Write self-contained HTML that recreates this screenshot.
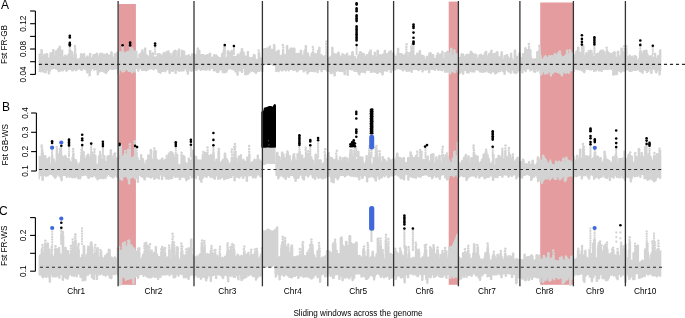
<!DOCTYPE html>
<html><head><meta charset="utf-8"><style>
html,body{margin:0;padding:0;background:#fff;width:685px;height:318px;overflow:hidden;}
svg{display:block;font-family:"Liberation Sans", sans-serif;filter:blur(0.35px);}
</style></head><body>
<svg width="685" height="318" viewBox="0 0 685 318">
<rect width="685" height="318" fill="#fff"/>
<rect x="118.7" y="4.0" width="17.20" height="280.80" fill="#e59c9e"/>
<rect x="448.7" y="1.6" width="9.30" height="283.20" fill="#e59c9e"/>
<rect x="540.2" y="2.5" width="33.10" height="282.30" fill="#e59c9e"/>
<path fill="#d3d3d3" d="M38.60 54 38.85 54 38.85 53.5 40.35 53.5 40.35 49.5 40.60 49.5 40.60 49 42.60 49 42.60 49.5 42.85 49.5 42.85 56 43.10 56 43.10 54 43.60 54 43.60 53.5 45.35 53.5 45.35 54 45.85 54 45.85 53.5 46.10 53.5 46.10 53 47.85 53 47.85 53.5 48.10 53.5 48.10 54 48.35 54 48.35 57.5 49.35 57.5 49.35 53.5 49.60 53.5 49.60 52.5 50.10 52.5 50.10 52 51.60 52 51.60 52.5 52.10 52.5 52.10 49.5 52.60 49.5 52.60 49 54.35 49 54.35 49.5 54.60 49.5 54.60 55.5 54.85 55.5 54.85 51 55.10 51 55.10 50.5 55.85 50.5 55.85 50 56.60 50 56.60 50.5 56.85 50.5 56.85 49 57.10 49 57.10 48.5 57.60 48.5 57.60 48 58.35 48 58.35 46.5 58.60 46.5 58.60 46 59.10 46 59.10 45.5 60.35 45.5 60.35 46 60.85 46 60.85 46.5 61.10 46.5 61.10 50 61.35 50 61.35 49.5 62.85 49.5 62.85 50 63.35 50 63.35 56 63.60 56 63.60 56.5 64.10 56.5 64.10 55 64.35 55 64.35 54.5 66.35 54.5 66.35 55 66.60 55 66.60 56 66.85 56 66.85 55.5 67.10 55.5 67.10 55 67.35 55 67.35 54.5 67.60 54.5 67.60 54 68.10 54 68.10 53.5 68.35 53.5 68.35 53 68.60 53 68.60 50 68.85 50 68.85 49.5 69.35 49.5 69.35 49 70.35 49 70.35 49.5 71.10 49.5 71.10 50 71.35 50 71.35 50.5 72.10 50.5 72.10 51 72.85 51 72.85 51.5 73.10 51.5 73.10 57 73.35 57 73.35 54 73.60 54 73.60 53.5 73.85 53.5 73.85 51.5 74.10 51.5 74.10 51 76.10 51 76.10 51.5 76.35 51.5 76.35 54 76.85 54 76.85 58.5 79.10 58.5 79.10 58 79.35 58 79.35 57.5 79.85 57.5 79.85 54 80.10 54 80.10 53.5 80.60 53.5 80.60 53 81.85 53 81.85 53.5 82.35 53.5 82.35 54 82.85 54 82.85 53.5 83.10 53.5 83.10 53 84.85 53 84.85 53.5 85.10 53.5 85.10 54 85.35 54 85.35 57 86.10 57 86.10 56 86.35 56 86.35 55.5 88.35 55.5 88.35 56 88.60 56 88.60 57.5 88.85 57.5 88.85 53.5 89.10 53.5 89.10 53 89.85 53 89.85 52.5 90.35 52.5 90.35 53 91.10 53 91.10 53.5 91.35 53.5 91.35 57.5 92.10 57.5 92.10 56 92.35 56 92.35 54.5 92.60 54.5 92.60 54 94.85 54 94.85 53.5 95.85 53.5 95.85 53 96.10 53 96.10 52.5 97.60 52.5 97.60 53 98.10 53 98.10 54.5 98.35 54.5 98.35 55 98.60 55 98.60 56.5 98.85 56.5 98.85 54 99.10 54 99.10 53.5 99.60 53.5 99.60 53 100.35 53 100.35 52.5 102.35 52.5 102.35 53 102.60 53 102.60 53.5 104.60 53.5 104.60 54 104.85 54 104.85 54.5 105.10 54.5 105.10 54 105.35 54 105.35 53.5 105.85 53.5 105.85 53 107.85 53 107.85 53.5 108.10 53.5 108.10 54 108.35 54 108.35 54.5 110.10 54.5 110.10 52 110.35 52 110.35 51.5 111.10 51.5 111.10 51 111.85 51 111.85 51.5 112.60 51.5 112.60 52 112.85 52 112.85 56.5 113.35 56.5 113.35 57 113.60 57 113.60 54 113.85 54 113.85 53.5 114.10 53.5 114.10 53 115.60 53 115.60 53.5 116.10 53.5 116.10 52 116.35 52 116.35 51.5 118.35 51.5 118.35 52 118.60 52 118.60 52.5 118.85 52.5 118.85 52 119.10 52 119.10 51.5 119.60 51.5 119.60 51 120.85 51 120.85 51.5 121.35 51.5 121.35 52 122.35 52 122.35 51.5 123.35 51.5 123.35 51 123.60 51 123.60 51.5 124.60 51.5 124.60 52 124.85 52 124.85 52.5 125.60 52.5 125.60 52 125.85 52 125.85 51.5 126.35 51.5 126.35 51 128.35 51 128.35 50.5 129.10 50.5 129.10 51 129.85 51 129.85 51.5 130.85 51.5 130.85 48 131.10 48 131.10 47.5 131.85 47.5 131.85 47 132.35 47 132.35 47.5 133.35 47.5 133.35 48.5 133.60 48.5 133.60 50.5 135.60 50.5 135.60 50 136.10 50 136.10 50.5 136.85 50.5 136.85 51 137.35 51 137.35 51.5 137.60 51.5 137.60 58.5 137.85 58.5 137.85 58 138.35 58 138.35 54 138.60 54 138.60 53.5 139.35 53.5 139.35 53 139.85 53 139.85 53.5 140.35 53.5 140.35 52 140.85 52 140.85 51.5 141.10 51.5 141.10 50 141.35 50 141.35 49.5 142.10 49.5 142.10 49 142.60 49 142.60 49.5 143.35 49.5 143.35 50 143.60 50 143.60 52 143.85 52 143.85 48 144.10 48 144.10 47.5 146.10 47.5 146.10 48 146.35 48 146.35 54 147.10 54 147.10 54.5 147.60 54.5 147.60 55 148.10 55 148.10 55.5 148.35 55.5 148.35 56 148.60 56 148.60 56.5 148.85 56.5 148.85 50.5 149.10 50.5 149.10 50 151.10 50 151.10 50.5 151.35 50.5 151.35 53 151.60 53 151.60 52.5 152.35 52.5 152.35 52 153.35 52 153.35 52.5 153.85 52.5 153.85 53 154.10 53 154.10 56.5 155.85 56.5 155.85 56 156.35 56 156.35 55.5 156.60 55.5 156.60 53.5 157.10 53.5 157.10 53 158.60 53 158.60 53.5 158.85 53.5 158.85 53 159.85 53 159.85 53.5 161.10 53.5 161.10 54 161.60 54 161.60 55.5 161.85 55.5 161.85 54.5 162.60 54.5 162.60 52.5 162.85 52.5 162.85 52 164.85 52 164.85 52.5 165.10 52.5 165.10 53.5 165.35 53.5 165.35 51.5 165.60 51.5 165.60 51 166.35 51 166.35 50.5 166.85 50.5 166.85 51 167.35 51 167.35 50.5 168.10 50.5 168.10 50 168.60 50 168.60 50.5 169.35 50.5 169.35 51 169.60 51 169.60 52.5 170.35 52.5 170.35 53 170.60 53 170.60 53.5 170.85 53.5 170.85 55.5 171.35 55.5 171.35 53 171.60 53 171.60 52.5 172.85 52.5 172.85 51 173.10 51 173.10 50.5 173.60 50.5 173.60 50 175.10 50 175.10 49.5 175.85 49.5 175.85 50 176.60 50 176.60 50.5 176.85 50.5 176.85 56.5 177.10 56.5 177.10 51 177.35 51 177.35 50.5 177.60 50.5 177.60 50 177.85 50 177.85 49 178.35 49 178.35 48.5 179.85 48.5 179.85 49 180.10 49 180.10 49.5 180.35 49.5 180.35 56.5 180.60 56.5 180.60 57 180.85 57 180.85 50.5 181.10 50.5 181.10 50 181.60 50 181.60 49.5 182.60 49.5 182.60 50 183.35 50 183.35 50.5 184.85 50.5 184.85 51 185.10 51 185.10 51.5 185.35 51.5 185.35 55.5 185.60 55.5 185.60 55 186.85 55 186.85 55.5 187.35 55.5 187.35 55 187.60 55 187.60 54.5 188.10 54.5 188.10 54 189.35 54 189.35 54.5 189.85 54.5 189.85 55 190.10 55 190.10 56 190.85 56 190.85 54 191.10 54 191.10 53.5 191.85 53.5 191.85 53 192.60 53 192.60 53.5 194.60 53.5 194.60 54 194.85 54 194.85 54.5 195.35 54.5 195.35 54 196.35 54 196.35 51.5 196.60 51.5 196.60 48 196.85 48 196.85 47.5 197.60 47.5 197.60 47 197.85 47 197.85 47.5 198.85 47.5 198.85 48 199.10 48 199.10 49.5 199.60 49.5 199.60 50 200.35 50 200.35 50.5 200.60 50.5 200.60 54.5 200.85 54.5 200.85 54 203.85 54 203.85 54.5 204.85 54.5 204.85 55 205.60 55 205.60 54.5 206.35 54.5 206.35 54 208.60 54 208.60 53.5 208.85 53.5 208.85 53 209.35 53 209.35 52.5 210.85 52.5 210.85 53 211.35 53 211.35 57 211.85 57 211.85 56.5 213.10 56.5 213.10 54.5 213.35 54.5 213.35 54 215.10 54 215.10 54.5 215.85 54.5 215.85 54 216.35 54 216.35 54.5 217.10 54.5 217.10 55 217.35 55 217.35 55.5 217.85 55.5 217.85 56 218.60 56 218.60 56.5 218.85 56.5 218.85 57 219.85 57 219.85 57.5 220.35 57.5 220.35 57 220.85 57 220.85 54 221.10 54 221.10 53.5 221.35 53.5 221.35 53 222.10 53 222.10 52.5 222.60 52.5 222.60 50 223.10 50 223.10 45 223.35 45 223.35 44.5 225.10 44.5 225.10 45 225.60 45 225.60 57 225.85 57 225.85 58 226.10 58 226.10 57 226.35 57 226.35 56 226.60 56 226.60 51 226.85 51 226.85 50.5 227.35 50.5 227.35 50 228.85 50 228.85 50.5 229.10 50.5 229.10 51 229.35 51 229.35 51.5 230.60 51.5 230.60 50.5 230.85 50.5 230.85 50 231.60 50 231.60 49.5 232.35 49.5 232.35 50 233.10 50 233.10 50.5 233.35 50.5 233.35 56 234.60 56 234.60 55.5 234.85 55.5 234.85 56 236.35 56 236.35 55.5 236.60 55.5 236.60 54 236.85 54 236.85 53.5 238.60 53.5 238.60 54 239.10 54 239.10 55 239.35 55 239.35 52.5 239.85 52.5 239.85 52 240.35 52 240.35 51.5 240.60 51.5 240.60 49 240.85 49 240.85 48.5 241.10 48.5 241.10 48 242.85 48 242.85 48.5 243.10 48.5 243.10 49 243.35 49 243.35 51.5 244.35 51.5 244.35 52 244.60 52 244.60 52.5 244.85 52.5 244.85 55.5 246.35 55.5 246.35 56 246.60 56 246.60 51.5 246.85 51.5 246.85 51 248.85 51 248.85 51.5 249.10 51.5 249.10 57 249.35 57 249.35 56.5 249.85 56.5 249.85 57 250.60 57 250.60 57.5 251.10 57.5 251.10 57 251.85 57 251.85 57.5 252.35 57.5 252.35 56 252.60 56 252.60 55 252.85 55 252.85 54.5 253.10 54.5 253.10 54 254.10 54 254.10 53.5 254.35 53.5 254.35 54 255.10 54 255.10 54.5 255.60 54.5 255.60 55 255.85 55 255.85 59 257.35 59 257.35 58.5 257.60 58.5 257.60 52.5 257.85 52.5 257.85 52 260.10 52 260.10 52.5 260.35 52.5 260.35 56 260.60 56 260.60 57.5 261.85 57.5 261.85 58 262.35 58 262.35 57.5 262.60 57.5 262.60 48.5 263.60 48.5 263.60 48 266.10 48 266.10 47.5 267.85 47.5 267.85 47 268.60 47 268.60 46 268.85 46 268.85 45.5 269.85 45.5 269.85 45 270.10 45 270.10 45.5 270.85 45.5 270.85 46 271.10 46 271.10 48.5 271.60 48.5 271.60 49 272.85 49 272.85 44.5 273.10 44.5 273.10 44 275.10 44 275.10 44.5 275.35 44.5 275.35 45 275.60 45 275.60 51.5 276.10 51.5 276.10 51 276.60 51 276.60 50.5 277.35 50.5 277.35 50 277.60 50 277.60 49.5 279.35 49.5 279.35 50 279.60 50 279.60 50.5 279.85 50.5 279.85 55.5 280.35 55.5 280.35 55 280.85 55 280.85 54.5 281.85 54.5 281.85 49.5 282.10 49.5 282.10 49 283.10 49 283.10 48.5 283.35 48.5 283.35 49 284.10 49 284.10 49.5 284.35 49.5 284.35 54.5 284.85 54.5 284.85 54 285.85 54 285.85 45.5 286.35 45.5 286.35 45 287.85 45 287.85 45.5 288.35 45.5 288.35 49.5 289.35 49.5 289.35 48.5 289.60 48.5 289.60 48 290.10 48 290.10 47.5 293.10 47.5 293.10 48 293.35 48 293.35 47.5 295.10 47.5 295.10 48 295.35 48 295.35 48.5 295.60 48.5 295.60 53 296.35 53 296.35 52.5 296.85 52.5 296.85 53 298.10 53 298.10 52.5 298.60 52.5 298.60 53 299.60 53 299.60 50.5 299.85 50.5 299.85 50 300.35 50 300.35 49.5 301.60 49.5 301.60 50 302.10 50 302.10 50.5 302.35 50.5 302.35 54.5 303.35 54.5 303.35 51 303.60 51 303.60 50 304.10 50 304.10 49.5 304.60 49.5 304.60 45.5 304.85 45.5 304.85 45 306.85 45 306.85 45.5 307.10 45.5 307.10 52.5 308.85 52.5 308.85 53 309.10 53 309.10 55.5 309.60 55.5 309.60 56 309.85 56 309.85 56.5 310.10 56.5 310.10 57.5 310.35 57.5 310.35 54 310.60 54 310.60 53.5 311.10 53.5 311.10 52.5 311.60 52.5 311.60 52 311.85 52 311.85 51.5 312.10 51.5 312.10 51 314.10 51 314.10 51.5 314.35 51.5 314.35 53.5 314.85 53.5 314.85 53 316.35 53 316.35 53.5 316.85 53.5 316.85 50.5 317.10 50.5 317.10 50 318.10 50 318.10 47.5 318.35 47.5 318.35 47 318.85 47 318.85 46.5 320.10 46.5 320.10 47 320.60 47 320.60 54.5 320.85 54.5 320.85 54 322.10 54 322.10 54.5 322.60 54.5 322.60 55 322.85 55 322.85 55.5 323.10 55.5 323.10 56 323.35 56 323.35 56.5 323.60 56.5 323.60 56 323.85 56 323.85 55.5 324.35 55.5 324.35 55 325.35 55 325.35 48.5 325.85 48.5 325.85 48 327.10 48 327.10 48.5 327.60 48.5 327.60 49 327.85 49 327.85 57 329.10 57 329.10 56.5 329.85 56.5 329.85 56 330.10 56 330.10 55.5 330.85 55.5 330.85 56 331.10 56 331.10 47 331.85 47 331.85 46.5 332.85 46.5 332.85 47 333.35 47 333.35 47.5 333.60 47.5 333.60 52.5 334.10 52.5 334.10 53 334.35 53 334.35 53.5 334.60 53.5 334.60 53 335.35 53 335.35 53.5 336.10 53.5 336.10 54 336.35 54 336.35 53.5 336.60 53.5 336.60 53 337.10 53 337.10 52.5 337.35 52.5 337.35 52 337.60 52 337.60 51.5 339.35 51.5 339.35 52 339.85 52 339.85 54.5 340.10 54.5 340.10 55 340.35 55 340.35 55.5 340.85 55.5 340.85 56 341.35 56 341.35 53.5 341.85 53.5 341.85 53 343.10 53 343.10 53.5 343.60 53.5 343.60 54 343.85 54 343.85 54.5 344.35 54.5 344.35 54 345.10 54 345.10 54.5 345.60 54.5 345.60 55 345.85 55 345.85 53.5 346.10 53.5 346.10 53 346.85 53 346.85 52.5 347.60 52.5 347.60 53 348.35 53 348.35 56 348.60 56 348.60 55.5 349.60 55.5 349.60 55 349.85 55 349.85 55.5 350.60 55.5 350.60 55 350.85 55 350.85 54.5 351.10 54.5 351.10 52 351.35 52 351.35 51.5 351.85 51.5 351.85 51 353.35 51 353.35 51.5 353.60 51.5 353.60 52 353.85 52 353.85 55.5 354.85 55.5 354.85 56 355.60 56 355.60 56.5 355.85 56.5 355.85 57 356.10 57 356.10 58.5 356.85 58.5 356.85 56 357.10 56 357.10 55.5 357.60 55.5 357.60 55 357.85 55 357.85 54.5 358.10 54.5 358.10 54 358.85 54 358.85 51.5 359.35 51.5 359.35 51 361.10 51 361.10 51.5 361.60 51.5 361.60 52 362.35 52 362.35 52.5 362.85 52.5 362.85 53.5 363.10 53.5 363.10 53 364.35 53 364.35 53.5 364.85 53.5 364.85 54 365.10 54 365.10 56 365.60 56 365.60 54.5 366.10 54.5 366.10 54 367.85 54 367.85 54.5 368.10 54.5 368.10 52.5 368.35 52.5 368.35 52 368.85 52 368.85 51.5 369.35 51.5 369.35 50 369.60 50 369.60 49.5 371.60 49.5 371.60 50 371.85 50 371.85 55 373.10 55 373.10 55.5 373.60 55.5 373.60 52.5 373.85 52.5 373.85 52 374.35 52 374.35 51.5 375.35 51.5 375.35 52 376.10 52 376.10 56.5 376.35 56.5 376.35 50.5 376.60 50.5 376.60 50 377.10 50 377.10 49.5 378.35 49.5 378.35 50 378.85 50 378.85 50.5 379.10 50.5 379.10 54.5 379.85 54.5 379.85 54 380.85 54 380.85 54.5 381.60 54.5 381.60 54 382.60 54 382.60 53.5 383.10 53.5 383.10 53 383.60 53 383.60 50.5 383.85 50.5 383.85 50 384.60 50 384.60 49.5 385.35 49.5 385.35 50 385.85 50 385.85 50.5 386.10 50.5 386.10 53 387.60 53 387.60 53.5 387.85 53.5 387.85 52 388.10 52 388.10 51.5 388.60 51.5 388.60 51 389.60 51 389.60 50.5 390.10 50.5 390.10 50 391.60 50 391.60 50.5 391.85 50.5 391.85 51 392.10 51 392.10 52 392.35 52 392.35 52.5 393.85 52.5 393.85 53 394.35 53 394.35 53.5 394.60 53.5 394.60 54 394.85 54 394.85 55.5 395.85 55.5 395.85 56 396.35 56 396.35 53.5 396.60 53.5 396.60 53 396.85 53 396.85 48 397.60 48 397.60 47.5 398.60 47.5 398.60 48 399.10 48 399.10 48.5 399.35 48.5 399.35 53 402.10 53 402.10 53.5 402.35 53.5 402.35 54 403.35 54 403.35 54.5 404.35 54.5 404.35 55 404.60 55 404.60 53.5 404.85 53.5 404.85 53 405.35 53 405.35 51.5 405.85 51.5 405.85 51 407.35 51 407.35 51.5 407.85 51.5 407.85 56.5 408.10 56.5 408.10 52.5 408.35 52.5 408.35 52 410.10 52 410.10 51 410.35 51 410.35 50.5 410.85 50.5 410.85 50 411.35 50 411.35 49 411.60 49 411.60 48.5 412.35 48.5 412.35 48 412.60 48 412.60 48.5 413.60 48.5 413.60 49 413.85 49 413.85 52 414.10 52 414.10 52.5 414.35 52.5 414.35 54.5 415.35 54.5 415.35 55 415.85 55 415.85 55.5 416.10 55.5 416.10 53 416.35 53 416.35 52.5 418.35 52.5 418.35 53 418.60 53 418.60 50.5 419.10 50.5 419.10 50 420.85 50 420.85 50.5 421.10 50.5 421.10 54.5 422.60 54.5 422.60 55 424.10 55 424.10 55.5 424.60 55.5 424.60 56 424.85 56 424.85 58.5 425.60 58.5 425.60 56 426.10 56 426.10 55.5 427.35 55.5 427.35 56 427.85 56 427.85 56.5 428.10 56.5 428.10 53.5 428.35 53.5 428.35 53 428.85 53 428.85 52.5 429.60 52.5 429.60 52 431.35 52 431.35 52.5 431.60 52.5 431.60 53 431.85 53 431.85 54.5 432.10 54.5 432.10 54 433.85 54 433.85 54.5 434.35 54.5 434.35 58 435.60 58 435.60 55.5 435.85 55.5 435.85 55 436.60 55 436.60 53 436.85 53 436.85 52.5 438.85 52.5 438.85 53 439.10 53 439.10 54 439.60 54 439.60 53.5 441.10 53.5 441.10 51 441.85 51 441.85 50.5 442.85 50.5 442.85 51 443.35 51 443.35 51.5 443.60 51.5 443.60 57.5 443.85 57.5 443.85 58 444.10 58 444.10 52.5 444.60 52.5 444.60 52 446.10 52 446.10 51.5 446.60 51.5 446.60 51 447.10 51 447.10 50.5 448.10 50.5 448.10 51 448.60 51 448.60 51.5 448.85 51.5 448.85 53.5 449.10 53.5 449.10 53 449.35 53 449.35 52.5 449.60 52.5 449.60 52 449.85 52 449.85 48.5 450.10 48.5 450.10 48 450.60 48 450.60 47.5 451.85 47.5 451.85 48 452.35 48 452.35 48.5 452.60 48.5 452.60 54 452.85 54 452.85 55 453.10 55 453.10 50 453.35 50 453.35 49.5 453.85 49.5 453.85 49 454.85 49 454.85 49.5 455.60 49.5 455.60 52 455.85 52 455.85 53.5 456.60 53.5 456.60 53 457.35 53 457.35 53.5 458.10 53.5 458.10 54.5 458.35 54.5 458.35 57 460.10 57 460.10 56 460.35 56 460.35 54 460.60 54 460.60 53.5 461.10 53.5 461.10 53 462.10 53 462.10 53.5 463.85 53.5 463.85 54 464.10 54 464.10 54.5 464.35 54.5 464.35 56 464.85 56 464.85 55.5 465.10 55.5 465.10 55 465.35 55 465.35 54.5 465.60 54.5 465.60 54 467.10 54 467.10 53.5 468.35 53.5 468.35 54 469.10 54 469.10 53.5 469.60 53.5 469.60 51.5 469.85 51.5 469.85 51 470.35 51 470.35 50.5 471.60 50.5 471.60 51 472.10 51 472.10 51.5 472.35 51.5 472.35 52 472.60 52 472.60 52.5 473.10 52.5 473.10 53 473.85 53 473.85 53.5 476.35 53.5 476.35 54 477.10 54 477.10 54.5 477.35 54.5 477.35 57.5 478.10 57.5 478.10 55.5 478.35 55.5 478.35 55 478.60 55 478.60 54.5 479.10 54.5 479.10 54 480.35 54 480.35 53.5 481.35 53.5 481.35 54 482.10 54 482.10 55 483.60 55 483.60 53.5 483.85 53.5 483.85 53 484.10 53 484.10 52.5 484.35 52.5 484.35 52 484.85 52 484.85 51 485.60 51 485.60 50.5 486.60 50.5 486.60 51 487.10 51 487.10 51.5 487.35 51.5 487.35 55.5 487.85 55.5 487.85 54 488.10 54 488.10 53.5 488.35 53.5 488.35 53 488.85 53 488.85 52.5 490.10 52.5 490.10 50.5 490.35 50.5 490.35 50 490.85 50 490.85 49.5 492.10 49.5 492.10 50 492.60 50 492.60 53.5 493.10 53.5 493.10 53 494.85 53 494.85 52.5 495.60 52.5 495.60 52 496.10 52 496.10 51.5 496.35 51.5 496.35 51 498.10 51 498.10 51.5 498.35 51.5 498.35 52 498.60 52 498.60 55.5 498.85 55.5 498.85 56 499.35 56 499.35 56.5 499.60 56.5 499.60 57 499.85 57 499.85 56 500.10 56 500.10 55.5 500.35 55.5 500.35 52 500.60 52 500.60 51.5 501.10 51.5 501.10 51 502.10 51 502.10 51.5 502.85 51.5 502.85 59 503.10 59 503.10 58.5 503.35 58.5 503.35 55.5 503.60 55.5 503.60 55 505.60 55 505.60 54.5 505.85 54.5 505.85 54 507.85 54 507.85 54.5 508.10 54.5 508.10 55.5 508.35 55.5 508.35 56 508.60 56 508.60 56.5 508.85 56.5 508.85 57 509.35 57 509.35 57.5 509.60 57.5 509.60 58 509.85 58 509.85 53 510.35 53 510.35 52.5 511.60 52.5 511.60 53 512.10 53 512.10 53.5 512.35 53.5 512.35 57.5 512.60 57.5 512.60 58 512.85 58 512.85 59 513.10 59 513.10 59.5 513.60 59.5 513.60 50.5 513.85 50.5 513.85 50 514.10 50 514.10 49.5 516.10 49.5 516.10 50 516.35 50 516.35 56 516.60 56 516.60 55.5 517.60 55.5 517.60 56 518.10 56 518.10 53.5 518.35 53.5 518.35 52.5 519.10 52.5 519.10 52 520.10 52 520.10 52.5 520.60 52.5 520.60 53 520.85 53 520.85 56.5 521.10 56.5 521.10 57 521.60 57 521.60 57.5 521.85 57.5 521.85 54 522.10 54 522.10 53.5 522.35 53.5 522.35 53 524.10 53 524.10 48 524.35 48 524.35 47.5 524.85 47.5 524.85 47 526.10 47 526.10 47.5 526.60 47.5 526.60 49 527.85 49 527.85 48.5 528.10 48.5 528.10 48 529.60 48 529.60 48.5 530.10 48.5 530.10 49 531.10 49 531.10 49.5 531.35 49.5 531.35 50 531.60 50 531.60 56.5 531.85 56.5 531.85 57.5 532.10 57.5 532.10 58.5 533.10 58.5 533.10 58 533.60 58 533.60 58.5 534.35 58.5 534.35 59 534.60 59 534.60 58.5 535.10 58.5 535.10 58 536.10 58 536.10 51.5 536.60 51.5 536.60 51 538.10 51 538.10 50 538.35 50 538.35 49.5 538.60 49.5 538.60 49 540.35 49 540.35 49.5 540.85 49.5 540.85 54 541.35 54 541.35 55.5 541.60 55.5 541.60 56 541.85 56 541.85 58.5 542.10 58.5 542.10 59 542.35 59 542.35 58.5 542.60 58.5 542.60 58 542.85 58 542.85 57.5 543.60 57.5 543.60 56.5 543.85 56.5 543.85 56 544.35 56 544.35 55.5 544.85 55.5 544.85 55 546.10 55 546.10 55.5 546.60 55.5 546.60 56 546.85 56 546.85 57.5 547.10 57.5 547.10 57 547.85 57 547.85 56 548.35 56 548.35 55.5 548.60 55.5 548.60 55 550.35 55 550.35 55.5 550.85 55.5 550.85 55 553.35 55 553.35 55.5 553.60 55.5 553.60 53.5 553.85 53.5 553.85 53 555.85 53 555.85 53.5 556.10 53.5 556.10 55 556.35 55 556.35 54 556.60 54 556.60 53.5 557.35 53.5 557.35 52 558.10 52 558.10 51.5 559.10 51.5 559.10 52 560.35 52 560.35 52.5 561.10 52.5 561.10 53 561.35 53 561.35 55 561.85 55 561.85 55.5 562.10 55.5 562.10 56 562.35 56 562.35 56.5 562.85 56.5 562.85 56 564.10 56 564.10 55.5 564.35 55.5 564.35 55 564.85 55 564.85 54.5 565.60 54.5 565.60 54 565.85 54 565.85 50.5 566.10 50.5 566.10 50 566.35 50 566.35 49.5 567.85 49.5 567.85 50 568.35 50 568.35 53.5 568.85 53.5 568.85 52 569.10 52 569.10 51.5 569.60 51.5 569.60 51 570.85 51 570.85 51.5 571.35 51.5 571.35 52.5 573.10 52.5 573.10 53 573.35 53 573.35 53.5 573.60 53.5 573.60 55 573.85 55 573.85 54.5 574.85 54.5 574.85 53 575.10 53 575.10 51.5 575.35 51.5 575.35 51 575.85 51 575.85 50.5 576.85 50.5 576.85 47.5 577.10 47.5 577.10 47 577.35 47 577.35 46.5 579.10 46.5 579.10 47 579.35 47 579.35 47.5 579.60 47.5 579.60 52 580.10 52 580.10 51.5 580.35 51.5 580.35 52 580.85 52 580.85 51.5 581.10 51.5 581.10 51 581.35 51 581.35 50.5 582.10 50.5 582.10 46 582.35 46 582.35 45.5 582.85 45.5 582.85 45 583.85 45 583.85 45.5 584.35 45.5 584.35 46 584.60 46 584.60 55 585.10 55 585.10 53 585.35 53 585.35 52.5 586.10 52.5 586.10 52 587.10 52 587.10 52.5 587.60 52.5 587.60 50.5 587.85 50.5 587.85 50 590.10 50 590.10 49.5 591.10 49.5 591.10 50 592.35 50 592.35 50.5 592.60 50.5 592.60 53 593.35 53 593.35 53.5 593.60 53.5 593.60 56 594.35 56 594.35 54 594.60 54 594.60 53.5 596.60 53.5 596.60 53 596.85 53 596.85 52.5 598.35 52.5 598.35 53 598.85 53 598.85 51.5 599.10 51.5 599.10 51 599.60 51 599.60 50.5 600.10 50.5 600.10 50 600.60 50 600.60 49.5 603.85 49.5 603.85 50 604.10 50 604.10 51 604.60 51 604.60 51.5 605.10 51.5 605.10 52 605.35 52 605.35 54.5 605.60 54.5 605.60 50 605.85 50 605.85 49.5 606.35 49.5 606.35 49 607.35 49 607.35 49.5 608.10 49.5 608.10 51 608.60 51 608.60 51.5 608.85 51.5 608.85 52 609.60 52 609.60 52.5 609.85 52.5 609.85 53 610.35 53 610.35 52.5 610.85 52.5 610.85 53 611.60 53 611.60 53.5 611.85 53.5 611.85 52.5 612.35 52.5 612.35 52 613.35 52 613.35 51.5 613.85 51.5 613.85 51 615.10 51 615.10 51.5 615.60 51.5 615.60 52 615.85 52 615.85 56.5 616.35 56.5 616.35 57 616.60 57 616.60 51.5 616.85 51.5 616.85 51 617.35 51 617.35 50.5 618.85 50.5 618.85 51 619.10 51 619.10 51.5 619.35 51.5 619.35 55.5 619.85 55.5 619.85 55 620.35 55 620.35 48 620.60 48 620.60 47.5 622.60 47.5 622.60 48 622.85 48 622.85 51 623.35 51 623.35 50.5 625.60 50.5 625.60 50 627.10 50 627.10 50.5 627.60 50.5 627.60 56 628.10 56 628.10 56.5 628.35 56.5 628.35 55.5 628.60 55.5 628.60 55 629.10 55 629.10 54.5 630.35 54.5 630.35 55 630.85 55 630.85 56 631.10 56 631.10 56.5 631.35 56.5 631.35 56 631.60 56 631.60 55.5 632.85 55.5 632.85 56 633.10 56 633.10 56.5 633.35 56.5 633.35 57.5 633.60 57.5 633.60 55.5 633.85 55.5 633.85 55 635.85 55 635.85 55.5 636.35 55.5 636.35 56 637.10 56 637.10 56.5 637.35 56.5 637.35 59.5 638.10 59.5 638.10 58.5 638.35 58.5 638.35 58 638.60 58 638.60 57.5 638.85 57.5 638.85 52.5 639.35 52.5 639.35 51 639.85 51 639.85 50.5 641.35 50.5 641.35 51 641.85 51 641.85 53 642.35 53 642.35 52.5 642.60 52.5 642.60 50.5 642.85 50.5 642.85 50 644.85 50 644.85 50.5 645.10 50.5 645.10 50 645.60 50 645.60 49.5 647.10 49.5 647.10 50 647.60 50 647.60 53 647.85 53 647.85 53.5 648.35 53.5 648.35 54.5 648.60 54.5 648.60 55 649.10 55 649.10 55.5 649.35 55.5 649.35 56 649.60 56 649.60 55.5 650.60 55.5 650.60 55 652.60 55 652.60 55.5 652.85 55.5 652.85 57 653.10 57 653.10 56.5 653.60 56.5 653.60 57 653.85 57 653.85 53.5 654.10 53.5 654.10 53 654.85 53 654.85 52.5 655.60 52.5 655.60 53 656.10 53 656.10 53.5 656.35 53.5 656.35 57.5 656.60 57.5 656.60 58 656.85 58 656.85 56 657.10 56 657.10 55.5 657.60 55.5 657.60 55 658.85 55 658.85 50.5 659.10 50.5 659.10 50 659.60 50 659.60 49.5 660.10 49.5 660.10 49 661.35 49 661.35 49.5 661.35 49.5 661.35 70.5 660.85 70.5 660.85 74.5 660.60 74.5 660.60 75 660.35 75 660.35 75.5 658.60 75.5 658.60 75 658.35 75 658.35 70.5 658.10 70.5 658.10 71 657.60 71 657.60 72.5 657.35 72.5 657.35 73 656.85 73 656.85 73.5 655.60 73.5 655.60 73 655.10 73 655.10 71.5 654.60 71.5 654.60 70 653.60 70 653.60 69.5 652.60 69.5 652.60 73.5 652.35 73.5 652.35 74 650.35 74 650.35 73.5 650.10 73.5 650.10 70 649.35 70 649.35 71.5 649.10 71.5 649.10 72 648.10 72 648.10 72.5 647.85 72.5 647.85 73 646.10 73 646.10 72.5 645.85 72.5 645.85 71 644.85 71 644.85 70.5 643.85 70.5 643.85 72.5 643.60 72.5 643.60 73.5 642.85 73.5 642.85 74 642.10 74 642.10 73.5 641.35 73.5 641.35 72 640.85 72 640.85 72.5 639.85 72.5 639.85 72 639.10 72 639.10 70.5 636.35 70.5 636.35 71 634.10 71 634.10 70.5 633.35 70.5 633.35 71 633.10 71 633.10 71.5 631.60 71.5 631.60 72 630.10 72 630.10 72.5 629.60 72.5 629.60 72 628.85 72 628.85 71.5 628.60 71.5 628.60 70.5 626.85 70.5 626.85 70 626.35 70 626.35 71 626.10 71 626.10 71.5 625.60 71.5 625.60 72 624.35 72 624.35 71.5 623.10 71.5 623.10 72 622.10 72 622.10 72.5 621.60 72.5 621.60 73 620.35 73 620.35 72.5 619.85 72.5 619.85 72 619.10 72 619.10 71.5 618.35 71.5 618.35 71 618.10 71 618.10 74.5 617.85 74.5 617.85 75 617.10 75 617.10 75.5 616.60 75.5 616.60 75 615.35 75 615.35 75.5 614.60 75.5 614.60 75 614.35 75 614.35 75.5 613.85 75.5 613.85 76 612.85 76 612.85 75.5 612.35 75.5 612.35 75 612.10 75 612.10 70 610.35 70 610.35 69.5 609.10 69.5 609.10 70 602.85 70 602.85 71.5 602.35 71.5 602.35 72 600.60 72 600.60 71.5 600.35 71.5 600.35 70.5 600.10 70.5 600.10 71 599.85 71 599.85 71.5 598.10 71.5 598.10 71 597.85 71 597.85 70 597.10 70 597.10 71 596.85 71 596.85 71.5 594.85 71.5 594.85 72 593.35 72 593.35 71.5 592.85 71.5 592.85 70 592.10 70 592.10 70.5 589.35 70.5 589.35 70 586.85 70 586.85 69.5 585.60 69.5 585.60 72 585.35 72 585.35 73 584.60 73 584.60 73.5 583.85 73.5 583.85 73 583.10 73 583.10 72 582.85 72 582.85 71.5 581.35 71.5 581.35 71 581.10 71 581.10 70.5 577.60 70.5 577.60 70 575.60 70 575.60 69.5 574.85 69.5 574.85 72 574.10 72 574.10 72.5 573.35 72.5 573.35 72 572.60 72 572.60 71.5 572.35 71.5 572.35 71 570.85 71 570.85 71.5 570.35 71.5 570.35 72.5 570.10 72.5 570.10 73.5 569.60 73.5 569.60 74 568.10 74 568.10 73.5 567.85 73.5 567.85 73 567.35 73 567.35 73.5 566.85 73.5 566.85 74 565.60 74 565.60 73.5 564.10 73.5 564.10 73 563.85 73 563.85 72.5 563.35 72.5 563.35 75.5 563.10 75.5 563.10 76 562.85 76 562.85 76.5 561.10 76.5 561.10 76 560.85 76 560.85 75 560.35 75 560.35 74.5 559.60 74.5 559.60 74 559.35 74 559.35 73.5 557.85 73.5 557.85 73 556.35 73 556.35 72.5 553.85 72.5 553.85 73.5 553.60 73.5 553.60 74 552.10 74 552.10 76 551.85 76 551.85 76.5 549.85 76.5 549.85 75.5 549.60 75.5 549.60 72 549.10 72 549.10 72.5 548.85 72.5 548.85 73 548.60 73 548.60 73.5 547.85 73.5 547.85 74 547.35 74 547.35 74.5 544.10 74.5 544.10 74 543.85 74 543.85 73.5 543.60 73.5 543.60 72 543.10 72 543.10 73.5 542.60 73.5 542.60 75 542.35 75 542.35 75.5 540.35 75.5 540.35 75 540.10 75 540.10 74.5 539.85 74.5 539.85 74 539.60 74 539.60 73.5 539.35 73.5 539.35 70 538.85 70 538.85 70.5 538.60 70.5 538.60 71.5 538.10 71.5 538.10 72 536.85 72 536.85 71.5 536.35 71.5 536.35 69.5 536.10 69.5 536.10 72.5 535.60 72.5 535.60 73 534.35 73 534.35 72.5 533.10 72.5 533.10 72 532.85 72 532.85 70.5 532.35 70.5 532.35 70 532.10 70 532.10 69.5 531.85 69.5 531.85 71 531.35 71 531.35 71.5 529.60 71.5 529.60 71 529.35 71 529.35 69.5 526.85 69.5 526.85 71.5 526.60 71.5 526.60 72 525.85 72 525.85 72.5 525.35 72.5 525.35 72 524.60 72 524.60 71.5 524.35 71.5 524.35 70 523.85 70 523.85 70.5 523.60 70.5 523.60 73 523.10 73 523.10 73.5 521.60 73.5 521.60 73 521.10 73 521.10 70 520.85 70 520.85 70.5 519.85 70.5 519.85 71 519.10 71 519.10 71.5 518.35 71.5 518.35 72.5 518.10 72.5 518.10 73 516.85 73 516.85 74 515.85 74 515.85 74.5 515.35 74.5 515.35 74 514.60 74 514.60 73.5 513.10 73.5 513.10 73 512.85 73 512.85 72.5 512.60 72.5 512.60 70.5 511.85 70.5 511.85 73.5 511.35 73.5 511.35 74 510.10 74 510.10 73.5 509.60 73.5 509.60 73 509.35 73 509.35 72 509.10 72 509.10 72.5 507.85 72.5 507.85 72 507.35 72 507.35 71.5 507.10 71.5 507.10 70.5 505.85 70.5 505.85 74 505.60 74 505.60 74.5 505.35 74.5 505.35 75 503.85 75 503.85 74.5 503.35 74.5 503.35 72.5 503.10 72.5 503.10 72 502.10 72 502.10 71.5 501.85 71.5 501.85 70 501.60 70 501.60 71.5 500.85 71.5 500.85 72 499.85 72 499.85 72.5 498.85 72.5 498.85 72 498.35 72 498.35 72.5 497.60 72.5 497.60 73.5 497.10 73.5 497.10 74 495.85 74 495.85 74.5 494.35 74.5 494.35 74 494.10 74 494.10 73.5 493.85 73.5 493.85 72 493.60 72 493.60 72.5 491.85 72.5 491.85 73.5 491.35 73.5 491.35 74 490.10 74 490.10 73.5 489.60 73.5 489.60 73 487.85 73 487.85 72.5 487.35 72.5 487.35 71.5 486.35 71.5 486.35 72 486.10 72 486.10 72.5 483.60 72.5 483.60 73 482.10 73 482.10 72.5 481.35 72.5 481.35 73 480.60 73 480.60 72.5 479.10 72.5 479.10 72 478.85 72 478.85 71 478.10 71 478.10 70.5 476.85 70.5 476.85 70 476.35 70 476.35 70.5 475.85 70.5 475.85 71 475.35 71 475.35 72 475.10 72 475.10 72.5 474.60 72.5 474.60 73 473.85 73 473.85 72.5 473.10 72.5 473.10 72 472.85 72 472.85 72.5 471.10 72.5 471.10 72 470.60 72 470.60 71.5 470.10 71.5 470.10 72 469.85 72 469.85 72.5 469.60 72.5 469.60 73.5 466.35 73.5 466.35 73 465.85 73 465.85 71 464.35 71 464.35 74 464.10 74 464.10 74.5 463.35 74.5 463.35 75 462.60 75 462.60 74.5 462.10 74.5 462.10 74 461.85 74 461.85 72.5 461.35 72.5 461.35 73 461.10 73 461.10 73.5 460.35 73.5 460.35 74 459.60 74 459.60 74.5 458.85 74.5 458.85 74 458.35 74 458.35 73.5 458.10 73.5 458.10 73 457.60 73 457.60 72.5 457.10 72.5 457.10 72 456.85 72 456.85 70.5 456.35 70.5 456.35 70 455.85 70 455.85 73 455.35 73 455.35 73.5 453.85 73.5 453.85 73 453.60 73 453.60 72.5 452.85 72.5 452.85 72 451.60 72 451.60 73.5 451.35 73.5 451.35 74 451.10 74 451.10 74.5 449.60 74.5 449.60 74 449.10 74 449.10 72 448.85 72 448.85 72.5 448.10 72.5 448.10 73 447.35 73 447.35 72.5 446.60 72.5 446.60 72 446.35 72 446.35 72.5 445.85 72.5 445.85 73 444.60 73 444.60 72.5 444.10 72.5 444.10 69.5 443.60 69.5 443.60 71 443.10 71 443.10 71.5 441.85 71.5 441.85 71 440.60 71 440.60 70.5 439.10 70.5 439.10 71 437.10 71 437.10 70.5 436.60 70.5 436.60 69 436.10 69 436.10 69.5 435.85 69.5 435.85 70.5 435.35 70.5 435.35 71 434.10 71 434.10 70.5 433.60 70.5 433.60 70 430.35 70 430.35 73 429.60 73 429.60 73.5 428.60 73.5 428.60 73 428.10 73 428.10 72.5 427.85 72.5 427.85 70 427.10 70 427.10 70.5 423.85 70.5 423.85 71.5 423.60 71.5 423.60 72 423.35 72 423.35 72.5 421.60 72.5 421.60 72 421.35 72 421.35 70 419.85 70 419.85 70.5 419.60 70.5 419.60 71 418.85 71 418.85 71.5 418.10 71.5 418.10 71 417.35 71 417.35 70 412.85 70 412.85 72.5 412.35 72.5 412.35 73 411.10 73 411.10 72.5 410.60 72.5 410.60 72 410.35 72 410.35 71 410.10 71 410.10 71.5 409.60 71.5 409.60 72 408.60 72 408.60 71.5 408.10 71.5 408.10 71 407.85 71 407.85 71.5 407.60 71.5 407.60 72 405.85 72 405.85 71.5 405.60 71.5 405.60 71 405.35 71 405.35 69.5 405.10 69.5 405.10 70 404.35 70 404.35 71 403.85 71 403.85 71.5 402.10 71.5 402.10 71 401.85 71 401.85 70 400.35 70 400.35 69.5 396.35 69.5 396.35 70 396.10 70 396.10 70.5 394.10 70.5 394.10 70 393.85 70 393.85 69.5 393.35 69.5 393.35 70 392.60 70 392.60 71 392.35 71 392.35 71.5 392.10 71.5 392.10 72.5 391.85 72.5 391.85 73 389.85 73 389.85 72.5 389.60 72.5 389.60 70 388.35 70 388.35 71 388.10 71 388.10 71.5 387.60 71.5 387.60 72 386.60 72 386.60 71.5 385.85 71.5 385.85 71 385.60 71 385.60 71.5 383.85 71.5 383.85 74.5 383.60 74.5 383.60 75 383.35 75 383.35 75.5 381.60 75.5 381.60 75 381.35 75 381.35 73 380.10 73 380.10 72.5 379.85 72.5 379.85 72 379.35 72 379.35 73 379.10 73 379.10 73.5 378.10 73.5 378.10 74 376.35 74 376.35 73.5 376.10 73.5 376.10 73 374.85 73 374.85 72.5 373.85 72.5 373.85 73 373.60 73 373.60 72.5 372.10 72.5 372.10 73 370.10 73 370.10 72.5 369.85 72.5 369.85 70.5 369.35 70.5 369.35 71 367.60 71 367.60 70.5 366.60 70.5 366.60 71 366.35 71 366.35 71.5 366.10 71.5 366.10 73 365.60 73 365.60 73.5 364.35 73.5 364.35 73 363.85 73 363.85 72.5 363.10 72.5 363.10 73 361.85 73 361.85 72.5 361.10 72.5 361.10 73 360.60 73 360.60 74.5 360.35 74.5 360.35 75 359.85 75 359.85 75.5 358.60 75.5 358.60 75 358.10 75 358.10 74 357.85 74 357.85 73.5 357.35 73.5 357.35 72 355.60 72 355.60 71.5 355.10 71.5 355.10 72 353.85 72 353.85 71.5 353.35 71.5 353.35 70 353.10 70 353.10 70.5 350.85 70.5 350.85 70 348.85 70 348.85 75.5 348.35 75.5 348.35 76 346.85 76 346.85 75.5 346.35 75.5 346.35 70 345.85 70 345.85 75 345.10 75 345.10 75.5 344.35 75.5 344.35 75 343.60 75 343.60 74 343.35 74 343.35 71.5 343.10 71.5 343.10 72 341.60 72 341.60 71.5 341.35 71.5 341.35 72 340.10 72 340.10 71.5 339.85 71.5 339.85 72 338.60 72 338.60 71.5 338.10 71.5 338.10 71 337.85 71 337.85 70.5 337.60 70.5 337.60 71.5 336.85 71.5 336.85 72 336.10 72 336.10 71.5 335.85 71.5 335.85 76 335.35 76 335.35 76.5 333.60 76.5 333.60 76 333.35 76 333.35 73 333.10 73 333.10 73.5 332.35 73.5 332.35 74 331.60 74 331.60 74.5 330.35 74.5 330.35 74 329.85 74 329.85 73.5 329.60 73.5 329.60 72.5 329.35 72.5 329.35 72 327.85 72 327.85 71.5 326.10 71.5 326.10 71 325.85 71 325.85 70.5 325.60 70.5 325.60 70 322.85 70 322.85 72 322.10 72 322.10 72.5 321.35 72.5 321.35 72 320.60 72 320.60 71.5 320.35 71.5 320.35 70 318.85 70 318.85 72.5 318.60 72.5 318.60 73 317.60 73 317.60 73.5 317.35 73.5 317.35 73 316.60 73 316.60 72.5 316.35 72.5 316.35 71 316.10 71 316.10 71.5 315.85 71.5 315.85 72 315.35 72 315.35 72.5 314.10 72.5 314.10 72 313.60 72 313.60 71.5 313.35 71.5 313.35 72 310.85 72 310.85 71.5 310.35 71.5 310.35 72 309.60 72 309.60 72.5 308.85 72.5 308.85 73.5 308.60 73.5 308.60 74 308.10 74 308.10 74.5 306.85 74.5 306.85 74 306.35 74 306.35 71 305.10 71 305.10 72 304.60 72 304.60 72.5 303.10 72.5 303.10 72 302.60 72 302.60 70.5 302.35 70.5 302.35 70 300.10 70 300.10 70.5 298.60 70.5 298.60 71.5 298.35 71.5 298.35 72 297.85 72 297.85 72.5 296.60 72.5 296.60 72 296.10 72 296.10 71.5 295.85 71.5 295.85 71 295.35 71 295.35 70.5 295.10 70.5 295.10 70 294.85 70 294.85 70.5 294.60 70.5 294.60 71 292.60 71 292.60 70.5 292.35 70.5 292.35 70 289.85 70 289.85 71 289.35 71 289.35 71.5 287.85 71.5 287.85 71 287.60 71 287.60 70.5 287.35 70.5 287.35 70 286.85 70 286.85 71 286.60 71 286.60 71.5 284.85 71.5 284.85 71 284.60 71 284.60 70.5 284.35 70.5 284.35 70 284.10 70 284.10 70.5 283.35 70.5 283.35 71 283.10 71 283.10 71.5 281.10 71.5 281.10 71 280.85 71 280.85 70.5 279.85 70.5 279.85 71.5 279.60 71.5 279.60 72 279.10 72 279.10 72.5 278.10 72.5 278.10 72 277.60 72 277.60 71.5 277.10 71.5 277.10 72 275.35 72 275.35 71.5 275.10 71.5 275.10 66 272.85 66 272.85 65.5 271.85 65.5 271.85 65 271.10 65 271.10 64.5 267.60 64.5 267.60 65 264.60 65 264.60 65.5 263.60 65.5 263.60 71.5 263.35 71.5 263.35 72 261.35 72 261.35 71.5 261.10 71.5 261.10 70.5 260.60 70.5 260.60 71 260.35 71 260.35 71.5 260.10 71.5 260.10 72 257.10 72 257.10 73.5 256.85 73.5 256.85 74 255.10 74 255.10 73.5 254.85 73.5 254.85 73 254.60 73 254.60 72 254.35 72 254.35 72.5 253.10 72.5 253.10 72 252.60 72 252.60 71.5 251.85 71.5 251.85 72 251.10 72 251.10 71.5 250.60 71.5 250.60 73 250.10 73 250.10 73.5 248.85 73.5 248.85 74.5 248.60 74.5 248.60 75 246.85 75 246.85 74.5 246.60 74.5 246.60 75 246.35 75 246.35 75.5 244.60 75.5 244.60 75 244.35 75 244.35 74.5 244.10 74.5 244.10 69 243.35 69 243.35 72.5 242.85 72.5 242.85 73 241.10 73 241.10 72.5 240.85 72.5 240.85 71.5 239.35 71.5 239.35 71 239.10 71 239.10 70.5 238.85 70.5 238.85 75 238.60 75 238.60 75.5 238.10 75.5 238.10 76 237.10 76 237.10 75.5 236.60 75.5 236.60 75 236.35 75 236.35 72.5 235.85 72.5 235.85 73 235.35 73 235.35 72.5 234.60 72.5 234.60 72 234.35 72 234.35 70.5 232.60 70.5 232.60 70 231.60 70 231.60 69.5 227.85 69.5 227.85 71.5 227.60 71.5 227.60 72.5 226.85 72.5 226.85 73 226.10 73 226.10 72.5 225.85 72.5 225.85 73 225.35 73 225.35 73.5 224.35 73.5 224.35 73 223.35 73 223.35 73.5 222.35 73.5 222.35 73 221.85 73 221.85 72.5 221.60 72.5 221.60 70 221.35 70 221.35 70.5 219.60 70.5 219.60 72.5 219.10 72.5 219.10 73 217.60 73 217.60 72.5 217.35 72.5 217.35 73 216.35 73 216.35 72.5 215.60 72.5 215.60 71.5 215.35 71.5 215.35 71 214.85 71 214.85 71.5 213.35 71.5 213.35 71 212.85 71 212.85 70.5 212.60 70.5 212.60 69 210.85 69 210.85 70 210.60 70 210.60 70.5 210.35 70.5 210.35 71 208.85 71 208.85 70.5 208.35 70.5 208.35 69 208.10 69 208.10 69.5 207.60 69.5 207.60 70 207.35 70 207.35 70.5 207.10 70.5 207.10 71 205.60 71 205.60 70.5 205.10 70.5 205.10 70 204.85 70 204.85 70.5 202.35 70.5 202.35 70 201.85 70 201.85 70.5 201.35 70.5 201.35 71 199.85 71 199.85 70.5 199.60 70.5 199.60 70 199.35 70 199.35 69.5 197.85 69.5 197.85 70.5 197.60 70.5 197.60 71 196.60 71 196.60 71.5 196.35 71.5 196.35 71 195.60 71 195.60 70.5 195.35 70.5 195.35 69.5 194.60 69.5 194.60 69 194.10 69 194.10 70 193.85 70 193.85 70.5 192.85 70.5 192.85 71.5 192.35 71.5 192.35 72 190.85 72 190.85 71.5 189.60 71.5 189.60 71 189.35 71 189.35 70 189.10 70 189.10 74 188.85 74 188.85 74.5 188.35 74.5 188.35 75 187.35 75 187.35 74.5 186.85 74.5 186.85 74 186.60 74 186.60 72 186.35 72 186.35 71.5 186.10 71.5 186.10 71 185.85 71 185.85 69.5 184.85 69.5 184.85 70.5 184.60 70.5 184.60 71 184.35 71 184.35 71.5 182.60 71.5 182.60 71 182.35 71 182.35 71.5 181.60 71.5 181.60 72 181.35 72 181.35 71.5 179.85 71.5 179.85 72 178.60 72 178.60 71.5 177.85 71.5 177.85 71 177.35 71 177.35 70.5 176.85 70.5 176.85 73.5 176.60 73.5 176.60 74 174.85 74 174.85 73.5 174.35 73.5 174.35 69.5 174.10 69.5 174.10 71 173.85 71 173.85 71.5 173.60 71.5 173.60 72 172.10 72 172.10 71.5 171.85 71.5 171.85 72 171.35 72 171.35 71.5 170.85 71.5 170.85 73.5 170.60 73.5 170.60 74 168.85 74 168.85 73.5 168.60 73.5 168.60 73 168.35 73 168.35 70.5 167.35 70.5 167.35 70 166.60 70 166.60 71.5 166.35 71.5 166.35 72 165.85 72 165.85 72.5 164.85 72.5 164.85 72 164.35 72 164.35 71.5 163.85 71.5 163.85 72 163.10 72 163.10 72.5 162.60 72.5 162.60 72 161.85 72 161.85 71.5 161.60 71.5 161.60 73 161.35 73 161.35 73.5 160.85 73.5 160.85 74 159.85 74 159.85 73.5 159.35 73.5 159.35 73 158.10 73 158.10 72.5 157.60 72.5 157.60 72 157.35 72 157.35 70 157.10 70 157.10 69.5 156.10 69.5 156.10 69 155.10 69 155.10 69.5 154.85 69.5 154.85 70 154.60 70 154.60 70.5 153.10 70.5 153.10 70 152.60 70 152.60 69.5 149.10 69.5 149.10 70 148.85 70 148.85 70.5 147.35 70.5 147.35 71 146.85 71 146.85 71.5 145.35 71.5 145.35 71 141.35 71 141.35 70.5 141.10 70.5 141.10 70 140.85 70 140.85 69.5 140.60 69.5 140.60 69 139.60 69 139.60 71 139.35 71 139.35 71.5 138.60 71.5 138.60 72 137.85 72 137.85 71.5 137.35 71.5 137.35 71 137.10 71 137.10 69 136.10 69 136.10 71 135.85 71 135.85 72 135.60 72 135.60 72.5 134.85 72.5 134.85 73 134.10 73 134.10 72.5 133.60 72.5 133.60 72 133.35 72 133.35 71.5 133.10 71.5 133.10 73 132.85 73 132.85 73.5 131.10 73.5 131.10 73 130.85 73 130.85 72.5 130.60 72.5 130.60 72 127.85 72 127.85 71.5 127.60 71.5 127.60 70.5 126.85 70.5 126.85 70 125.60 70 125.60 71.5 125.10 71.5 125.10 72 123.85 72 123.85 72.5 121.60 72.5 121.60 72 121.35 72 121.35 71.5 121.10 71.5 121.10 70.5 119.60 70.5 119.60 74.5 119.35 74.5 119.35 75 117.35 75 117.35 74.5 117.10 74.5 117.10 69.5 114.10 69.5 114.10 70 110.85 70 110.85 69.5 109.60 69.5 109.60 70 109.35 70 109.35 70.5 109.10 70.5 109.10 71 108.60 71 108.60 71.5 108.10 71.5 108.10 72 107.35 72 107.35 73.5 106.85 73.5 106.85 74 105.10 74 105.10 73.5 104.85 73.5 104.85 73 103.60 73 103.60 72.5 103.10 72.5 103.10 72 102.35 72 102.35 71.5 102.10 71.5 102.10 72 101.60 72 101.60 71.5 101.10 71.5 101.10 72 100.85 72 100.85 72.5 99.35 72.5 99.35 72 99.10 72 99.10 74.5 98.85 74.5 98.85 75 98.35 75 98.35 75.5 97.10 75.5 97.10 75 96.60 75 96.60 70.5 96.10 70.5 96.10 70 95.35 70 95.35 70.5 94.60 70.5 94.60 71 93.85 71 93.85 70.5 93.10 70.5 93.10 69 92.10 69 92.10 70.5 91.60 70.5 91.60 71 90.85 71 90.85 75.5 90.60 75.5 90.60 76 90.35 76 90.35 76.5 88.60 76.5 88.60 76 88.35 76 88.35 73 88.10 73 88.10 73.5 86.60 73.5 86.60 73 86.10 73 86.10 70.5 85.60 70.5 85.60 70 84.60 70 84.60 69.5 82.85 69.5 82.85 70.5 82.60 70.5 82.60 71 80.60 71 80.60 70.5 80.35 70.5 80.35 70 79.60 70 79.60 69.5 77.60 69.5 77.60 70.5 77.35 70.5 77.35 71 76.35 71 76.35 71.5 75.60 71.5 75.60 71 74.85 71 74.85 70.5 74.60 70.5 74.60 70 74.10 70 74.10 70.5 73.85 70.5 73.85 71 73.35 71 73.35 71.5 71.35 71.5 71.35 71 71.10 71 71.10 70 68.35 70 68.35 70.5 68.10 70.5 68.10 71 67.60 71 67.60 71.5 66.85 71.5 66.85 72 66.10 72 66.10 71.5 65.35 71.5 65.35 71 65.10 71 65.10 70 63.85 70 63.85 71 63.60 71 63.60 71.5 61.60 71.5 61.60 71 61.10 71 61.10 71.5 59.85 71.5 59.85 72 59.10 72 59.10 72.5 58.35 72.5 58.35 72 57.60 72 57.60 70 56.35 70 56.35 69.5 55.10 69.5 55.10 69 53.35 69 53.35 69.5 51.35 69.5 51.35 70 51.10 70 51.10 70.5 50.85 70.5 50.85 71 50.60 71 50.60 72 50.35 72 50.35 72.5 50.10 72.5 50.10 74 49.60 74 49.60 74.5 48.10 74.5 48.10 74 47.85 74 47.85 73.5 47.60 73.5 47.60 70.5 46.85 70.5 46.85 72.5 46.60 72.5 46.60 73 46.35 73 46.35 73.5 44.85 73.5 44.85 73 44.35 73 44.35 72.5 44.10 72.5 44.10 73 43.35 73 43.35 72.5 42.60 72.5 42.60 71.5 42.35 71.5 42.35 72 41.85 72 41.85 72.5 40.35 72.5 40.35 72 38.60 72Z"/>
<path fill="#d3d3d3" d="M38.60 155.5 39.35 155.5 39.35 156 40.60 156 40.60 153.5 40.85 153.5 40.85 149 41.10 149 41.10 148.5 43.10 148.5 43.10 149 43.35 149 43.35 152 43.85 152 43.85 155.5 44.35 155.5 44.35 155 46.10 155 46.10 155.5 46.35 155.5 46.35 156 46.60 156 46.60 158.5 46.85 158.5 46.85 159 47.10 159 47.10 158.5 47.35 158.5 47.35 158 47.85 158 47.85 157.5 48.10 157.5 48.10 157 48.60 157 48.60 156.5 49.85 156.5 49.85 157 50.35 157 50.35 163.5 50.60 163.5 50.60 164 50.85 164 50.85 156 51.10 156 51.10 155.5 51.60 155.5 51.60 155 52.85 155 52.85 155.5 53.35 155.5 53.35 158.5 54.60 158.5 54.60 159 54.85 159 54.85 162 55.10 162 55.10 162.5 55.35 162.5 55.35 160 55.60 160 55.60 149 55.85 149 55.85 148.5 56.10 148.5 56.10 148 57.60 148 57.60 148.5 58.10 148.5 58.10 153.5 58.85 153.5 58.85 148.5 59.10 148.5 59.10 148 59.35 148 59.35 147.5 61.10 147.5 61.10 148 61.35 148 61.35 148.5 61.60 148.5 61.60 155 62.60 155 62.60 155.5 63.10 155.5 63.10 156 63.60 156 63.60 156.5 64.10 156.5 64.10 155.5 64.35 155.5 64.35 155 64.85 155 64.85 154.5 65.60 154.5 65.60 155 66.35 155 66.35 155.5 66.60 155.5 66.60 157 67.10 157 67.10 157.5 67.35 157.5 67.35 158 68.35 158 68.35 157.5 69.35 157.5 69.35 158 69.85 158 69.85 158.5 70.10 158.5 70.10 160.5 70.35 160.5 70.35 161 70.85 161 70.85 161.5 71.10 161.5 71.10 162 71.35 162 71.35 157.5 71.60 157.5 71.60 157 72.10 157 72.10 153.5 72.35 153.5 72.35 153 72.85 153 72.85 152.5 74.10 152.5 74.10 153 74.60 153 74.60 158 74.85 158 74.85 158.5 75.10 158.5 75.10 159 76.60 159 76.60 159.5 76.85 159.5 76.85 160.5 77.10 160.5 77.10 161 77.35 161 77.35 162 77.60 162 77.60 163 77.85 163 77.85 164 78.10 164 78.10 164.5 78.35 164.5 78.35 164 78.60 164 78.60 163 78.85 163 78.85 162.5 79.10 162.5 79.10 162 80.10 162 80.10 155 80.35 155 80.35 154.5 80.85 154.5 80.85 154 81.85 154 81.85 153.5 82.35 153.5 82.35 152 82.60 152 82.60 151.5 83.10 151.5 83.10 151 84.35 151 84.35 151.5 84.85 151.5 84.85 157.5 85.10 157.5 85.10 158 85.60 158 85.60 155.5 86.10 155.5 86.10 155 86.85 155 86.85 154 87.35 154 87.35 153.5 89.10 153.5 89.10 154 89.35 154 89.35 154.5 89.60 154.5 89.60 157.5 89.85 157.5 89.85 155.5 90.35 155.5 90.35 155 91.60 155 91.60 154 91.85 154 91.85 153.5 95.35 153.5 95.35 154 95.60 154 95.60 155 96.35 155 96.35 155.5 96.60 155.5 96.60 164 97.35 164 97.35 163.5 97.60 163.5 97.60 162.5 97.85 162.5 97.85 156 98.10 156 98.10 155.5 98.85 155.5 98.85 154 99.10 154 99.10 153.5 99.35 153.5 99.35 153 101.10 153 101.10 153.5 101.35 153.5 101.35 154 101.60 154 101.60 156.5 101.85 156.5 101.85 157 102.35 157 102.35 158.5 102.60 158.5 102.60 158 103.10 158 103.10 155.5 103.85 155.5 103.85 155 104.85 155 104.85 155.5 105.35 155.5 105.35 156 105.60 156 105.60 161 106.35 161 106.35 156 106.85 156 106.85 155.5 107.85 155.5 107.85 155 108.85 155 108.85 154.5 109.10 154.5 109.10 155 109.60 155 109.60 150 109.85 150 109.85 149.5 110.35 149.5 110.35 149 111.35 149 111.35 149.5 112.10 149.5 112.10 155 112.60 155 112.60 155.5 113.10 155.5 113.10 157.5 114.85 157.5 114.85 157 115.85 157 115.85 157.5 116.35 157.5 116.35 157 117.35 157 117.35 157.5 117.85 157.5 117.85 158 118.10 158 118.10 158.5 118.60 158.5 118.60 159 119.10 159 119.10 159.5 119.35 159.5 119.35 154.5 119.60 154.5 119.60 145 119.85 145 119.85 144.5 120.60 144.5 120.60 144 121.10 144 121.10 144.5 121.85 144.5 121.85 145 122.10 145 122.10 154.5 122.35 154.5 122.35 156 123.10 156 123.10 154.5 123.35 154.5 123.35 154 123.85 154 123.85 153 124.10 153 124.10 152.5 124.60 152.5 124.60 152 125.60 152 125.60 152.5 126.35 152.5 126.35 153 126.60 153 126.60 155 126.85 155 126.85 149 127.35 149 127.35 148.5 130.85 148.5 130.85 149 131.10 149 131.10 157.5 131.60 157.5 131.60 157 132.10 157 132.10 156.5 132.85 156.5 132.85 156 133.85 156 133.85 145 134.35 145 134.35 144.5 135.85 144.5 135.85 145 136.35 145 136.35 151.5 137.35 151.5 137.35 152 137.85 152 137.85 157 138.35 157 138.35 157.5 138.60 157.5 138.60 158 138.85 158 138.85 160 139.85 160 139.85 154.5 140.35 154.5 140.35 154 141.85 154 141.85 154.5 142.35 154.5 142.35 158 143.35 158 143.35 158.5 144.10 158.5 144.10 160.5 144.35 160.5 144.35 161 144.60 161 144.60 163.5 145.35 163.5 145.35 160 145.85 160 145.85 159.5 147.10 159.5 147.10 155 147.35 155 147.35 154.5 148.10 154.5 148.10 154 148.35 154 148.35 154.5 149.35 154.5 149.35 155 149.60 155 149.60 149.5 149.85 149.5 149.85 149 151.85 149 151.85 149.5 152.10 149.5 152.10 150 152.35 150 152.35 158.5 153.10 158.5 153.10 151 153.35 151 153.35 150.5 153.60 150.5 153.60 150 156.60 150 156.60 150.5 156.85 150.5 156.85 158.5 157.85 158.5 157.85 159 158.10 159 158.10 159.5 158.35 159.5 158.35 160 159.10 160 159.10 159.5 160.60 159.5 160.60 159 160.85 159 160.85 158.5 161.10 158.5 161.10 158 161.35 158 161.35 157.5 163.35 157.5 163.35 158 163.60 158 163.60 160.5 163.85 160.5 163.85 160 164.10 160 164.10 159.5 164.35 159.5 164.35 159 165.35 159 165.35 158.5 165.60 158.5 165.60 157.5 166.10 157.5 166.10 157 167.35 157 167.35 157.5 167.60 157.5 167.60 153.5 167.85 153.5 167.85 153 168.10 153 168.10 152.5 169.60 152.5 169.60 151.5 169.85 151.5 169.85 151 171.85 151 171.85 151.5 172.85 151.5 172.85 152 173.35 152 173.35 153 173.60 153 173.60 153.5 174.35 153.5 174.35 154.5 174.60 154.5 174.60 157 175.85 157 175.85 154.5 176.10 154.5 176.10 154 176.60 154 176.60 153.5 177.60 153.5 177.60 154 178.10 154 178.10 154.5 178.35 154.5 178.35 163 178.60 163 178.60 163.5 178.85 163.5 178.85 164 179.35 164 179.35 164.5 180.10 164.5 180.10 164 180.35 164 180.35 157.5 180.60 157.5 180.60 157 181.35 157 181.35 155 181.60 155 181.60 154.5 183.60 154.5 183.60 155 183.85 155 183.85 155.5 185.10 155.5 185.10 156 185.60 156 185.60 161.5 185.85 161.5 185.85 162 186.35 162 186.35 162.5 186.60 162.5 186.60 163 187.35 163 187.35 162.5 187.60 162.5 187.60 158 187.85 158 187.85 157.5 189.85 157.5 189.85 158 190.10 158 190.10 159.5 191.35 159.5 191.35 152 191.60 152 191.60 151.5 191.85 151.5 191.85 151 193.60 151 193.60 151.5 193.85 151.5 193.85 152 194.10 152 194.10 152.5 194.35 152.5 194.35 155 194.60 155 194.60 155.5 194.85 155.5 194.85 156 195.60 156 195.60 155.5 196.35 155.5 196.35 156 197.10 156 197.10 156.5 197.35 156.5 197.35 159 197.85 159 197.85 159.5 201.60 159.5 201.60 154.5 201.85 154.5 201.85 154 202.10 154 202.10 153.5 203.85 153.5 203.85 152 204.60 152 204.60 151.5 205.60 151.5 205.60 152 206.10 152 206.10 152.5 206.35 152.5 206.35 152 208.35 152 208.35 152.5 208.60 152.5 208.60 155 209.85 155 209.85 154.5 210.10 154.5 210.10 154 211.85 154 211.85 154.5 212.35 154.5 212.35 155.5 212.60 155.5 212.60 155 213.10 155 213.10 154.5 213.85 154.5 213.85 155 214.60 155 214.60 155.5 214.85 155.5 214.85 161 215.10 161 215.10 160.5 215.35 160.5 215.35 159 215.60 159 215.60 158.5 217.35 158.5 217.35 151 217.60 151 217.60 150.5 217.85 150.5 217.85 150 219.60 150 219.60 150.5 219.85 150.5 219.85 151 220.10 151 220.10 162 220.60 162 220.60 161.5 220.85 161.5 220.85 161 221.35 161 221.35 160.5 221.60 160.5 221.60 160 221.85 160 221.85 159.5 222.10 159.5 222.10 159 222.35 159 222.35 158.5 223.10 158.5 223.10 159 223.35 159 223.35 159.5 223.60 159.5 223.60 153.5 223.85 153.5 223.85 153 224.10 153 224.10 152.5 225.85 152.5 225.85 153 226.10 153 226.10 153.5 226.35 153.5 226.35 157.5 226.85 157.5 226.85 158 227.35 158 227.35 158.5 227.60 158.5 227.60 159 227.85 159 227.85 159.5 228.10 159.5 228.10 160 228.35 160 228.35 160.5 228.60 160.5 228.60 161 228.85 161 228.85 162 229.10 162 229.10 162.5 229.35 162.5 229.35 163 229.60 163 229.60 163.5 229.85 163.5 229.85 162.5 230.10 162.5 230.10 162 230.35 162 230.35 161.5 230.60 161.5 230.60 157.5 230.85 157.5 230.85 157 231.10 157 231.10 156.5 231.85 156.5 231.85 156 232.10 156 232.10 156.5 233.10 156.5 233.10 157 233.35 157 233.35 151.5 233.60 151.5 233.60 151 234.10 151 234.10 150.5 236.10 150.5 236.10 151 236.60 151 236.60 157.5 236.85 157.5 236.85 158 237.35 158 237.35 161.5 237.60 161.5 237.60 156.5 237.85 156.5 237.85 156 238.10 156 238.10 155.5 239.60 155.5 239.60 155 239.85 155 239.85 154.5 240.35 154.5 240.35 154 241.35 154 241.35 154.5 242.10 154.5 242.10 159.5 242.60 159.5 242.60 159 243.10 159 243.10 158.5 244.10 158.5 244.10 159 244.35 159 244.35 159.5 244.60 159.5 244.60 160 244.85 160 244.85 160.5 245.10 160.5 245.10 161 245.85 161 245.85 160.5 246.10 160.5 246.10 157 246.35 157 246.35 156.5 248.10 156.5 248.10 154 248.35 154 248.35 153.5 248.85 153.5 248.85 153 249.85 153 249.85 153.5 250.35 153.5 250.35 154 250.60 154 250.60 162.5 250.85 162.5 250.85 162 251.10 162 251.10 161.5 252.10 161.5 252.10 161 252.85 161 252.85 160.5 253.35 160.5 253.35 159 253.85 159 253.85 158.5 255.10 158.5 255.10 159 255.60 159 255.60 159.5 256.10 159.5 256.10 159 256.60 159 256.60 155 257.10 155 257.10 154.5 258.60 154.5 258.60 155 259.10 155 259.10 159.5 259.60 159.5 259.60 159 260.10 159 260.10 159.5 260.85 159.5 260.85 160 261.10 160 261.10 161 261.85 161 261.85 161.5 262.35 161.5 262.35 161 262.60 161 262.60 147 264.35 147 264.35 147.5 265.35 147.5 265.35 148 269.35 148 269.35 147.5 271.35 147.5 271.35 148 273.35 148 273.35 147.5 273.85 147.5 273.85 148 275.60 148 275.60 162.5 275.85 162.5 275.85 153 276.10 153 276.10 152 276.85 152 276.85 151.5 277.60 151.5 277.60 152 278.35 152 278.35 152.5 278.60 152.5 278.60 155.5 279.10 155.5 279.10 156 279.85 156 279.85 156.5 280.35 156.5 280.35 157 280.60 157 280.60 160 280.85 160 280.85 152 281.10 152 281.10 151.5 283.10 151.5 283.10 152 283.35 152 283.35 153.5 284.35 153.5 284.35 154 284.60 154 284.60 157 284.85 157 284.85 157.5 285.10 157.5 285.10 157 285.60 157 285.60 153.5 285.85 153.5 285.85 153 286.35 153 286.35 152.5 287.10 152.5 287.10 152 288.60 152 288.60 152.5 289.10 152.5 289.10 155 290.35 155 290.35 155.5 290.85 155.5 290.85 161.5 291.10 161.5 291.10 161 291.35 161 291.35 160 291.60 160 291.60 159.5 291.85 159.5 291.85 159 292.10 159 292.10 155.5 292.35 155.5 292.35 155 292.60 155 292.60 154 292.85 154 292.85 153.5 293.10 153.5 293.10 153 294.85 153 294.85 153.5 295.35 153.5 295.35 157 295.60 157 295.60 159 295.85 159 295.85 160 296.35 160 296.35 154 296.60 154 296.60 153.5 296.85 153.5 296.85 153 298.60 153 298.60 153.5 300.60 153.5 300.60 154 301.10 154 301.10 155 301.35 155 301.35 154.5 303.10 154.5 303.10 155 303.35 155 303.35 158.5 303.60 158.5 303.60 158 304.10 158 304.10 157.5 304.85 157.5 304.85 151.5 305.60 151.5 305.60 151 306.60 151 306.60 151.5 307.10 151.5 307.10 152 307.35 152 307.35 153 307.85 153 307.85 152.5 309.35 152.5 309.35 153 309.85 153 309.85 157 310.10 157 310.10 156.5 311.10 156.5 311.10 156 311.35 156 311.35 156.5 312.35 156.5 312.35 157.5 312.60 157.5 312.60 159.5 313.60 159.5 313.60 160 314.10 160 314.10 163.5 314.35 163.5 314.35 154.5 314.60 154.5 314.60 154 314.85 154 314.85 153.5 316.60 153.5 316.60 154 316.85 154 316.85 154.5 317.10 154.5 317.10 157.5 317.85 157.5 317.85 158 318.35 158 318.35 159 318.85 159 318.85 160 319.10 160 319.10 159.5 319.60 159.5 319.60 159 320.85 159 320.85 159.5 321.35 159.5 321.35 160 321.85 160 321.85 163 322.35 163 322.35 163.5 322.60 163.5 322.60 163 322.85 163 322.85 162.5 323.10 162.5 323.10 162 323.35 162 323.35 161.5 323.85 161.5 323.85 154 324.10 154 324.10 153.5 324.60 153.5 324.60 153 325.60 153 325.60 153.5 326.10 153.5 326.10 154 326.35 154 326.35 158 327.35 158 327.35 152.5 327.60 152.5 327.60 152 329.60 152 329.60 152.5 329.85 152.5 329.85 156 330.35 156 330.35 156.5 330.60 156.5 330.60 157 332.60 157 332.60 157.5 333.10 157.5 333.10 158 333.35 158 333.35 159 334.60 159 334.60 159.5 335.10 159.5 335.10 157.5 335.85 157.5 335.85 157 336.85 157 336.85 157.5 337.60 157.5 337.60 158 337.85 158 337.85 161 338.10 161 338.10 160.5 338.35 160.5 338.35 160 338.85 160 338.85 157 339.10 157 339.10 156.5 339.60 156.5 339.60 156 340.60 156 340.60 156.5 341.35 156.5 341.35 160.5 341.60 160.5 341.60 158 341.85 158 341.85 157.5 342.35 157.5 342.35 157 343.35 157 343.35 157.5 343.85 157.5 343.85 157 344.35 157 344.35 156.5 346.10 156.5 346.10 157 346.35 157 346.35 157.5 348.35 157.5 348.35 158 348.60 158 348.60 161.5 348.85 161.5 348.85 154.5 349.10 154.5 349.10 153 349.35 153 349.35 152.5 349.60 152.5 349.60 152 350.10 152 350.10 149.5 350.35 149.5 350.35 149 352.35 149 352.35 149.5 352.60 149.5 352.60 150 352.85 150 352.85 156 353.10 156 353.10 153.5 353.35 153.5 353.35 153 353.60 153 353.60 152.5 355.10 152.5 355.10 153 355.60 153 355.60 155 355.85 155 355.85 158.5 356.60 158.5 356.60 159 357.10 159 357.10 151 357.85 151 357.85 150.5 358.85 150.5 358.85 151 359.35 151 359.35 151.5 359.60 151.5 359.60 156.5 360.35 156.5 360.35 156 361.10 156 361.10 156.5 363.35 156.5 363.35 157 363.60 157 363.60 161 363.85 161 363.85 162 364.10 162 364.10 163.5 364.60 163.5 364.60 162.5 364.85 162.5 364.85 161.5 365.10 161.5 365.10 160.5 365.35 160.5 365.35 155.5 365.60 155.5 365.60 155 367.60 155 367.60 155.5 367.85 155.5 367.85 157.5 368.10 157.5 368.10 152.5 368.35 152.5 368.35 152 368.60 152 368.60 151.5 370.35 151.5 370.35 152 370.60 152 370.60 152.5 370.85 152.5 370.85 156 371.10 156 371.10 156.5 371.35 156.5 371.35 161.5 371.60 161.5 371.60 162.5 371.85 162.5 371.85 163.5 372.10 163.5 372.10 164 372.35 164 372.35 163.5 372.60 163.5 372.60 157.5 373.10 157.5 373.10 157 374.60 157 374.60 154 374.85 154 374.85 153.5 375.85 153.5 375.85 153 377.60 153 377.60 153.5 377.85 153.5 377.85 154 378.10 154 378.10 155 378.35 155 378.35 158 378.60 158 378.60 156 378.85 156 378.85 155.5 379.35 155.5 379.35 155 380.35 155 380.35 155.5 380.85 155.5 380.85 156 381.10 156 381.10 161 381.35 161 381.35 161.5 381.60 161.5 381.60 156.5 382.10 156.5 382.10 156 383.60 156 383.60 156.5 383.85 156.5 383.85 157 384.10 157 384.10 158.5 385.35 158.5 385.35 159 385.60 159 385.60 159.5 385.85 159.5 385.85 160 386.35 160 386.35 160.5 386.60 160.5 386.60 161.5 387.35 161.5 387.35 158 387.60 158 387.60 157.5 388.10 157.5 388.10 157 389.10 157 389.10 157.5 389.85 157.5 389.85 159.5 390.10 159.5 390.10 159 391.10 159 391.10 159.5 391.35 159.5 391.35 160 391.60 160 391.60 159 391.85 159 391.85 158.5 393.85 158.5 393.85 159 395.35 159 395.35 157 395.60 157 395.60 156.5 395.85 156.5 395.85 153.5 396.10 153.5 396.10 153 396.35 153 396.35 152.5 398.10 152.5 398.10 153 398.35 153 398.35 153.5 398.60 153.5 398.60 157 399.60 157 399.60 156.5 400.35 156.5 400.35 157 401.10 157 401.10 157.5 401.35 157.5 401.35 158 402.35 158 402.35 157.5 402.60 157.5 402.60 157 403.60 157 403.60 156.5 403.85 156.5 403.85 157 404.85 157 404.85 157.5 405.10 157.5 405.10 162 406.60 162 406.60 162.5 406.85 162.5 406.85 158 407.10 158 407.10 157.5 407.35 157.5 407.35 157 409.35 157 409.35 152 409.60 152 409.60 151.5 410.35 151.5 410.35 151 411.10 151 411.10 151.5 411.60 151.5 411.60 152 411.85 152 411.85 154 412.10 154 412.10 154.5 412.60 154.5 412.60 155 412.85 155 412.85 157 414.60 157 414.60 156 414.85 156 414.85 155.5 415.10 155.5 415.10 155 416.85 155 416.85 155.5 417.35 155.5 417.35 156 417.85 156 417.85 156.5 418.35 156.5 418.35 157 419.10 157 419.10 156.5 419.60 156.5 419.60 156 420.10 156 420.10 151 420.60 151 420.60 150.5 422.10 150.5 422.10 151 422.60 151 422.60 159.5 422.85 159.5 422.85 159 424.85 159 424.85 158.5 425.60 158.5 425.60 158 426.35 158 426.35 156 426.60 156 426.60 155.5 428.60 155.5 428.60 156 428.85 156 428.85 160.5 429.85 160.5 429.85 154.5 430.10 154.5 430.10 154 430.35 154 430.35 153.5 431.85 153.5 431.85 154 432.10 154 432.10 153.5 432.35 153.5 432.35 153 434.10 153 434.10 153.5 434.35 153.5 434.35 154 434.60 154 434.60 162.5 435.10 162.5 435.10 157 435.35 157 435.35 156.5 435.85 156.5 435.85 156 436.85 156 436.85 156.5 437.60 156.5 437.60 159.5 438.10 159.5 438.10 155.5 438.35 155.5 438.35 155 439.10 155 439.10 154.5 439.85 154.5 439.85 155 440.60 155 440.60 155.5 440.85 155.5 440.85 160 441.10 160 441.10 163 441.35 163 441.35 154 441.60 154 441.60 153.5 443.60 153.5 443.60 154 443.85 154 443.85 157.5 444.10 157.5 444.10 156.5 444.35 156.5 444.35 155 444.60 155 444.60 154.5 444.85 154.5 444.85 154 446.35 154 446.35 154.5 446.85 154.5 446.85 155 448.35 155 448.35 155.5 448.60 155.5 448.60 156 448.85 156 448.85 158.5 449.35 158.5 449.35 159 449.60 159 449.60 160 450.10 160 450.10 160.5 450.35 160.5 450.35 162 451.35 162 451.35 162.5 451.60 162.5 451.60 158.5 451.85 158.5 451.85 158 452.35 158 452.35 157.5 453.10 157.5 453.10 151.5 453.35 151.5 453.35 151 453.85 151 453.85 150.5 455.35 150.5 455.35 151 455.85 151 455.85 155.5 456.60 155.5 456.60 147.5 456.85 147.5 456.85 147 458.85 147 458.85 147.5 459.10 147.5 459.10 161.5 459.35 161.5 459.35 162 459.60 162 459.60 162.5 459.85 162.5 459.85 163.5 460.10 163.5 460.10 163 460.35 163 460.35 162 460.60 162 460.60 161.5 460.85 161.5 460.85 161 461.10 161 461.10 160.5 461.35 160.5 461.35 160 461.60 160 461.60 159.5 462.35 159.5 462.35 160 462.60 160 462.60 160.5 462.85 160.5 462.85 157.5 463.10 157.5 463.10 157 463.60 157 463.60 156.5 464.60 156.5 464.60 154.5 464.85 154.5 464.85 154 466.85 154 466.85 154.5 467.10 154.5 467.10 158 467.35 158 467.35 156 467.60 156 467.60 155.5 468.10 155.5 468.10 155 468.85 155 468.85 155.5 469.60 155.5 469.60 156 469.85 156 469.85 162.5 470.10 162.5 470.10 158 470.35 158 470.35 157.5 470.85 157.5 470.85 157 472.10 157 472.10 157.5 472.35 157.5 472.35 157 472.60 157 472.60 152 472.85 152 472.85 151.5 473.60 151.5 473.60 151 474.10 151 474.10 151.5 474.85 151.5 474.85 152 475.10 152 475.10 156 475.60 156 475.60 155.5 478.35 155.5 478.35 156 478.85 156 478.85 162 479.10 162 479.10 163 479.35 163 479.35 162 479.60 162 479.60 161.5 480.10 161.5 480.10 161 480.85 161 480.85 159 481.35 159 481.35 158.5 482.35 158.5 482.35 154.5 482.60 154.5 482.60 154 482.85 154 482.85 153.5 483.60 153.5 483.60 153 483.85 153 483.85 153.5 484.60 153.5 484.60 151.5 484.85 151.5 484.85 151 485.10 151 485.10 150.5 486.85 150.5 486.85 151 487.35 151 487.35 151.5 487.60 151.5 487.60 154 488.35 154 488.35 154.5 488.85 154.5 488.85 157.5 489.10 157.5 489.10 158 489.85 158 489.85 158.5 490.10 158.5 490.10 162.5 491.10 162.5 491.10 162 491.35 162 491.35 162.5 491.60 162.5 491.60 160.5 492.10 160.5 492.10 154 492.60 154 492.60 153.5 494.10 153.5 494.10 154 494.60 154 494.60 164.5 495.10 164.5 495.10 158.5 495.60 158.5 495.60 158 497.35 158 497.35 155.5 497.60 155.5 497.60 155 498.35 155 498.35 154.5 499.10 154.5 499.10 155 499.85 155 499.85 155.5 500.35 155.5 500.35 156 500.85 156 500.85 157 501.10 157 501.10 152.5 501.35 152.5 501.35 152 501.85 152 501.85 151.5 502.60 151.5 502.60 152 503.35 152 503.35 152.5 503.60 152.5 503.60 158.5 504.10 158.5 504.10 150.5 504.35 150.5 504.35 150 506.35 150 506.35 150.5 506.60 150.5 506.60 156 507.10 156 507.10 156.5 507.60 156.5 507.60 155 507.85 155 507.85 154.5 508.35 154.5 508.35 154 510.85 154 510.85 154.5 511.35 154.5 511.35 158 511.60 158 511.60 156.5 511.85 156.5 511.85 156 512.10 156 512.10 155.5 513.60 155.5 513.60 156 514.10 156 514.10 160.5 515.10 160.5 515.10 159.5 515.35 159.5 515.35 159 515.85 159 515.85 158.5 516.35 158.5 516.35 157.5 516.60 157.5 516.60 157 517.10 157 517.10 156.5 518.35 156.5 518.35 157 518.85 157 518.85 157.5 519.10 157.5 519.10 162 519.60 162 519.60 161.5 519.85 161.5 519.85 161 520.10 161 520.10 162 520.35 162 520.35 161.5 520.60 161.5 520.60 161 521.85 161 521.85 159 522.10 159 522.10 158.5 523.85 158.5 523.85 159 524.35 159 524.35 160.5 524.60 160.5 524.60 161 524.85 161 524.85 163.5 525.60 163.5 525.60 163 526.85 163 526.85 163.5 527.85 163.5 527.85 161.5 528.10 161.5 528.10 161 530.10 161 530.10 161.5 530.35 161.5 530.35 164 530.85 164 530.85 163.5 531.35 163.5 531.35 160.5 531.60 160.5 531.60 160 532.10 160 532.10 159.5 533.35 159.5 533.35 160 533.85 160 533.85 160.5 534.10 160.5 534.10 164 534.35 164 534.35 164.5 535.60 164.5 535.60 163.5 535.85 163.5 535.85 163 536.35 163 536.35 162.5 536.60 162.5 536.60 157.5 536.85 157.5 536.85 156.5 537.60 156.5 537.60 156 538.60 156 538.60 156.5 539.10 156.5 539.10 157 539.35 157 539.35 158.5 540.85 158.5 540.85 159 541.10 159 541.10 159.5 541.35 159.5 541.35 160 541.85 160 541.85 155.5 542.10 155.5 542.10 155 542.60 155 542.60 154.5 543.85 154.5 543.85 155 544.35 155 544.35 155.5 544.60 155.5 544.60 157 545.10 157 545.10 157.5 545.35 157.5 545.35 158 545.85 158 545.85 158.5 546.35 158.5 546.35 159 546.60 159 546.60 159.5 546.85 159.5 546.85 160 547.10 160 547.10 160.5 547.35 160.5 547.35 161 547.60 161 547.60 162 547.85 162 547.85 162.5 548.10 162.5 548.10 163 548.60 163 548.60 162.5 548.85 162.5 548.85 161.5 549.10 161.5 549.10 161 549.35 161 549.35 160 549.60 160 549.60 159.5 550.10 159.5 550.10 159 550.60 159 550.60 159.5 550.85 159.5 550.85 160 551.10 160 551.10 160.5 551.35 160.5 551.35 161 551.60 161 551.60 162 551.85 162 551.85 162.5 552.10 162.5 552.10 163.5 552.35 163.5 552.35 164 553.85 164 553.85 164.5 554.60 164.5 554.60 161.5 554.85 161.5 554.85 161 555.10 161 555.10 160.5 556.60 160.5 556.60 161 557.10 161 557.10 161.5 557.35 161.5 557.35 163 557.60 163 557.60 161 558.10 161 558.10 160.5 559.60 160.5 559.60 161 560.10 161 560.10 162 560.35 162 560.35 161.5 560.85 161.5 560.85 161 561.85 161 561.85 161.5 562.10 161.5 562.10 158.5 562.35 158.5 562.35 158 562.60 158 562.60 157.5 564.35 157.5 564.35 158 564.85 158 564.85 163 565.10 163 565.10 157 565.60 157 565.60 156.5 567.10 156.5 567.10 157 567.60 157 567.60 159 568.10 159 568.10 159.5 568.60 159.5 568.60 160.5 568.85 160.5 568.85 160 570.60 160 570.60 160.5 570.85 160.5 570.85 162 571.10 162 571.10 161.5 571.60 161.5 571.60 161 571.85 161 571.85 160.5 572.35 160.5 572.35 157 572.60 157 572.60 156.5 572.85 156.5 572.85 156 574.60 156 574.60 156.5 574.85 156.5 574.85 157 575.10 157 575.10 160.5 575.35 160.5 575.35 159.5 575.60 159.5 575.60 159 575.85 159 575.85 155 576.60 155 576.60 154.5 577.60 154.5 577.60 155 578.10 155 578.10 155.5 578.35 155.5 578.35 156.5 578.60 156.5 578.60 159 578.85 159 578.85 149 579.35 149 579.35 148.5 580.85 148.5 580.85 149 581.35 149 581.35 158 581.60 158 581.60 157.5 581.85 157.5 581.85 148.5 582.10 148.5 582.10 148 583.10 148 583.10 147.5 583.35 147.5 583.35 148 584.10 148 584.10 148.5 584.35 148.5 584.35 149 584.60 149 584.60 154 585.10 154 585.10 154.5 585.35 154.5 585.35 156 586.35 156 586.35 156.5 586.85 156.5 586.85 157 587.10 157 587.10 156.5 587.60 156.5 587.60 156 588.85 156 588.85 155.5 589.10 155.5 589.10 155 589.85 155 589.85 154.5 590.35 154.5 590.35 155 591.10 155 591.10 155.5 591.35 155.5 591.35 158.5 591.60 158.5 591.60 158 592.10 158 592.10 157.5 593.35 157.5 593.35 156 593.60 156 593.60 152.5 593.85 152.5 593.85 152 594.10 152 594.10 151.5 596.10 151.5 596.10 152 596.35 152 596.35 156 596.85 156 596.85 155.5 598.60 155.5 598.60 156 599.10 156 599.10 157.5 599.85 157.5 599.85 157 601.60 157 601.60 157.5 601.85 157.5 601.85 162.5 602.10 162.5 602.10 162 602.35 162 602.35 161 602.60 161 602.60 160.5 602.85 160.5 602.85 159.5 603.10 159.5 603.10 159 603.35 159 603.35 151 603.85 151 603.85 150.5 605.35 150.5 605.35 151 605.85 151 605.85 155.5 606.35 155.5 606.35 156 606.60 156 606.60 159 607.10 159 607.10 158.5 608.10 158.5 608.10 159 608.60 159 608.60 159.5 608.85 159.5 608.85 160 610.10 160 610.10 160.5 610.60 160.5 610.60 162.5 611.10 162.5 611.10 162 611.35 162 611.35 161.5 611.85 161.5 611.85 156.5 612.35 156.5 612.35 156 613.85 156 613.85 156.5 614.10 156.5 614.10 157 614.35 157 614.35 154.5 614.85 154.5 614.85 154 616.60 154 616.60 154.5 616.85 154.5 616.85 155 617.10 155 617.10 156 617.35 156 617.35 156.5 617.60 156.5 617.60 163 617.85 163 617.85 158.5 618.35 158.5 618.35 158 621.60 158 621.60 157.5 623.35 157.5 623.35 151 623.60 151 623.60 150.5 625.35 150.5 625.35 151 625.85 151 625.85 159 626.10 159 626.10 158.5 626.35 158.5 626.35 158 626.85 158 626.85 157.5 627.10 157.5 627.10 155.5 627.60 155.5 627.60 154 627.85 154 627.85 153.5 628.85 153.5 628.85 153 629.10 153 629.10 153.5 630.10 153.5 630.10 154 630.35 154 630.35 156 630.60 156 630.60 155.5 631.35 155.5 631.35 155 631.85 155 631.85 155.5 632.60 155.5 632.60 156 632.85 156 632.85 157 633.10 157 633.10 161.5 633.85 161.5 633.85 162 634.10 162 634.10 159.5 634.35 159.5 634.35 159 634.85 159 634.85 157 635.10 157 635.10 156.5 635.35 156.5 635.35 156 637.10 156 637.10 156.5 637.60 156.5 637.60 148.5 637.85 148.5 637.85 148 639.85 148 639.85 148.5 640.10 148.5 640.10 149 640.35 149 640.35 156 640.60 156 640.60 152.5 640.85 152.5 640.85 152 642.60 152 642.60 152.5 643.10 152.5 643.10 156 644.10 156 644.10 152 644.60 152 644.60 151.5 646.10 151.5 646.10 152 646.60 152 646.60 153.5 646.85 153.5 646.85 155 647.10 155 647.10 155.5 647.35 155.5 647.35 156 647.60 156 647.60 155.5 649.35 155.5 649.35 156 649.60 156 649.60 155.5 650.85 155.5 650.85 156 651.35 156 651.35 156.5 651.60 156.5 651.60 157.5 652.10 157.5 652.10 159.5 652.85 159.5 652.85 155.5 653.10 155.5 653.10 155 653.60 155 653.60 154.5 655.10 154.5 655.10 155 655.35 155 655.35 155.5 655.60 155.5 655.60 153.5 656.10 153.5 656.10 153 657.60 153 657.60 153.5 658.10 153.5 658.10 153 658.35 153 658.35 152.5 658.60 152.5 658.60 152 660.35 152 660.35 152.5 660.60 152.5 660.60 153 660.85 153 660.85 154.5 661.35 154.5 661.35 157.5 661.35 157.5 661.35 178.5 660.85 178.5 660.85 179 659.35 179 659.35 178.5 658.85 178.5 658.85 177.5 658.35 177.5 658.35 178 656.85 178 656.85 180.5 656.60 180.5 656.60 181 656.10 181 656.10 181.5 655.35 181.5 655.35 182 654.60 182 654.60 182.5 653.85 182.5 653.85 182 653.10 182 653.10 181.5 652.85 181.5 652.85 181 652.35 181 652.35 180.5 651.60 180.5 651.60 180 651.35 180 651.35 179.5 651.10 179.5 651.10 178.5 650.85 178.5 650.85 179.5 650.35 179.5 650.35 180 648.85 180 648.85 180.5 648.35 180.5 648.35 181 646.85 181 646.85 180.5 646.60 180.5 646.60 180 646.35 180 646.35 179 645.35 179 645.35 179.5 644.10 179.5 644.10 179 643.60 179 643.60 178.5 643.35 178.5 643.35 175.5 643.10 175.5 643.10 175 641.60 175 641.60 177.5 641.10 177.5 641.10 178 639.60 178 639.60 177.5 639.35 177.5 639.35 177 639.10 177 639.10 175.5 638.60 175.5 638.60 176 638.35 176 638.35 177 637.35 177 637.35 177.5 637.10 177.5 637.10 177 636.35 177 636.35 176.5 636.10 176.5 636.10 177 635.60 177 635.60 177.5 634.10 177.5 634.10 177 633.85 177 633.85 176.5 632.85 176.5 632.85 178.5 632.60 178.5 632.60 179 632.10 179 632.10 182 631.85 182 631.85 182.5 630.10 182.5 630.10 182 629.85 182 629.85 181.5 629.60 181.5 629.60 178 629.35 178 629.35 178.5 628.60 178.5 628.60 178 627.10 178 627.10 177.5 626.85 177.5 626.85 177 626.60 177 626.60 177.5 626.10 177.5 626.10 180 625.85 180 625.85 180.5 625.35 180.5 625.35 181 624.60 181 624.60 180.5 623.85 180.5 623.85 180 623.60 180 623.60 178.5 622.10 178.5 622.10 178 621.60 178 621.60 176 621.35 176 621.35 176.5 621.10 176.5 621.10 178 620.85 178 620.85 178.5 618.35 178.5 618.35 178 618.10 178 618.10 177.5 617.85 177.5 617.85 178 616.10 178 616.10 177.5 615.85 177.5 615.85 177 615.60 177 615.60 176 615.10 176 615.10 175.5 614.85 175.5 614.85 178 614.60 178 614.60 178.5 613.85 178.5 613.85 179 613.10 179 613.10 178.5 612.60 178.5 612.60 178 612.35 178 612.35 177.5 611.10 177.5 611.10 180.5 610.85 180.5 610.85 181 609.10 181 609.10 180.5 608.60 180.5 608.60 177 608.10 177 608.10 178.5 607.85 178.5 607.85 179 605.85 179 605.85 178.5 605.60 178.5 605.60 178 603.85 178 603.85 177.5 603.60 177.5 603.60 175.5 603.10 175.5 603.10 177 602.60 177 602.60 177.5 601.60 177.5 601.60 178 600.10 178 600.10 178.5 599.85 178.5 599.85 179 599.35 179 599.35 179.5 598.35 179.5 598.35 179 597.85 179 597.85 178.5 597.60 178.5 597.60 177.5 597.35 177.5 597.35 178 595.60 178 595.60 178.5 595.35 178.5 595.35 179 595.10 179 595.10 179.5 594.60 179.5 594.60 180 593.60 180 593.60 179.5 593.10 179.5 593.10 179 592.85 179 592.85 176 592.10 176 592.10 175.5 590.35 175.5 590.35 179 590.10 179 590.10 179.5 588.10 179.5 588.10 179 587.85 179 587.85 178 587.35 178 587.35 177.5 587.10 177.5 587.10 177 586.60 177 586.60 175.5 585.85 175.5 585.85 176 585.35 176 585.35 176.5 584.35 176.5 584.35 176 583.60 176 583.60 176.5 583.10 176.5 583.10 178.5 582.85 178.5 582.85 179 582.60 179 582.60 179.5 580.85 179.5 580.85 179 580.60 179 580.60 176 580.35 176 580.35 175.5 579.35 175.5 579.35 176 579.10 176 579.10 176.5 577.60 176.5 577.60 177 576.85 177 576.85 177.5 576.10 177.5 576.10 177 575.35 177 575.35 176.5 574.85 176.5 574.85 177 574.60 177 574.60 177.5 574.10 177.5 574.10 178 572.85 178 572.85 177.5 572.35 177.5 572.35 176.5 569.35 176.5 569.35 177 567.60 177 567.60 178 567.35 178 567.35 179 567.10 179 567.10 179.5 566.85 179.5 566.85 180.5 566.60 180.5 566.60 181 566.35 181 566.35 181.5 565.60 181.5 565.60 182 564.10 182 564.10 181.5 563.85 181.5 563.85 181 563.60 181 563.60 176.5 563.35 176.5 563.35 177 563.10 177 563.10 177.5 562.60 177.5 562.60 178 562.35 178 562.35 179 561.60 179 561.60 179.5 560.85 179.5 560.85 180 560.35 180 560.35 180.5 559.10 180.5 559.10 180 558.60 180 558.60 178.5 558.35 178.5 558.35 178 558.10 178 558.10 177 557.35 177 557.35 179.5 556.85 179.5 556.85 180 553.85 180 553.85 179.5 553.60 179.5 553.60 179 553.35 179 553.35 178 552.85 178 552.85 177.5 552.35 177.5 552.35 178.5 551.85 178.5 551.85 179 551.35 179 551.35 179.5 551.10 179.5 551.10 180 550.60 180 550.60 180.5 549.10 180.5 549.10 180 548.60 180 548.60 177 548.35 177 548.35 178.5 548.10 178.5 548.10 179.5 544.60 179.5 544.60 180 544.35 180 544.35 180.5 544.10 180.5 544.10 181 543.35 181 543.35 183 543.10 183 543.10 183.5 542.60 183.5 542.60 184 541.35 184 541.35 183.5 540.85 183.5 540.85 180.5 540.60 180.5 540.60 181 539.35 181 539.35 181.5 539.10 181.5 539.10 182 538.35 182 538.35 182.5 537.60 182.5 537.60 182 537.10 182 537.10 181.5 536.85 181.5 536.85 178.5 536.60 178.5 536.60 178 536.35 178 536.35 176 535.60 176 535.60 176.5 535.35 176.5 535.35 177 535.10 177 535.10 177.5 534.10 177.5 534.10 178 533.35 178 533.35 178.5 532.60 178.5 532.60 180.5 532.10 180.5 532.10 181 530.35 181 530.35 180.5 530.10 180.5 530.10 176.5 529.85 176.5 529.85 176 528.85 176 528.85 175.5 527.85 175.5 527.85 175 526.60 175 526.60 175.5 525.35 175.5 525.35 176 523.35 176 523.35 178 523.10 178 523.10 178.5 522.35 178.5 522.35 179 521.60 179 521.60 178.5 520.85 178.5 520.85 178 520.35 178 520.35 177 519.10 177 519.10 176.5 518.60 176.5 518.60 177.5 518.10 177.5 518.10 178 517.60 178 517.60 178.5 517.35 178.5 517.35 179 516.85 179 516.85 179.5 515.60 179.5 515.60 179 515.10 179 515.10 175.5 513.10 175.5 513.10 176.5 512.85 176.5 512.85 177 510.85 177 510.85 176.5 510.60 176.5 510.60 175.5 510.10 175.5 510.10 176 509.85 176 509.85 177 509.60 177 509.60 177.5 509.10 177.5 509.10 178 508.10 178 508.10 177.5 507.35 177.5 507.35 176 506.60 176 506.60 175.5 503.60 175.5 503.60 177.5 503.10 177.5 503.10 178 501.85 178 501.85 177.5 501.35 177.5 501.35 177 501.10 177 501.10 176 498.60 176 498.60 178 497.60 178 497.60 178.5 497.10 178.5 497.10 178 494.85 178 494.85 177.5 494.60 177.5 494.60 178 494.35 178 494.35 180.5 494.10 180.5 494.10 181 492.35 181 492.35 180.5 492.10 180.5 492.10 180 491.85 180 491.85 177 491.60 177 491.60 176.5 489.85 176.5 489.85 177.5 489.35 177.5 489.35 178 487.10 178 487.10 178.5 486.35 178.5 486.35 178 485.85 178 485.85 179 485.35 179 485.35 179.5 484.10 179.5 484.10 179 483.60 179 483.60 178.5 483.35 178.5 483.35 176.5 483.10 176.5 483.10 177 482.35 177 482.35 176.5 481.60 176.5 481.60 177 480.60 177 480.60 178 480.35 178 480.35 178.5 479.60 178.5 479.60 179 478.85 179 478.85 178.5 478.35 178.5 478.35 178 478.10 178 478.10 175.5 477.35 175.5 477.35 177.5 477.10 177.5 477.10 178 476.35 178 476.35 178.5 475.85 178.5 475.85 178 475.10 178 475.10 177.5 474.85 177.5 474.85 177 474.35 177 474.35 176.5 470.85 176.5 470.85 177 469.35 177 469.35 178 469.10 178 469.10 178.5 468.35 178.5 468.35 179 468.10 179 468.10 178.5 467.85 178.5 467.85 180.5 467.35 180.5 467.35 181 465.60 181 465.60 180.5 465.35 180.5 465.35 178 465.10 178 465.10 177.5 464.85 177.5 464.85 177 464.10 177 464.10 177.5 463.35 177.5 463.35 177 462.10 177 462.10 176.5 461.60 176.5 461.60 176 460.85 176 460.85 176.5 460.60 176.5 460.60 177 460.35 177 460.35 177.5 459.10 177.5 459.10 178 458.85 178 458.85 178.5 457.10 178.5 457.10 178 456.85 178 456.85 175.5 455.60 175.5 455.60 176 454.85 176 454.85 177 454.35 177 454.35 177.5 452.85 177.5 452.85 177 452.60 177 452.60 176.5 452.35 176.5 452.35 176 449.85 176 449.85 178 449.35 178 449.35 178.5 449.10 178.5 449.10 179 448.85 179 448.85 179.5 448.35 179.5 448.35 180 448.10 180 448.10 180.5 446.10 180.5 446.10 180 445.85 180 445.85 178.5 444.60 178.5 444.60 178 444.10 178 444.10 175 443.35 175 443.35 175.5 441.60 175.5 441.60 176 441.10 176 441.10 179.5 440.60 179.5 440.60 180 439.10 180 439.10 179.5 438.60 179.5 438.60 178 438.35 178 438.35 177.5 437.85 177.5 437.85 177 437.60 177 437.60 177.5 437.35 177.5 437.35 178 435.35 178 435.35 177.5 435.10 177.5 435.10 176 434.35 176 434.35 177 434.10 177 434.10 177.5 433.60 177.5 433.60 178 433.35 178 433.35 178.5 433.10 178.5 433.10 179 432.60 179 432.60 179.5 431.60 179.5 431.60 179 431.10 179 431.10 178.5 430.85 178.5 430.85 177.5 430.60 177.5 430.60 177 429.85 177 429.85 176.5 429.60 176.5 429.60 177 427.85 177 427.85 176.5 427.60 176.5 427.60 175.5 423.85 175.5 423.85 176 421.85 176 421.85 177 421.60 177 421.60 177.5 420.85 177.5 420.85 178 420.10 178 420.10 177.5 418.10 177.5 418.10 177 417.35 177 417.35 176.5 417.10 176.5 417.10 178.5 416.85 178.5 416.85 179 415.10 179 415.10 178.5 414.85 178.5 414.85 178 414.10 178 414.10 178.5 413.35 178.5 413.35 178 411.85 178 411.85 177.5 410.10 177.5 410.10 177 409.60 177 409.60 180 409.35 180 409.35 180.5 408.60 180.5 408.60 181 408.10 181 408.10 180.5 407.35 180.5 407.35 180 407.10 180 407.10 175 405.85 175 405.85 175.5 405.35 175.5 405.35 179.5 405.10 179.5 405.10 180 404.85 180 404.85 180.5 403.35 180.5 403.35 180 402.85 180 402.85 179.5 402.35 179.5 402.35 179 400.85 179 400.85 179.5 400.10 179.5 400.10 179 399.60 179 399.60 178.5 399.35 178.5 399.35 176.5 399.10 176.5 399.10 177 398.10 177 398.10 176.5 397.10 176.5 397.10 176 396.85 176 396.85 175 396.60 175 396.60 175.5 394.85 175.5 394.85 176 393.60 176 393.60 176.5 390.10 176.5 390.10 177 389.85 177 389.85 178 389.10 178 389.10 178.5 388.35 178.5 388.35 178 387.35 178 387.35 177.5 387.10 177.5 387.10 177 386.85 177 386.85 176.5 386.60 176.5 386.60 175.5 385.85 175.5 385.85 176.5 385.60 176.5 385.60 177 385.10 177 385.10 177.5 384.10 177.5 384.10 177 383.60 177 383.60 176.5 383.35 176.5 383.35 176 383.10 176 383.10 178 382.60 178 382.60 178.5 381.35 178.5 381.35 178 380.85 178 380.85 177.5 380.60 177.5 380.60 179 380.35 179 380.35 179.5 380.10 179.5 380.10 180 378.60 180 378.60 179.5 378.10 179.5 378.10 176 377.60 176 377.60 177 377.35 177 377.35 177.5 377.10 177.5 377.10 181 376.85 181 376.85 181.5 376.10 181.5 376.10 182 375.85 182 375.85 181.5 374.85 181.5 374.85 181 374.60 181 374.60 179.5 374.35 179.5 374.35 179 373.85 179 373.85 178.5 373.60 178.5 373.60 178 372.85 178 372.85 177.5 372.35 177.5 372.35 176.5 372.10 176.5 372.10 177 371.85 177 371.85 177.5 369.60 177.5 369.60 178 368.35 178 368.35 181.5 368.10 181.5 368.10 182 367.85 182 367.85 182.5 366.35 182.5 366.35 182 365.85 182 365.85 177 365.35 177 365.35 176 364.10 176 364.10 177 363.85 177 363.85 177.5 363.60 177.5 363.60 178.5 363.35 178.5 363.35 179 361.35 179 361.35 178 361.10 178 361.10 176 360.60 176 360.60 179.5 360.35 179.5 360.35 180 359.85 180 359.85 180.5 358.60 180.5 358.60 180 358.10 180 358.10 177.5 355.85 177.5 355.85 177 355.35 177 355.35 176.5 355.10 176.5 355.10 177 354.35 177 354.35 177.5 353.60 177.5 353.60 177 352.60 177 352.60 176.5 351.60 176.5 351.60 177 350.85 177 350.85 176.5 349.35 176.5 349.35 176 349.10 176 349.10 175.5 347.35 175.5 347.35 176 346.35 176 346.35 176.5 346.10 176.5 346.10 177 345.60 177 345.60 177.5 344.35 177.5 344.35 177 343.85 177 343.85 176 339.85 176 339.85 178 339.60 178 339.60 178.5 338.85 178.5 338.85 179.5 338.60 179.5 338.60 180 338.10 180 338.10 180.5 337.10 180.5 337.10 180 336.60 180 336.60 179.5 336.35 179.5 336.35 178 335.60 178 335.60 178.5 334.85 178.5 334.85 182.5 334.60 182.5 334.60 183 334.35 183 334.35 183.5 332.85 183.5 332.85 183 332.35 183 332.35 182.5 330.60 182.5 330.60 182 330.35 182 330.35 178 330.10 178 330.10 177 329.35 177 329.35 176.5 328.85 176.5 328.85 175 328.60 175 328.60 176.5 328.35 176.5 328.35 177 327.60 177 327.60 177.5 327.35 177.5 327.35 177 326.60 177 326.60 178 326.35 178 326.35 178.5 325.85 178.5 325.85 179 324.85 179 324.85 178.5 324.35 178.5 324.35 178 324.10 178 324.10 179 323.85 179 323.85 179.5 321.85 179.5 321.85 179 321.60 179 321.60 178.5 319.85 178.5 319.85 178 319.60 178 319.60 178.5 319.35 178.5 319.35 179 317.60 179 317.60 178.5 317.35 178.5 317.35 177.5 316.85 177.5 316.85 177 316.60 177 316.60 176 316.35 176 316.35 179 316.10 179 316.10 179.5 315.85 179.5 315.85 180 314.35 180 314.35 179.5 313.85 179.5 313.85 178 313.60 178 313.60 178.5 312.10 178.5 312.10 178 311.60 178 311.60 175.5 310.85 175.5 310.85 175 309.85 175 309.85 176 309.60 176 309.60 176.5 309.35 176.5 309.35 177 309.10 177 309.10 177.5 307.10 177.5 307.10 177 306.85 177 306.85 175.5 306.35 175.5 306.35 176 305.35 176 305.35 177.5 305.10 177.5 305.10 180 304.85 180 304.85 180.5 302.85 180.5 302.85 180 302.60 180 302.60 179 302.10 179 302.10 178.5 301.60 178.5 301.60 178 301.35 178 301.35 175.5 300.35 175.5 300.35 176 299.85 176 299.85 177.5 299.60 177.5 299.60 178 299.35 178 299.35 178.5 299.10 178.5 299.10 179 296.85 179 296.85 181.5 296.35 181.5 296.35 182 294.85 182 294.85 181.5 294.60 181.5 294.60 181 294.35 181 294.35 178.5 293.60 178.5 293.60 178 293.10 178 293.10 176 290.35 176 290.35 177 290.10 177 290.10 177.5 289.85 177.5 289.85 178 288.35 178 288.35 177.5 287.85 177.5 287.85 176.5 287.60 176.5 287.60 177 287.10 177 287.10 179 286.85 179 286.85 179.5 286.35 179.5 286.35 180 285.10 180 285.10 179.5 284.60 179.5 284.60 178.5 283.85 178.5 283.85 178 283.60 178 283.60 177.5 282.10 177.5 282.10 177 281.85 177 281.85 176.5 281.60 176.5 281.60 175.5 281.10 175.5 281.10 176 280.85 176 280.85 176.5 280.60 176.5 280.60 177 280.10 177 280.10 177.5 279.60 177.5 279.60 178.5 279.35 178.5 279.35 179 278.85 179 278.85 179.5 277.60 179.5 277.60 179 277.10 179 277.10 176 275.60 176 275.60 175.5 275.35 175.5 275.35 164 268.85 164 268.85 163.5 268.10 163.5 268.10 164 266.10 164 266.10 164.5 265.10 164.5 265.10 165 262.85 165 262.85 177 262.35 177 262.35 177.5 259.85 177.5 259.85 177 259.35 177 259.35 176.5 259.10 176.5 259.10 175.5 257.35 175.5 257.35 176.5 257.10 176.5 257.10 177 256.85 177 256.85 178 256.60 178 256.60 178.5 254.60 178.5 254.60 178 253.60 178 253.60 178.5 252.10 178.5 252.10 178 251.60 178 251.60 176 249.85 176 249.85 176.5 248.10 176.5 248.10 181.5 247.60 181.5 247.60 182 246.10 182 246.10 181.5 245.85 181.5 245.85 181 245.60 181 245.60 177 245.35 177 245.35 176.5 244.35 176.5 244.35 178.5 244.10 178.5 244.10 179 242.35 179 242.35 178.5 242.10 178.5 242.10 178 241.85 178 241.85 177 241.60 177 241.60 176.5 240.60 176.5 240.60 178 240.35 178 240.35 178.5 239.60 178.5 239.60 179 239.10 179 239.10 178.5 238.35 178.5 238.35 178 237.10 178 237.10 177.5 235.85 177.5 235.85 180.5 235.60 180.5 235.60 181 235.10 181 235.10 181.5 233.85 181.5 233.85 181 233.35 181 233.35 176 232.60 176 232.60 177.5 232.10 177.5 232.10 178 229.60 178 229.60 178.5 229.10 178.5 229.10 179 227.10 179 227.10 179.5 225.10 179.5 225.10 180 224.60 180 224.60 180.5 223.60 180.5 223.60 180 223.10 180 223.10 179.5 222.85 179.5 222.85 178 221.60 178 221.60 179 221.10 179 221.10 179.5 219.60 179.5 219.60 179 219.35 179 219.35 179.5 219.10 179.5 219.10 180 217.60 180 217.60 179.5 217.10 179.5 217.10 176.5 216.10 176.5 216.10 179 215.85 179 215.85 179.5 215.35 179.5 215.35 180 214.35 180 214.35 179.5 213.85 179.5 213.85 179 213.60 179 213.60 178.5 212.10 178.5 212.10 178 211.85 178 211.85 177.5 211.10 177.5 211.10 178 209.85 178 209.85 177.5 209.35 177.5 209.35 177 209.10 177 209.10 176 208.10 176 208.10 176.5 207.60 176.5 207.60 177.5 207.35 177.5 207.35 178 205.35 178 205.35 177.5 205.10 177.5 205.10 177 204.35 177 204.35 176.5 204.10 176.5 204.10 177.5 203.85 177.5 203.85 178.5 203.60 178.5 203.60 179 202.60 179 202.60 182.5 201.85 182.5 201.85 183 200.85 183 200.85 182.5 200.35 182.5 200.35 182 200.10 182 200.10 180.5 199.10 180.5 199.10 180 198.85 180 198.85 179.5 198.60 179.5 198.60 176 197.60 176 197.60 175.5 197.10 175.5 197.10 178.5 196.85 178.5 196.85 179 195.10 179 195.10 178.5 194.85 178.5 194.85 178 194.60 178 194.60 177.5 194.35 177.5 194.35 177 193.85 177 193.85 177.5 192.85 177.5 192.85 178 192.60 178 192.60 178.5 191.10 178.5 191.10 178 190.60 178 190.60 176 189.85 176 189.85 179 189.60 179 189.60 179.5 189.10 179.5 189.10 180 187.85 180 187.85 179.5 187.60 179.5 187.60 180.5 187.35 180.5 187.35 181 186.85 181 186.85 181.5 185.85 181.5 185.85 181 185.35 181 185.35 180.5 185.10 180.5 185.10 178.5 184.35 178.5 184.35 178 184.10 178 184.10 177 183.60 177 183.60 177.5 183.35 177.5 183.35 178 181.35 178 181.35 177.5 181.10 177.5 181.10 179.5 180.85 179.5 180.85 180 180.10 180 180.10 180.5 179.35 180.5 179.35 180 178.60 180 178.60 178 178.35 178 178.35 177 178.10 177 178.10 177.5 177.35 177.5 177.35 178 176.85 178 176.85 177.5 176.10 177.5 176.10 178 174.85 178 174.85 177.5 174.35 177.5 174.35 177 174.10 177 174.10 176.5 173.35 176.5 173.35 178.5 173.10 178.5 173.10 179 171.60 179 171.60 179.5 170.35 179.5 170.35 179 169.85 179 169.85 179.5 169.35 179.5 169.35 180 167.85 180 167.85 179.5 167.60 179.5 167.60 179 167.35 179 167.35 179.5 166.60 179.5 166.60 180 166.10 180 166.10 179.5 165.35 179.5 165.35 179 165.10 179 165.10 177 163.85 177 163.85 176.5 163.60 176.5 163.60 175.5 163.35 175.5 163.35 179.5 163.10 179.5 163.10 180 161.10 180 161.10 179.5 160.85 179.5 160.85 175.5 160.10 175.5 160.10 179 159.85 179 159.85 179.5 157.85 179.5 157.85 179 157.60 179 157.60 178.5 155.85 178.5 155.85 179 155.35 179 155.35 179.5 154.85 179.5 154.85 180 153.60 180 153.60 179.5 153.10 179.5 153.10 177 152.85 177 152.85 177.5 152.35 177.5 152.35 178 152.10 178 152.10 178.5 150.10 178.5 150.10 178 148.60 178 148.60 177.5 148.10 177.5 148.10 177 147.60 177 147.60 177.5 146.60 177.5 146.60 177 146.35 177 146.35 177.5 145.85 177.5 145.85 180 145.60 180 145.60 180.5 143.60 180.5 143.60 180 143.35 180 143.35 178 141.85 178 141.85 177.5 141.35 177.5 141.35 177 140.35 177 140.35 176.5 140.10 176.5 140.10 176 139.10 176 139.10 182.5 138.60 182.5 138.60 183 137.35 183 137.35 182.5 136.85 182.5 136.85 182 136.60 182 136.60 179 135.60 179 135.60 179.5 134.10 179.5 134.10 179 133.85 179 133.85 178.5 133.60 178.5 133.60 177.5 132.85 177.5 132.85 178 131.85 178 131.85 178.5 130.85 178.5 130.85 179 130.35 179 130.35 184 130.10 184 130.10 184.5 128.35 184.5 128.35 184 127.85 184 127.85 179.5 127.10 179.5 127.10 179 126.85 179 126.85 177.5 125.85 177.5 125.85 177 124.10 177 124.10 177.5 123.35 177.5 123.35 180 123.10 180 123.10 180.5 122.60 180.5 122.60 181 121.60 181 121.60 180.5 121.10 180.5 121.10 180 120.10 180 120.10 179.5 119.35 179.5 119.35 177.5 118.35 177.5 118.35 178 116.35 178 116.35 177.5 116.10 177.5 116.10 176.5 115.10 176.5 115.10 177 114.60 177 114.60 177.5 114.35 177.5 114.35 178 113.85 178 113.85 178.5 111.85 178.5 111.85 178 111.60 178 111.60 177.5 110.85 177.5 110.85 177 109.60 177 109.60 176.5 109.10 176.5 109.10 176 108.85 176 108.85 175 107.85 175 107.85 176.5 107.35 176.5 107.35 177 106.60 177 106.60 178.5 106.35 178.5 106.35 179 104.60 179 104.60 178.5 104.10 178.5 104.10 179 103.60 179 103.60 179.5 102.35 179.5 102.35 179 101.85 179 101.85 178.5 101.60 178.5 101.60 179 98.85 179 98.85 180 98.35 180 98.35 180.5 96.85 180.5 96.85 180 96.60 180 96.60 179.5 96.35 179.5 96.35 178.5 95.60 178.5 95.60 178 95.10 178 95.10 176.5 94.10 176.5 94.10 176 93.85 176 93.85 177 93.35 177 93.35 177.5 90.85 177.5 90.85 177 90.35 177 90.35 178 89.85 178 89.85 178.5 89.10 178.5 89.10 179 87.85 179 87.85 178.5 87.35 178.5 87.35 177.5 86.85 177.5 86.85 176 85.85 176 85.85 175.5 84.60 175.5 84.60 176 82.60 176 82.60 176.5 81.35 176.5 81.35 179 80.60 179 80.60 179.5 79.85 179.5 79.85 179 79.10 179 79.10 179.5 77.60 179.5 77.60 179 77.35 179 77.35 178.5 77.10 178.5 77.10 177 76.85 177 76.85 177.5 75.85 177.5 75.85 178 75.60 178 75.60 178.5 73.85 178.5 73.85 178 73.10 178 73.10 178.5 71.60 178.5 71.60 178 71.10 178 71.10 177 70.85 177 70.85 177.5 70.35 177.5 70.35 178 69.10 178 69.10 177.5 68.60 177.5 68.60 177 68.35 177 68.35 176 68.10 176 68.10 177.5 67.60 177.5 67.60 178 66.10 178 66.10 177.5 65.85 177.5 65.85 177 65.60 177 65.60 176 62.85 176 62.85 180.5 62.60 180.5 62.60 181 62.10 181 62.10 181.5 61.10 181.5 61.10 181 60.60 181 60.60 180.5 60.35 180.5 60.35 178.5 59.85 178.5 59.85 178 59.60 178 59.60 176.5 58.10 176.5 58.10 176 57.85 176 57.85 175 57.35 175 57.35 177 57.10 177 57.10 177.5 56.35 177.5 56.35 178 56.10 178 56.10 178.5 55.35 178.5 55.35 179 54.60 179 54.60 178.5 53.85 178.5 53.85 177 52.85 177 52.85 176.5 52.60 176.5 52.60 176 52.35 176 52.35 175.5 51.60 175.5 51.60 175 49.10 175 49.10 175.5 48.85 175.5 48.85 176 48.60 176 48.60 176.5 46.35 176.5 46.35 177 45.35 177 45.35 176.5 44.85 176.5 44.85 176 43.85 176 43.85 180.5 43.60 180.5 43.60 181 41.85 181 41.85 180.5 41.60 180.5 41.60 180 41.35 180 41.35 176 40.35 176 40.35 176.5 40.10 176.5 40.10 177 39.85 177 39.85 179 39.60 179 39.60 179.5 38.85 179.5 38.85 180 38.60 180Z"/>
<path fill="#d3d3d3" d="M38.60 256 38.85 256 38.85 255.5 39.10 255.5 39.10 255 39.35 255 39.35 254.5 39.85 254.5 39.85 254 40.60 254 40.60 249 40.85 249 40.85 248.5 41.10 248.5 41.10 248 42.85 248 42.85 248.5 43.35 248.5 43.35 251 43.60 251 43.60 251.5 43.85 251.5 43.85 252 44.10 252 44.10 245.5 44.35 245.5 44.35 245 46.35 245 46.35 244.5 46.60 244.5 46.60 244 47.60 244 47.60 243.5 47.85 243.5 47.85 244 48.85 244 48.85 244.5 49.10 244.5 49.10 248.5 50.10 248.5 50.10 249 50.60 249 50.60 253.5 51.10 253.5 51.10 253 52.35 253 52.35 253.5 52.85 253.5 52.85 254 53.10 254 53.10 256 53.85 256 53.85 253.5 54.10 253.5 54.10 248.5 54.35 248.5 54.35 248 54.85 248 54.85 247.5 56.10 247.5 56.10 248 56.60 248 56.60 248.5 57.35 248.5 57.35 248 58.35 248 58.35 248.5 58.85 248.5 58.85 249 60.10 249 60.10 249.5 60.35 249.5 60.35 253.5 61.35 253.5 61.35 254 61.60 254 61.60 236 61.85 236 61.85 235.5 62.35 235.5 62.35 235 63.35 235 63.35 235.5 64.10 235.5 64.10 236 64.35 236 64.35 250 64.60 250 64.60 249.5 64.85 249.5 64.85 249 66.85 249 66.85 249.5 67.10 249.5 67.10 250.5 67.35 250.5 67.35 250 68.60 250 68.60 250.5 69.10 250.5 69.10 251 69.35 251 69.35 254.5 69.85 254.5 69.85 252.5 70.10 252.5 70.10 252 70.60 252 70.60 251.5 71.60 251.5 71.60 252 71.85 252 71.85 247.5 72.10 247.5 72.10 247 72.35 247 72.35 246.5 74.10 246.5 74.10 240 74.60 240 74.60 239.5 76.35 239.5 76.35 240 76.60 240 76.60 240.5 76.85 240.5 76.85 251.5 77.10 251.5 77.10 251 77.35 251 77.35 249 78.10 249 78.10 248.5 79.10 248.5 79.10 249 79.60 249 79.60 249.5 79.85 249.5 79.85 257.5 80.35 257.5 80.35 257 81.10 257 81.10 255 81.35 255 81.35 254.5 81.60 254.5 81.60 254 82.60 254 82.60 246 82.85 246 82.85 245.5 83.10 245.5 83.10 245 84.85 245 84.85 245.5 85.10 245.5 85.10 246 85.35 246 85.35 257 85.60 257 85.60 254.5 85.85 254.5 85.85 254 86.35 254 86.35 253.5 87.35 253.5 87.35 246.5 87.60 246.5 87.60 246 89.60 246 89.60 246.5 89.85 246.5 89.85 247 90.35 247 90.35 246.5 90.60 246.5 90.60 245.5 91.10 245.5 91.10 245 92.60 245 92.60 245.5 93.10 245.5 93.10 246 93.35 246 93.35 253.5 93.85 253.5 93.85 252.5 94.10 252.5 94.10 252 95.35 252 95.35 251.5 95.60 251.5 95.60 251 96.10 251 96.10 248 96.35 248 96.35 247.5 96.85 247.5 96.85 247 98.35 247 98.35 247.5 98.60 247.5 98.60 248 98.85 248 98.85 256.5 99.35 256.5 99.35 252.5 99.60 252.5 99.60 251.5 99.85 251.5 99.85 251 100.10 251 100.10 250.5 101.85 250.5 101.85 251 102.35 251 102.35 256.5 102.85 256.5 102.85 257 103.35 257 103.35 257.5 103.85 257.5 103.85 257 104.10 257 104.10 255.5 104.35 255.5 104.35 255 105.10 255 105.10 254.5 105.85 254.5 105.85 253.5 106.35 253.5 106.35 253 107.60 253 107.60 249 108.10 249 108.10 248.5 109.60 248.5 109.60 249 110.35 249 110.35 249.5 110.85 249.5 110.85 256 111.10 256 111.10 256.5 112.35 256.5 112.35 257 112.85 257 112.85 257.5 113.10 257.5 113.10 258 113.35 258 113.35 257.5 113.60 257.5 113.60 257 113.85 257 113.85 256.5 114.10 256.5 114.10 256 114.60 256 114.60 255.5 114.85 255.5 114.85 256 115.35 256 115.35 256.5 115.60 256.5 115.60 257 115.85 257 115.85 257.5 116.10 257.5 116.10 258 116.35 258 116.35 258.5 116.60 258.5 116.60 253 117.10 253 117.10 252.5 117.85 252.5 117.85 250 118.10 250 118.10 249 118.60 249 118.60 248.5 120.10 248.5 120.10 249 120.60 249 120.60 250.5 120.85 250.5 120.85 250 121.85 250 121.85 243 122.10 243 122.10 242.5 122.60 242.5 122.60 242 123.85 242 123.85 242.5 124.35 242.5 124.35 243 124.60 243 124.60 243.5 125.85 243.5 125.85 244 126.10 244 126.10 244.5 126.35 244.5 126.35 246 127.10 246 127.10 243 127.60 243 127.60 240.5 127.85 240.5 127.85 240 128.10 240 128.10 239.5 130.10 239.5 130.10 240 130.35 240 130.35 245 130.60 245 130.60 244.5 132.60 244.5 132.60 245 132.85 245 132.85 247.5 133.35 247.5 133.35 247 134.35 247 134.35 247.5 135.10 247.5 135.10 248.5 135.35 248.5 135.35 250 136.10 250 136.10 250.5 136.60 250.5 136.60 251 136.85 251 136.85 250.5 137.10 250.5 137.10 250 139.10 250 139.10 250.5 139.35 250.5 139.35 251 139.85 251 139.85 251.5 140.35 251.5 140.35 252 140.60 252 140.60 259 140.85 259 140.85 258 141.10 258 141.10 257.5 141.35 257.5 141.35 257 141.60 257 141.60 256.5 141.85 256.5 141.85 254.5 142.10 254.5 142.10 254 142.35 254 142.35 253.5 143.35 253.5 143.35 251 143.60 251 143.60 250.5 143.85 250.5 143.85 250 144.35 250 144.35 249.5 144.60 249.5 144.60 242.5 144.85 242.5 144.85 242 145.35 242 145.35 241.5 146.60 241.5 146.60 242 147.10 242 147.10 242.5 147.35 242.5 147.35 249.5 147.60 249.5 147.60 249 148.60 249 148.60 249.5 149.10 249.5 149.10 250 149.35 250 149.35 251 149.60 251 149.60 250.5 150.10 250.5 150.10 251 150.85 251 150.85 251.5 151.10 251.5 151.10 252 152.85 252 152.85 252.5 153.35 252.5 153.35 252 154.10 252 154.10 251.5 154.60 251.5 154.60 246.5 155.10 246.5 155.10 246 156.60 246 156.60 246.5 157.10 246.5 157.10 253.5 157.85 253.5 157.85 254 158.10 254 158.10 254.5 158.35 254.5 158.35 256 159.60 256 159.60 256.5 160.10 256.5 160.10 251.5 160.35 251.5 160.35 251 160.85 251 160.85 250.5 161.10 250.5 161.10 249 161.60 249 161.60 248.5 163.10 248.5 163.10 249 163.60 249 163.60 249.5 163.85 249.5 163.85 252.5 164.10 252.5 164.10 252 165.85 252 165.85 252.5 166.35 252.5 166.35 257.5 166.60 257.5 166.60 257 166.85 257 166.85 256.5 167.35 256.5 167.35 256 168.10 256 168.10 249.5 168.35 249.5 168.35 249 168.85 249 168.85 248.5 169.85 248.5 169.85 249 170.60 249 170.60 250 170.85 250 170.85 258.5 171.10 258.5 171.10 249 171.35 249 171.35 241.5 171.60 241.5 171.60 241 172.10 241 172.10 240.5 173.60 240.5 173.60 241 174.10 241 174.10 246.5 175.10 246.5 175.10 247 175.35 247 175.35 247.5 175.60 247.5 175.60 255 175.85 255 175.85 251.5 176.35 251.5 176.35 247 176.60 247 176.60 246.5 177.35 246.5 177.35 246 177.85 246 177.85 246.5 178.60 246.5 178.60 247 178.85 247 178.85 256 179.10 256 179.10 258.5 180.10 258.5 180.10 251.5 180.35 251.5 180.35 251 180.60 251 180.60 250.5 182.35 250.5 182.35 251 182.85 251 182.85 252.5 183.35 252.5 183.35 253 183.60 253 183.60 254.5 184.85 254.5 184.85 255 185.10 255 185.10 254 185.60 254 185.60 253.5 186.35 253.5 186.35 253 186.60 253 186.60 252.5 187.10 252.5 187.10 250 187.35 250 187.35 249.5 187.85 249.5 187.85 249 188.60 249 188.60 248.5 188.85 248.5 188.85 248 189.35 248 189.35 247.5 189.85 247.5 189.85 239.5 190.10 239.5 190.10 239 190.35 239 190.35 238.5 192.35 238.5 192.35 239 192.60 239 192.60 253 192.85 253 192.85 255 194.10 255 194.10 255.5 194.35 255.5 194.35 256 194.60 256 194.60 257 195.10 257 195.10 256.5 195.60 256.5 195.60 256 196.10 256 196.10 255.5 196.60 255.5 196.60 255 197.35 255 197.35 255.5 197.85 255.5 197.85 256 198.10 256 198.10 256.5 198.35 256.5 198.35 254.5 198.60 254.5 198.60 254 199.10 254 199.10 253.5 199.85 253.5 199.85 253 200.60 253 200.60 242.5 201.10 242.5 201.10 242 202.85 242 202.85 242.5 203.10 242.5 203.10 243 203.35 243 203.35 246.5 203.60 246.5 203.60 246 205.35 246 205.35 246.5 205.85 246.5 205.85 254 206.10 254 206.10 253.5 206.35 253.5 206.35 253 208.10 253 208.10 253.5 209.60 253.5 209.60 252.5 209.85 252.5 209.85 252 210.10 252 210.10 251.5 212.35 251.5 212.35 252 212.85 252 212.85 253 213.35 253 213.35 252.5 213.60 252.5 213.60 252 215.60 252 215.60 252.5 216.10 252.5 216.10 254.5 217.85 254.5 217.85 255 218.10 255 218.10 255.5 218.35 255.5 218.35 256.5 218.60 256.5 218.60 253.5 218.85 253.5 218.85 253 220.85 253 220.85 253.5 221.10 253.5 221.10 257.5 221.60 257.5 221.60 257 221.85 257 221.85 256.5 223.10 256.5 223.10 257 223.35 257 223.35 257.5 223.85 257.5 223.85 256.5 224.10 256.5 224.10 256 224.60 256 224.60 255.5 225.10 255.5 225.10 256 225.60 256 225.60 254.5 225.85 254.5 225.85 254 226.35 254 226.35 249 226.60 249 226.60 248.5 227.10 248.5 227.10 248 228.10 248 228.10 248.5 228.85 248.5 228.85 249.5 229.35 249.5 229.35 250 229.85 250 229.85 249 230.10 249 230.10 248.5 230.60 248.5 230.60 248 231.85 248 231.85 248.5 232.35 248.5 232.35 249 232.60 249 232.60 251.5 233.10 251.5 233.10 251 233.60 251 233.60 250.5 234.85 250.5 234.85 251 235.35 251 235.35 251.5 235.60 251.5 235.60 256 236.35 256 236.35 254.5 236.60 254.5 236.60 254 237.10 254 237.10 253.5 238.10 253.5 238.10 254 238.85 254 238.85 254.5 239.10 254.5 239.10 255.5 240.60 255.5 240.60 255 241.10 255 241.10 254.5 241.85 254.5 241.85 255 242.60 255 242.60 255.5 242.85 255.5 242.85 251 243.10 251 243.10 250.5 243.85 250.5 243.85 250 244.60 250 244.60 250.5 245.35 250.5 245.35 251 245.60 251 245.60 253.5 246.35 253.5 246.35 254 246.85 254 246.85 253 247.10 253 247.10 252.5 247.35 252.5 247.35 252 249.35 252 249.35 252.5 249.60 252.5 249.60 256.5 249.85 256.5 249.85 254.5 250.10 254.5 250.10 254 250.35 254 250.35 253.5 251.10 253.5 251.10 253 251.35 253 251.35 253.5 252.35 253.5 252.35 254 253.85 254 253.85 251.5 254.10 251.5 254.10 251 255.85 251 255.85 250.5 256.35 250.5 256.35 250 257.60 250 257.60 250.5 258.10 250.5 258.10 251 258.35 251 258.35 258 258.60 258 258.60 257.5 258.85 257.5 258.85 257 259.10 257 259.10 256.5 259.35 256.5 259.35 256 259.60 256 259.60 255 259.85 255 259.85 254.5 260.10 254.5 260.10 254 260.35 254 260.35 253.5 260.60 253.5 260.60 253 261.10 253 261.10 249.5 261.85 249.5 261.85 249 262.60 249 262.60 229.5 262.85 229.5 262.85 230 263.35 230 263.35 230.5 265.35 230.5 265.35 230 266.10 230 266.10 229.5 266.60 229.5 266.60 229 267.35 229 267.35 228.5 269.10 228.5 269.10 229 269.60 229 269.60 229.5 270.35 229.5 270.35 230 271.60 230 271.60 230.5 273.35 230.5 273.35 230 273.85 230 273.85 229.5 274.35 229.5 274.35 229 274.85 229 274.85 228.5 275.85 228.5 275.85 227 276.10 227 276.10 226.5 276.85 226.5 276.85 226 277.35 226 277.35 226.5 278.10 226.5 278.10 227 278.35 227 278.35 256.5 279.10 256.5 279.10 256 280.10 256 280.10 248.5 280.35 248.5 280.35 248 281.10 248 281.10 247.5 281.85 247.5 281.85 241 282.10 241 282.10 240.5 284.10 240.5 284.10 241 284.35 241 284.35 243.5 285.60 243.5 285.60 244 286.35 244 286.35 246 286.85 246 286.85 246.5 287.35 246.5 287.35 247.5 287.60 247.5 287.60 247 288.85 247 288.85 247.5 289.35 247.5 289.35 248 289.60 248 289.60 252.5 290.10 252.5 290.10 246.5 290.35 246.5 290.35 246 290.85 246 290.85 245.5 292.35 245.5 292.35 246 292.85 246 292.85 247 293.10 247 293.10 247.5 293.35 247.5 293.35 256 293.60 256 293.60 256.5 294.10 256.5 294.10 256 295.60 256 295.60 256.5 295.85 256.5 295.85 256 296.10 256 296.10 255.5 298.10 255.5 298.10 256 298.35 256 298.35 255 298.85 255 298.85 254 299.10 254 299.10 253.5 299.60 253.5 299.60 253 300.60 253 300.60 253.5 301.10 253.5 301.10 249 301.35 249 301.35 248.5 301.60 248.5 301.60 245.5 302.35 245.5 302.35 245 303.35 245 303.35 245.5 304.10 245.5 304.10 255 305.10 255 305.10 255.5 305.60 255.5 305.60 255 306.10 255 306.10 252.5 306.35 252.5 306.35 252 306.85 252 306.85 251.5 308.35 251.5 308.35 252 309.10 252 309.10 250.5 309.35 250.5 309.35 250 309.60 250 309.60 249.5 310.10 249.5 310.10 249 310.35 249 310.35 246 310.85 246 310.85 245.5 312.35 245.5 312.35 246 312.85 246 312.85 246.5 313.35 246.5 313.35 247 313.60 247 313.60 250.5 313.85 250.5 313.85 253 314.10 253 314.10 253.5 314.35 253.5 314.35 254.5 314.85 254.5 314.85 255 315.35 255 315.35 257 315.85 257 315.85 257.5 316.35 257.5 316.35 251 316.60 251 316.60 250.5 316.85 250.5 316.85 250 318.85 250 318.85 249.5 319.85 249.5 319.85 250 320.60 250 320.60 258 320.85 258 320.85 257.5 321.10 257.5 321.10 257 321.60 257 321.60 256.5 323.85 256.5 323.85 256 324.10 256 324.10 255.5 325.10 255.5 325.10 255 325.35 255 325.35 255.5 325.60 255.5 325.60 253.5 325.85 253.5 325.85 253 326.10 253 326.10 250.5 326.35 250.5 326.35 250 328.35 250 328.35 250.5 330.35 250.5 330.35 251 330.60 251 330.60 252 332.10 252 332.10 251.5 332.35 251.5 332.35 247.5 332.60 247.5 332.60 247 333.10 247 333.10 246.5 333.85 246.5 333.85 245.5 334.10 245.5 334.10 245 334.35 245 334.35 244.5 336.10 244.5 336.10 245 336.60 245 336.60 252.5 337.85 252.5 337.85 253 339.60 253 339.60 238 339.85 238 339.85 237.5 340.10 237.5 340.10 237 340.35 237 340.35 236.5 341.35 236.5 341.35 236 341.60 236 341.60 236.5 342.60 236.5 342.60 237 342.85 237 342.85 244 343.10 244 343.10 244.5 343.35 244.5 343.35 245 343.60 245 343.60 245.5 344.10 245.5 344.10 246 344.85 246 344.85 241.5 345.10 241.5 345.10 241 345.85 241 345.85 240.5 346.60 240.5 346.60 241 347.35 241 347.35 241.5 347.60 241.5 347.60 245 348.35 245 348.35 236 348.60 236 348.60 235.5 348.85 235.5 348.85 235 350.60 235 350.60 235.5 351.10 235.5 351.10 240 351.35 240 351.35 242 351.85 242 351.85 242.5 352.35 242.5 352.35 243 352.60 243 352.60 243.5 352.85 243.5 352.85 244 353.35 244 353.35 243.5 353.60 243.5 353.60 243 355.10 243 355.10 242 355.60 242 355.60 241.5 357.35 241.5 357.35 242 357.60 242 357.60 242.5 357.85 242.5 357.85 255 358.60 255 358.60 254.5 359.60 254.5 359.60 255 360.35 255 360.35 255.5 361.10 255.5 361.10 256 361.60 256 361.60 257 362.10 257 362.10 253.5 362.35 253.5 362.35 253 362.85 253 362.85 251 363.10 251 363.10 250.5 363.60 250.5 363.60 250 364.60 250 364.60 250.5 365.35 250.5 365.35 251 365.60 251 365.60 256.5 365.85 256.5 365.85 256 366.35 256 366.35 255.5 366.60 255.5 366.60 249.5 366.85 249.5 366.85 249 367.10 249 367.10 248.5 368.85 248.5 368.85 249 369.35 249 369.35 257.5 369.85 257.5 369.85 257 370.10 257 370.10 256.5 370.35 256.5 370.35 256 370.85 256 370.85 255.5 371.35 255.5 371.35 251.5 371.60 251.5 371.60 251 372.10 251 372.10 250.5 373.35 250.5 373.35 251 373.85 251 373.85 251.5 374.10 251.5 374.10 256.5 375.10 256.5 375.10 257 375.35 257 375.35 254 375.60 254 375.60 253.5 376.10 253.5 376.10 253 376.60 253 376.60 238 377.10 238 377.10 237.5 378.60 237.5 378.60 238 379.10 238 379.10 247 379.35 247 379.35 245.5 379.60 245.5 379.60 245 380.35 245 380.35 244.5 381.10 244.5 381.10 245 381.85 245 381.85 246 382.10 246 382.10 249.5 382.35 249.5 382.35 252.5 383.35 252.5 383.35 253 383.60 253 383.60 254 384.10 254 384.10 258 384.35 258 384.35 258.5 384.60 258.5 384.60 239.5 385.10 239.5 385.10 239 386.85 239 386.85 239.5 387.10 239.5 387.10 240 387.35 240 387.35 245.5 389.35 245.5 389.35 246 389.60 246 389.60 253 390.35 253 390.35 252.5 390.60 252.5 390.60 253 391.60 253 391.60 253.5 391.85 253.5 391.85 254 393.10 254 393.10 254.5 393.35 254.5 393.35 255 393.60 255 393.60 257.5 393.85 257.5 393.85 251 394.35 251 394.35 250.5 394.85 250.5 394.85 250 396.60 250 396.60 250.5 396.85 250.5 396.85 251 397.10 251 397.10 252 397.85 252 397.85 252.5 398.35 252.5 398.35 253.5 398.60 253.5 398.60 253 398.85 253 398.85 252.5 399.10 252.5 399.10 250 399.60 250 399.60 249.5 401.35 249.5 401.35 250 401.60 250 401.60 250.5 401.85 250.5 401.85 252.5 402.10 252.5 402.10 253 402.60 253 402.60 255.5 402.85 255.5 402.85 255 403.85 255 403.85 251 404.10 251 404.10 250 404.35 250 404.35 249.5 404.60 249.5 404.60 247 404.85 247 404.85 246.5 405.35 246.5 405.35 246 406.60 246 406.60 246.5 407.10 246.5 407.10 247 407.35 247 407.35 257.5 407.60 257.5 407.60 253.5 407.85 253.5 407.85 253 408.60 253 408.60 252.5 409.35 252.5 409.35 253 410.10 253 410.10 253.5 410.35 253.5 410.35 257.5 411.10 257.5 411.10 258 411.85 258 411.85 257.5 412.35 257.5 412.35 257 412.85 257 412.85 256.5 413.85 256.5 413.85 257 414.60 257 414.60 257.5 414.85 257.5 414.85 248.5 415.10 248.5 415.10 248 415.60 248 415.60 247.5 416.60 247.5 416.60 248 417.35 248 417.35 249.5 417.85 249.5 417.85 250 419.35 250 419.35 250.5 419.60 250.5 419.60 251 419.85 251 419.85 251.5 420.35 251.5 420.35 257.5 420.60 257.5 420.60 258 421.10 258 421.10 257.5 421.60 257.5 421.60 257 422.10 257 422.10 256.5 422.35 256.5 422.35 256 423.10 256 423.10 255.5 423.35 255.5 423.35 253.5 423.60 253.5 423.60 252.5 423.85 252.5 423.85 249 424.10 249 424.10 248.5 424.85 248.5 424.85 248 425.35 248 425.35 248.5 426.35 248.5 426.35 249 426.85 249 426.85 249.5 427.35 249.5 427.35 256.5 428.60 256.5 428.60 257 429.10 257 429.10 249 429.35 249 429.35 248.5 429.85 248.5 429.85 248 431.10 248 431.10 248.5 431.60 248.5 431.60 249 431.85 249 431.85 249.5 432.10 249.5 432.10 249 432.35 249 432.35 246.5 432.85 246.5 432.85 246 434.60 246 434.60 246.5 434.85 246.5 434.85 247 435.10 247 435.10 253 435.60 253 435.60 253.5 435.85 253.5 435.85 254 436.10 254 436.10 249.5 436.35 249.5 436.35 249 437.10 249 437.10 248.5 438.10 248.5 438.10 249 438.60 249 438.60 249.5 438.85 249.5 438.85 253.5 439.35 253.5 439.35 254 439.60 254 439.60 258 439.85 258 439.85 254.5 440.10 254.5 440.10 254 441.10 254 441.10 252.5 441.60 252.5 441.60 252 443.35 252 443.35 252.5 443.60 252.5 443.60 253 443.85 253 443.85 252.5 444.10 252.5 444.10 252 444.85 252 444.85 251 445.10 251 445.10 250.5 445.60 250.5 445.60 250 446.60 250 446.60 250.5 447.35 250.5 447.35 251.5 447.60 251.5 447.60 257.5 448.10 257.5 448.10 252.5 448.35 252.5 448.35 252 448.60 252 448.60 251.5 450.35 251.5 450.35 252 451.60 252 451.60 252.5 451.85 252.5 451.85 252 452.10 252 452.10 251.5 452.35 251.5 452.35 251 454.10 251 454.10 251.5 454.60 251.5 454.60 251 456.10 251 456.10 251.5 456.60 251.5 456.60 258 457.10 258 457.10 257.5 457.35 257.5 457.35 257 457.85 257 457.85 256.5 458.10 256.5 458.10 257 458.35 257 458.35 256.5 459.85 256.5 459.85 257 460.35 257 460.35 257.5 460.60 257.5 460.60 258 461.85 258 461.85 252.5 462.35 252.5 462.35 252 463.85 252 463.85 252.5 464.35 252.5 464.35 253.5 464.60 253.5 464.60 253 465.85 253 465.85 253.5 466.35 253.5 466.35 254 466.60 254 466.60 254.5 466.85 254.5 466.85 250 467.35 250 467.35 249.5 469.35 249.5 469.35 250 469.60 250 469.60 254 470.35 254 470.35 254.5 470.60 254.5 470.60 258.5 471.10 258.5 471.10 258 471.35 258 471.35 257.5 471.60 257.5 471.60 257 472.10 257 472.10 253 472.35 253 472.35 252.5 472.85 252.5 472.85 244 473.10 244 473.10 243.5 473.60 243.5 473.60 243 474.85 243 474.85 243.5 475.35 243.5 475.35 244 475.60 244 475.60 253 475.85 253 475.85 252.5 476.35 252.5 476.35 247 476.60 247 476.60 246.5 477.10 246.5 477.10 246 478.35 246 478.35 246.5 478.85 246.5 478.85 247 479.10 247 479.10 254 479.35 254 479.35 254.5 479.60 254.5 479.60 256 479.85 256 479.85 256.5 480.10 256.5 480.10 258.5 482.35 258.5 482.35 259 483.10 259 483.10 258.5 483.35 258.5 483.35 258 483.60 258 483.60 257.5 483.85 257.5 483.85 257 484.10 257 484.10 253 484.35 253 484.35 252.5 484.85 252.5 484.85 252 485.85 252 485.85 252.5 486.35 252.5 486.35 247.5 486.60 247.5 486.60 247 487.60 247 487.60 246.5 487.85 246.5 487.85 247 488.85 247 488.85 247.5 489.10 247.5 489.10 255 489.60 255 489.60 255.5 489.85 255.5 489.85 256 490.10 256 490.10 259.5 491.35 259.5 491.35 259 491.60 259 491.60 256 491.85 256 491.85 255.5 492.35 255.5 492.35 254 492.60 254 492.60 253.5 493.35 253.5 493.35 253 494.10 253 494.10 253.5 494.85 253.5 494.85 254 495.10 254 495.10 255.5 495.35 255.5 495.35 256 495.85 256 495.85 258 496.10 258 496.10 257.5 496.35 257.5 496.35 254 496.85 254 496.85 253.5 498.35 253.5 498.35 254 498.85 254 498.85 255.5 499.35 255.5 499.35 253 499.60 253 499.60 252.5 500.35 252.5 500.35 252 501.10 252 501.10 252.5 501.85 252.5 501.85 253 502.10 253 502.10 256 502.60 256 502.60 256.5 502.85 256.5 502.85 258.5 503.10 258.5 503.10 259 503.60 259 503.60 256.5 503.85 256.5 503.85 254 504.10 254 504.10 253 504.60 253 504.60 252.5 506.10 252.5 506.10 253 506.60 253 506.60 255.5 506.85 255.5 506.85 256.5 507.60 256.5 507.60 255.5 508.10 255.5 508.10 255 509.60 255 509.60 255.5 511.60 255.5 511.60 256 511.85 256 511.85 253 512.35 253 512.35 252.5 513.85 252.5 513.85 253 514.35 253 514.35 258.5 514.85 258.5 514.85 259 515.60 259 515.60 258.5 515.85 258.5 515.85 258 516.35 258 516.35 257.5 517.10 257.5 517.10 258 517.60 258 517.60 258.5 518.10 258.5 518.10 259 518.60 259 518.60 259.5 519.60 259.5 519.60 259 521.60 259 521.60 259.5 522.35 259.5 522.35 259 523.35 259 523.35 254 523.85 254 523.85 253.5 525.35 253.5 525.35 254 525.85 254 525.85 256.5 527.10 256.5 527.10 256 529.35 256 529.35 255.5 530.10 255.5 530.10 255 530.35 255 530.35 254.5 531.10 254.5 531.10 254 531.85 254 531.85 254.5 532.60 254.5 532.60 255 532.85 255 532.85 255.5 533.35 255.5 533.35 256 533.60 256 533.60 259.5 535.35 259.5 535.35 255 535.60 255 535.60 254.5 536.10 254.5 536.10 254 537.60 254 537.60 254.5 538.10 254.5 538.10 255 538.60 255 538.60 254.5 539.85 254.5 539.85 255 540.35 255 540.35 255.5 540.60 255.5 540.60 259 540.85 259 540.85 258.5 542.60 258.5 542.60 255.5 542.85 255.5 542.85 255 543.60 255 543.60 254.5 544.10 254.5 544.10 255 544.85 255 544.85 255.5 545.10 255.5 545.10 256 545.35 256 545.35 257.5 546.60 257.5 546.60 257 547.10 257 547.10 253 547.35 253 547.35 252.5 547.60 252.5 547.60 252 549.35 252 549.35 252.5 549.60 252.5 549.60 253 549.85 253 549.85 258 550.10 258 550.10 258.5 550.35 258.5 550.35 258 550.85 258 550.85 257.5 552.10 257.5 552.10 255 552.35 255 552.35 254.5 553.10 254.5 553.10 254 553.85 254 553.85 254.5 554.60 254.5 554.60 255 554.85 255 554.85 259.5 555.35 259.5 555.35 260 557.60 260 557.60 260.5 558.35 260.5 558.35 260 558.60 260 558.60 260.5 558.85 260.5 558.85 257.5 559.10 257.5 559.10 257 559.85 257 559.85 256.5 560.35 256.5 560.35 257 560.85 257 560.85 256.5 561.10 256.5 561.10 256 561.35 256 561.35 255.5 561.85 255.5 561.85 256 562.35 256 562.35 256.5 562.60 256.5 562.60 257 562.85 257 562.85 258 563.10 258 563.10 258.5 563.35 258.5 563.35 259.5 563.60 259.5 563.60 260 564.60 260 564.60 256 564.85 256 564.85 255.5 566.85 255.5 566.85 256 567.10 256 567.10 256.5 567.35 256.5 567.35 257 567.60 257 567.60 257.5 568.10 257.5 568.10 258 568.60 258 568.60 258.5 568.85 258.5 568.85 259 569.10 259 569.10 259.5 569.60 259.5 569.60 259 570.10 259 570.10 256.5 570.35 256.5 570.35 256 570.60 256 570.60 255.5 572.60 255.5 572.60 256 572.85 256 572.85 257 573.35 257 573.35 257.5 574.10 257.5 574.10 258 574.35 258 574.35 258.5 574.85 258.5 574.85 259 575.35 259 575.35 258.5 575.85 258.5 575.85 258 576.35 258 576.35 257.5 576.60 257.5 576.60 257 576.85 257 576.85 250.5 577.35 250.5 577.35 250 579.10 250 579.10 250.5 579.35 250.5 579.35 251 579.60 251 579.60 254 580.35 254 580.35 252.5 580.60 252.5 580.60 250 580.85 250 580.85 249.5 581.10 249.5 581.10 249 583.10 249 583.10 249.5 583.35 249.5 583.35 254.5 584.10 254.5 584.10 250.5 584.35 250.5 584.35 250 584.85 250 584.85 249.5 585.85 249.5 585.85 250 586.35 250 586.35 250.5 586.60 250.5 586.60 256.5 587.35 256.5 587.35 257 587.85 257 587.85 257.5 588.10 257.5 588.10 258 588.35 258 588.35 249.5 588.60 249.5 588.60 249 589.35 249 589.35 248.5 589.85 248.5 589.85 249 590.60 249 590.60 249.5 590.85 249.5 590.85 253 591.85 253 591.85 246 592.10 246 592.10 245.5 592.60 245.5 592.60 245 593.10 245 593.10 239.5 593.35 239.5 593.35 239 593.60 239 593.60 238.5 595.35 238.5 595.35 239 595.60 239 595.60 239.5 595.85 239.5 595.85 257 596.35 257 596.35 257.5 596.85 257.5 596.85 248 597.10 248 597.10 247.5 597.35 247.5 597.35 245 597.60 245 597.60 244.5 598.10 244.5 598.10 244 599.35 244 599.35 244.5 599.85 244.5 599.85 245 600.10 245 600.10 247 600.60 247 600.60 247.5 601.35 247.5 601.35 248.5 601.60 248.5 601.60 249 602.10 249 602.10 249.5 602.60 249.5 602.60 250.5 603.10 250.5 603.10 246 603.35 246 603.35 245.5 603.60 245.5 603.60 245 605.60 245 605.60 245.5 605.85 245.5 605.85 247.5 606.10 247.5 606.10 248 606.85 248 606.85 248.5 608.10 248.5 608.10 249 608.60 249 608.60 253.5 609.60 253.5 609.60 253 610.10 253 610.10 252.5 611.10 252.5 611.10 251.5 611.60 251.5 611.60 251 611.85 251 611.85 249.5 612.35 249.5 612.35 249 614.10 249 614.10 249.5 614.35 249.5 614.35 250 614.60 250 614.60 254.5 614.85 254.5 614.85 254 615.35 254 615.35 254.5 616.10 254.5 616.10 255 616.35 255 616.35 251 616.85 251 616.85 250.5 618.60 250.5 618.60 251 619.10 251 619.10 255 619.60 255 619.60 255.5 619.85 255.5 619.85 244.5 620.35 244.5 620.35 244 622.10 244 622.10 244.5 622.35 244.5 622.35 245 622.60 245 622.60 248 622.85 248 622.85 247.5 624.85 247.5 624.85 248 625.10 248 625.10 250 627.10 250 627.10 250.5 627.35 250.5 627.35 257 627.85 257 627.85 257.5 628.10 257.5 628.10 249 628.35 249 628.35 242.5 628.60 242.5 628.60 241.5 629.10 241.5 629.10 241 630.35 241 630.35 241.5 631.10 241.5 631.10 259.5 631.60 259.5 631.60 260 632.10 260 632.10 260.5 632.35 260.5 632.35 253 632.60 253 632.60 252.5 633.10 252.5 633.10 252 634.60 252 634.60 252.5 634.85 252.5 634.85 249 635.10 249 635.10 248.5 636.10 248.5 636.10 248 636.35 248 636.35 245 636.85 245 636.85 244.5 638.60 244.5 638.60 245 638.85 245 638.85 245.5 639.10 245.5 639.10 262 639.35 262 639.35 261.5 640.35 261.5 640.35 261 640.85 261 640.85 260.5 641.10 260.5 641.10 260 641.85 260 641.85 259.5 642.85 259.5 642.85 260 643.85 260 643.85 249.5 644.10 249.5 644.10 249 644.35 249 644.35 248.5 645.10 248.5 645.10 248 645.60 248 645.60 248.5 645.85 248.5 645.85 243 646.10 243 646.10 242.5 646.60 242.5 646.60 242 648.10 242 648.10 242.5 648.35 242.5 648.35 243 648.60 243 648.60 254 649.10 254 649.10 254.5 649.35 254.5 649.35 255.5 649.60 255.5 649.60 258.5 650.10 258.5 650.10 254.5 650.35 254.5 650.35 254 650.60 254 650.60 253 650.85 253 650.85 252.5 651.10 252.5 651.10 252 651.60 252 651.60 246.5 652.10 246.5 652.10 246 653.60 246 653.60 246.5 654.10 246.5 654.10 249.5 656.10 249.5 656.10 250 656.60 250 656.60 251 657.10 251 657.10 249 657.35 249 657.35 248.5 657.60 248.5 657.60 248 659.60 248 659.60 248.5 659.85 248.5 659.85 251 660.10 251 660.10 250.5 660.85 250.5 660.85 250 661.35 250 661.35 250.5 661.35 250.5 661.35 276 661.10 276 661.10 276.5 660.60 276.5 660.60 277 659.35 277 659.35 276.5 658.85 276.5 658.85 276 658.60 276 658.60 275.5 658.35 275.5 658.35 276 658.10 276 658.10 276.5 657.85 276.5 657.85 277 657.35 277 657.35 277.5 656.10 277.5 656.10 277 655.85 277 655.85 276.5 655.60 276.5 655.60 276 655.35 276 655.35 276.5 653.85 276.5 653.85 276 653.35 276 653.35 276.5 651.85 276.5 651.85 276 651.35 276 651.35 274.5 650.10 274.5 650.10 275 649.35 275 649.35 275.5 647.10 275.5 647.10 275 646.85 275 646.85 274 646.10 274 646.10 276.5 645.35 276.5 645.35 277 643.60 277 643.60 277.5 642.85 277.5 642.85 278 642.35 278 642.35 277.5 641.85 277.5 641.85 278 641.60 278 641.60 278.5 640.10 278.5 640.10 279 638.35 279 638.35 278.5 638.10 278.5 638.10 278 637.85 278 637.85 274 636.60 274 636.60 274.5 635.85 274.5 635.85 275 635.60 275 635.60 279.5 635.35 279.5 635.35 280 634.10 280 634.10 280.5 632.85 280.5 632.85 280 632.35 280 632.35 279.5 632.10 279.5 632.10 276 631.85 276 631.85 277.5 631.35 277.5 631.35 278 630.60 278 630.60 279.5 630.10 279.5 630.10 280 628.35 280 628.35 279.5 628.10 279.5 628.10 277.5 627.85 277.5 627.85 277 627.60 277 627.60 275 626.85 275 626.85 282 626.60 282 626.60 282.5 626.35 282.5 626.35 283 624.85 283 624.85 282.5 624.35 282.5 624.35 276.5 624.10 276.5 624.10 276 623.85 276 623.85 275.5 622.35 275.5 622.35 276.5 622.10 276.5 622.10 277 621.60 277 621.60 277.5 620.60 277.5 620.60 277 620.10 277 620.10 276.5 619.85 276.5 619.85 275 618.85 275 618.85 279.5 618.60 279.5 618.60 280 618.10 280 618.10 280.5 617.10 280.5 617.10 280 616.60 280 616.60 279.5 616.35 279.5 616.35 279 615.85 279 615.85 278.5 615.60 278.5 615.60 278 615.35 278 615.35 276 615.10 276 615.10 276.5 612.85 276.5 612.85 276 612.60 276 612.60 275.5 611.85 275.5 611.85 276 610.85 276 610.85 275.5 610.10 275.5 610.10 278 609.85 278 609.85 278.5 609.10 278.5 609.10 279 608.85 279 608.85 280 608.60 280 608.60 280.5 608.35 280.5 608.35 281 606.60 281 606.60 281.5 605.60 281.5 605.60 281 604.85 281 604.85 279 604.60 279 604.60 279.5 603.35 279.5 603.35 279 603.10 279 603.10 279.5 602.35 279.5 602.35 279 601.60 279 601.60 278.5 601.35 278.5 601.35 275.5 601.10 275.5 601.10 275 600.35 275 600.35 278.5 600.10 278.5 600.10 279 599.85 279 599.85 279.5 598.35 279.5 598.35 279 598.10 279 598.10 281.5 597.85 281.5 597.85 282 595.85 282 595.85 281.5 595.60 281.5 595.60 275.5 594.60 275.5 594.60 277.5 594.35 277.5 594.35 278 593.85 278 593.85 278.5 593.10 278.5 593.10 282 592.60 282 592.60 282.5 591.35 282.5 591.35 282 590.85 282 590.85 281.5 590.60 281.5 590.60 278 590.35 278 590.35 277.5 588.85 277.5 588.85 277 588.60 277 588.60 275 587.10 275 587.10 276 586.85 276 586.85 276.5 585.60 276.5 585.60 282.5 585.10 282.5 585.10 283 583.60 283 583.60 282.5 583.35 282.5 583.35 282 583.10 282 583.10 281 582.60 281 582.60 280.5 582.35 280.5 582.35 274.5 580.35 274.5 580.35 275 579.10 275 579.10 275.5 576.85 275.5 576.85 275 575.60 275 575.60 274.5 575.35 274.5 575.35 276 574.60 276 574.60 276.5 573.85 276.5 573.85 276 573.35 276 573.35 279 573.10 279 573.10 279.5 572.60 279.5 572.60 280 571.60 280 571.60 285.5 571.35 285.5 571.35 286 569.35 286 569.35 285 569.10 285 569.10 278 568.60 278 568.60 279.5 568.35 279.5 568.35 280 568.10 280 568.10 280.5 566.60 280.5 566.60 280 566.35 280 566.35 281 566.10 281 566.10 281.5 565.60 281.5 565.60 282 565.35 282 565.35 282.5 564.85 282.5 564.85 283 564.10 283 564.10 283.5 563.85 283.5 563.85 284 563.35 284 563.35 284.5 562.35 284.5 562.35 284 561.60 284 561.60 279 561.10 279 561.10 278.5 559.85 278.5 559.85 279 559.60 279 559.60 279.5 557.60 279.5 557.60 279 557.35 279 557.35 278.5 556.85 278.5 556.85 278 555.35 278 555.35 280 554.85 280 554.85 280.5 553.60 280.5 553.60 280 553.10 280 553.10 279.5 552.85 279.5 552.85 278.5 552.35 278.5 552.35 279 551.85 279 551.85 280.5 551.60 280.5 551.60 281 550.85 281 550.85 281.5 550.35 281.5 550.35 282 548.85 282 548.85 281.5 548.35 281.5 548.35 280.5 547.85 280.5 547.85 280 547.60 280 547.60 278 547.10 278 547.10 280 546.85 280 546.85 280.5 546.60 280.5 546.60 281 545.10 281 545.10 280.5 544.60 280.5 544.60 282 544.35 282 544.35 282.5 544.10 282.5 544.10 283 542.35 283 542.35 282.5 542.10 282.5 542.10 278 541.60 278 541.60 282 541.35 282 541.35 282.5 539.35 282.5 539.35 282 539.10 282 539.10 278.5 536.35 278.5 536.35 278 535.10 278 535.10 277.5 533.35 277.5 533.35 279 533.10 279 533.10 279.5 532.85 279.5 532.85 280 531.10 280 531.10 279.5 530.85 279.5 530.85 277.5 530.60 277.5 530.60 278 530.35 278 530.35 280 530.10 280 530.10 280.5 529.85 280.5 529.85 281 528.10 281 528.10 280.5 527.85 280.5 527.85 278 527.60 278 527.60 280 527.35 280 527.35 280.5 526.85 280.5 526.85 281 526.60 281 526.60 281.5 525.10 281.5 525.10 281 524.35 281 524.35 280.5 523.60 280.5 523.60 279 523.35 279 523.35 279.5 522.60 279.5 522.60 280 522.10 280 522.10 279.5 521.35 279.5 521.35 279 521.10 279 521.10 278 520.10 278 520.10 278.5 519.85 278.5 519.85 277.5 519.60 277.5 519.60 278 519.35 278 519.35 278.5 517.85 278.5 517.85 282.5 517.60 282.5 517.60 283 517.35 283 517.35 284 516.60 284 516.60 284.5 515.85 284.5 515.85 284 515.10 284 515.10 283.5 514.85 283.5 514.85 275.5 514.60 275.5 514.60 275 513.60 275 513.60 274.5 513.35 274.5 513.35 277.5 513.10 277.5 513.10 278 512.10 278 512.10 278.5 511.85 278.5 511.85 278 511.10 278 511.10 277.5 510.85 277.5 510.85 274.5 510.60 274.5 510.60 275 510.35 275 510.35 274.5 508.60 274.5 508.60 274 507.10 274 507.10 276 506.85 276 506.85 276.5 506.35 276.5 506.35 277 505.10 277 505.10 276.5 504.60 276.5 504.60 274 504.10 274 504.10 274.5 502.85 274.5 502.85 277.5 502.60 277.5 502.60 278 502.10 278 502.10 278.5 500.85 278.5 500.85 278 500.35 278 500.35 275.5 499.60 275.5 499.60 275 499.35 275 499.35 274.5 498.10 274.5 498.10 275 497.35 275 497.35 275.5 492.35 275.5 492.35 279.5 492.10 279.5 492.10 280 490.10 280 490.10 279.5 489.85 279.5 489.85 277 489.10 277 489.10 276.5 488.85 276.5 488.85 277 488.35 277 488.35 277.5 486.85 277.5 486.85 277 486.35 277 486.35 274 483.85 274 483.85 274.5 483.60 274.5 483.60 275.5 483.35 275.5 483.35 276 482.60 276 482.60 276.5 481.60 276.5 481.60 276 481.35 276 481.35 280 481.10 280 481.10 280.5 480.85 280.5 480.85 281 479.35 281 479.35 280.5 478.85 280.5 478.85 278.5 477.85 278.5 477.85 278 477.60 278 477.60 276.5 475.10 276.5 475.10 276 474.85 276 474.85 274 474.60 274 474.60 274.5 472.85 274.5 472.85 276.5 472.35 276.5 472.35 277 470.85 277 470.85 276.5 470.60 276.5 470.60 276 470.35 276 470.35 275.5 470.10 275.5 470.10 276 468.10 276 468.10 275.5 467.85 275.5 467.85 277 467.60 277 467.60 277.5 467.35 277.5 467.35 278 465.85 278 465.85 277.5 465.35 277.5 465.35 275 465.10 275 465.10 277.5 464.85 277.5 464.85 278 463.10 278 463.10 277.5 462.85 277.5 462.85 277 462.60 277 462.60 276 462.35 276 462.35 279 461.85 279 461.85 279.5 460.35 279.5 460.35 280 460.10 280 460.10 280.5 458.10 280.5 458.10 280 457.85 280 457.85 275 457.60 275 457.60 277 457.35 277 457.35 277.5 457.10 277.5 457.10 278 455.35 278 455.35 277.5 455.10 277.5 455.10 277 454.85 277 454.85 278 454.35 278 454.35 278.5 452.60 278.5 452.60 278 452.35 278 452.35 276.5 451.60 276.5 451.60 278.5 451.35 278.5 451.35 279 449.60 279 449.60 278.5 449.10 278.5 449.10 275 447.60 275 447.60 278.5 447.10 278.5 447.10 279 445.85 279 445.85 278.5 445.35 278.5 445.35 278 445.10 278 445.10 275.5 444.60 275.5 444.60 276 444.35 276 444.35 276.5 443.85 276.5 443.85 277 443.35 277 443.35 277.5 443.10 277.5 443.10 278 441.35 278 441.35 277.5 440.60 277.5 440.60 278 439.85 278 439.85 277.5 439.10 277.5 439.10 277 438.35 277 438.35 276.5 437.85 276.5 437.85 275.5 436.85 275.5 436.85 276.5 436.60 276.5 436.60 277 435.35 277 435.35 277.5 435.10 277.5 435.10 278 433.10 278 433.10 277.5 432.85 277.5 432.85 275 432.35 275 432.35 275.5 432.10 275.5 432.10 277 431.85 277 431.85 277.5 431.60 277.5 431.60 278 431.10 278 431.10 278.5 429.85 278.5 429.85 278 429.35 278 429.35 277.5 428.60 277.5 428.60 283 428.35 283 428.35 283.5 427.85 283.5 427.85 284 426.85 284 426.85 283.5 426.35 283.5 426.35 283 426.10 283 426.10 280 425.60 280 425.60 279.5 425.10 279.5 425.10 275 423.60 275 423.60 280 423.35 280 423.35 280.5 423.10 280.5 423.10 281 421.35 281 421.35 280.5 421.10 280.5 421.10 276 420.85 276 420.85 275.5 420.60 275.5 420.60 275 420.35 275 420.35 274.5 419.35 274.5 419.35 276.5 419.10 276.5 419.10 277 418.35 277 418.35 277.5 417.60 277.5 417.60 277 416.85 277 416.85 276.5 415.60 276.5 415.60 276 415.35 276 415.35 275 414.60 275 414.60 274.5 414.35 274.5 414.35 275 414.10 275 414.10 275.5 412.35 275.5 412.35 275 412.10 275 412.10 274.5 409.60 274.5 409.60 275 409.35 275 409.35 277.5 409.10 277.5 409.10 278 408.60 278 408.60 278.5 407.60 278.5 407.60 278 406.85 278 406.85 275.5 405.85 275.5 405.85 283 405.60 283 405.60 283.5 403.85 283.5 403.85 283 403.60 283 403.60 282.5 403.35 282.5 403.35 278 401.85 278 401.85 278.5 401.10 278.5 401.10 279 400.85 279 400.85 278.5 399.85 278.5 399.85 277.5 399.60 277.5 399.60 276.5 397.35 276.5 397.35 277.5 397.10 277.5 397.10 279 396.85 279 396.85 279.5 396.60 279.5 396.60 280 394.85 280 394.85 279.5 394.60 279.5 394.60 276 393.35 276 393.35 275.5 393.10 275.5 393.10 277.5 392.85 277.5 392.85 278 392.60 278 392.60 278.5 390.85 278.5 390.85 278 390.60 278 390.60 279.5 390.10 279.5 390.10 280 388.85 280 388.85 279.5 388.35 279.5 388.35 279 388.10 279 388.10 276.5 387.35 276.5 387.35 277 387.10 277 387.10 277.5 385.10 277.5 385.10 278 384.60 278 384.60 278.5 383.10 278.5 383.10 278 382.85 278 382.85 277.5 382.60 277.5 382.60 276 382.35 276 382.35 276.5 382.10 276.5 382.10 277.5 381.60 277.5 381.60 278 380.10 278 380.10 277.5 379.85 277.5 379.85 277 379.60 277 379.60 275.5 379.10 275.5 379.10 275 378.35 275 378.35 274.5 378.10 274.5 378.10 274 377.60 274 377.60 274.5 376.85 274.5 376.85 275 376.10 275 376.10 276.5 375.60 276.5 375.60 277 375.35 277 375.35 280 375.10 280 375.10 280.5 373.35 280.5 373.35 280 373.10 280 373.10 279.5 372.85 279.5 372.85 277 372.10 277 372.10 276.5 371.85 276.5 371.85 276 370.35 276 370.35 276.5 369.85 276.5 369.85 277.5 369.60 277.5 369.60 278 369.10 278 369.10 278.5 368.60 278.5 368.60 279 368.35 279 368.35 279.5 367.60 279.5 367.60 280 365.35 280 365.35 279.5 364.85 279.5 364.85 277 364.35 277 364.35 277.5 363.85 277.5 363.85 277 363.10 277 363.10 276.5 362.85 276.5 362.85 277 362.60 277 362.60 277.5 362.10 277.5 362.10 278 361.35 278 361.35 277.5 360.60 277.5 360.60 277 360.35 277 360.35 275 360.10 275 360.10 274.5 355.60 274.5 355.60 275 355.35 275 355.35 278.5 354.85 278.5 354.85 279 353.85 279 353.85 280.5 353.60 280.5 353.60 281 353.10 281 353.10 281.5 352.35 281.5 352.35 281 351.60 281 351.60 280.5 351.35 280.5 351.35 277 350.60 277 350.60 279 350.10 279 350.10 279.5 348.60 279.5 348.60 279 348.10 279 348.10 278.5 347.60 278.5 347.60 278 347.10 278 347.10 277.5 346.60 277.5 346.60 278.5 345.85 278.5 345.85 279 344.85 279 344.85 278.5 344.35 278.5 344.35 278 344.10 278 344.10 277.5 343.85 277.5 343.85 280.5 343.60 280.5 343.60 281 343.10 281 343.10 281.5 342.10 281.5 342.10 281 341.60 281 341.60 280.5 341.35 280.5 341.35 276.5 340.60 276.5 340.60 279.5 340.10 279.5 340.10 280 338.60 280 338.60 279.5 338.10 279.5 338.10 275 336.60 275 336.60 275.5 334.85 275.5 334.85 278.5 334.60 278.5 334.60 279 332.10 279 332.10 278.5 331.85 278.5 331.85 276.5 331.35 276.5 331.35 277 329.85 277 329.85 276.5 329.60 276.5 329.60 276 329.35 276 329.35 274.5 328.60 274.5 328.60 276.5 328.35 276.5 328.35 277 326.10 277 326.10 277.5 324.35 277.5 324.35 277 324.10 277 324.10 276.5 323.85 276.5 323.85 274.5 323.10 274.5 323.10 275 322.10 275 322.10 275.5 321.35 275.5 321.35 282 321.10 282 321.10 282.5 320.60 282.5 320.60 283 319.35 283 319.35 282.5 318.85 282.5 318.85 277.5 318.60 277.5 318.60 278 318.10 278 318.10 278.5 317.10 278.5 317.10 278 316.60 278 316.60 277.5 316.35 277.5 316.35 275.5 315.85 275.5 315.85 276 314.85 276 314.85 275.5 314.60 275.5 314.60 277.5 314.35 277.5 314.35 278 313.85 278 313.85 278.5 312.85 278.5 312.85 279 312.60 279 312.60 279.5 311.85 279.5 311.85 280 311.35 280 311.35 279.5 310.60 279.5 310.60 279 310.35 279 310.35 278.5 308.85 278.5 308.85 278 308.35 278 308.35 277.5 308.10 277.5 308.10 277 307.85 277 307.85 277.5 305.10 277.5 305.10 277 304.85 277 304.85 277.5 304.35 277.5 304.35 278 302.85 278 302.85 277.5 302.35 277.5 302.35 276.5 300.85 276.5 300.85 277 299.85 277 299.85 276.5 299.60 276.5 299.60 278.5 299.10 278.5 299.10 279 297.35 279 297.35 278.5 297.10 278.5 297.10 276 296.10 276 296.10 276.5 295.85 276.5 295.85 277 293.10 277 293.10 278 292.60 278 292.60 278.5 290.60 278.5 290.60 278 288.85 278 288.85 277.5 288.35 277.5 288.35 277 288.10 277 288.10 276.5 286.85 276.5 286.85 276 286.60 276 286.60 275 285.60 275 285.60 275.5 285.35 275.5 285.35 276 285.10 276 285.10 276.5 284.85 276.5 284.85 277 283.35 277 283.35 276.5 282.85 276.5 282.85 275.5 281.35 275.5 281.35 276 280.85 276 280.85 280 280.35 280 280.35 280.5 278.85 280.5 278.85 280 278.60 280 278.60 279.5 278.35 279.5 278.35 275.5 277.85 275.5 277.85 275 277.35 275 277.35 274.5 277.10 274.5 277.10 277 276.85 277 276.85 277.5 275.85 277.5 275.85 278 275.60 278 275.60 277.5 274.85 277.5 274.85 277 274.60 277 274.60 273.5 274.35 273.5 274.35 265.5 274.10 265.5 274.10 266 273.35 266 273.35 266.5 272.60 266.5 272.60 267 267.10 267 267.10 267.5 262.85 267.5 262.85 268 262.35 268 262.35 275.5 261.60 275.5 261.60 276.5 261.10 276.5 261.10 277 259.35 277 259.35 276.5 259.10 276.5 259.10 275.5 258.85 275.5 258.85 277.5 258.35 277.5 258.35 278 258.10 278 258.10 278.5 257.35 278.5 257.35 279.5 257.10 279.5 257.10 280.5 256.35 280.5 256.35 281 255.60 281 255.60 280.5 254.85 280.5 254.85 277 254.35 277 254.35 277.5 253.10 277.5 253.10 277 252.35 277 252.35 276.5 251.60 276.5 251.60 276 251.35 276 251.35 275 250.35 275 250.35 275.5 250.10 275.5 250.10 276 249.60 276 249.60 276.5 248.35 276.5 248.35 276 247.85 276 247.85 275.5 247.60 275.5 247.60 277.5 247.10 277.5 247.10 278 245.60 278 245.60 278.5 244.60 278.5 244.60 279 244.35 279 244.35 279.5 242.85 279.5 242.85 280.5 242.60 280.5 242.60 281 241.85 281 241.85 281.5 241.35 281.5 241.35 281 240.60 281 240.60 280.5 240.35 280.5 240.35 279 240.10 279 240.10 275 239.60 275 239.60 280 239.10 280 239.10 280.5 237.85 280.5 237.85 280 237.35 280 237.35 279.5 237.10 279.5 237.10 276.5 236.85 276.5 236.85 276 236.60 276 236.60 275.5 236.35 275.5 236.35 277 236.10 277 236.10 277.5 235.85 277.5 235.85 278 233.10 278 233.10 277.5 232.60 277.5 232.60 277 232.35 277 232.35 276 231.85 276 231.85 276.5 231.60 276.5 231.60 277 229.85 277 229.85 276.5 229.60 276.5 229.60 275.5 229.35 275.5 229.35 282 228.85 282 228.85 282.5 227.60 282.5 227.60 282 227.10 282 227.10 281.5 226.85 281.5 226.85 277 226.35 277 226.35 275.5 225.60 275.5 225.60 276 224.35 276 224.35 278.5 224.10 278.5 224.10 279 223.35 279 223.35 279.5 222.85 279.5 222.85 279 222.10 279 222.10 278.5 221.85 278.5 221.85 277.5 221.10 277.5 221.10 277 220.85 277 220.85 276 219.60 276 219.60 275.5 218.10 275.5 218.10 275 217.35 275 217.35 278.5 217.10 278.5 217.10 279 215.10 279 215.10 278.5 214.85 278.5 214.85 275.5 214.10 275.5 214.10 276 212.85 276 212.85 276.5 212.10 276.5 212.10 281 211.85 281 211.85 281.5 211.60 281.5 211.60 282 209.85 282 209.85 281.5 209.60 281.5 209.60 276.5 208.85 276.5 208.85 276 208.35 276 208.35 278.5 207.85 278.5 207.85 279 207.35 279 207.35 281 206.85 281 206.85 281.5 205.35 281.5 205.35 281 205.10 281 205.10 280.5 204.85 280.5 204.85 278.5 204.35 278.5 204.35 278 204.10 278 204.10 277 203.85 277 203.85 277.5 203.60 277.5 203.60 278 202.10 278 202.10 279.5 201.60 279.5 201.60 280 200.35 280 200.35 279.5 199.85 279.5 199.85 279 199.60 279 199.60 277.5 198.35 277.5 198.35 278 197.10 278 197.10 277.5 196.60 277.5 196.60 276 195.60 276 195.60 275.5 195.35 275.5 195.35 277.5 194.85 277.5 194.85 278 193.60 278 193.60 277.5 193.10 277.5 193.10 277 192.85 277 192.85 275.5 191.85 275.5 191.85 275 191.60 275 191.60 275.5 191.35 275.5 191.35 276 190.60 276 190.60 276.5 189.85 276.5 189.85 279.5 189.35 279.5 189.35 280 187.60 280 187.60 279.5 187.35 279.5 187.35 277.5 187.10 277.5 187.10 278 186.60 278 186.60 278.5 185.60 278.5 185.60 278 184.60 278 184.60 278.5 183.35 278.5 183.35 278 182.85 278 182.85 277.5 182.60 277.5 182.60 275 180.85 275 180.85 274.5 179.85 274.5 179.85 276 179.60 276 179.60 276.5 178.85 276.5 178.85 277 178.10 277 178.10 276.5 177.60 276.5 177.60 276 177.35 276 177.35 275 176.60 275 176.60 277 176.35 277 176.35 277.5 175.85 277.5 175.85 278 174.85 278 174.85 278.5 172.85 278.5 172.85 278 172.60 278 172.60 276.5 172.35 276.5 172.35 275 171.85 275 171.85 274.5 170.85 274.5 170.85 275.5 170.60 275.5 170.60 276 170.10 276 170.10 276.5 169.10 276.5 169.10 276 168.60 276 168.60 275.5 168.35 275.5 168.35 274.5 168.10 274.5 168.10 275 167.10 275 167.10 275.5 161.60 275.5 161.60 277.5 161.35 277.5 161.35 278 159.60 278 159.60 277.5 159.35 277.5 159.35 279.5 158.85 279.5 158.85 280 157.10 280 157.10 279.5 156.85 279.5 156.85 277.5 155.85 277.5 155.85 278 154.10 278 154.10 277.5 153.85 277.5 153.85 277 153.60 277 153.60 276 153.35 276 153.35 277 153.10 277 153.10 277.5 152.35 277.5 152.35 278 151.60 278 151.60 278.5 148.60 278.5 148.60 278 148.35 278 148.35 277.5 148.10 277.5 148.10 278 146.85 278 146.85 277.5 146.35 277.5 146.35 277 145.60 277 145.60 276.5 145.35 276.5 145.35 276 145.10 276 145.10 275 144.85 275 144.85 276 144.60 276 144.60 276.5 144.35 276.5 144.35 277 142.85 277 142.85 276.5 142.35 276.5 142.35 275 140.10 275 140.10 275.5 139.35 275.5 139.35 278 139.10 278 139.10 278.5 138.85 278.5 138.85 279 137.10 279 137.10 278.5 136.85 278.5 136.85 277 135.85 277 135.85 278 134.60 278 134.60 283.5 134.35 283.5 134.35 284 132.60 284 132.60 283.5 132.35 283.5 132.35 283 132.10 283 132.10 279 131.10 279 131.10 279.5 129.85 279.5 129.85 279 129.35 279 129.35 279.5 129.10 279.5 129.10 280 127.10 280 127.10 280.5 126.60 280.5 126.60 281 125.35 281 125.35 280.5 124.85 280.5 124.85 279 124.35 279 124.35 278.5 124.10 278.5 124.10 277.5 123.10 277.5 123.10 278 122.35 278 122.35 284 121.85 284 121.85 284.5 121.10 284.5 121.10 285 120.85 285 120.85 285.5 118.85 285.5 118.85 285 118.60 285 118.60 276.5 117.35 276.5 117.35 276 117.10 276 117.10 274.5 115.60 274.5 115.60 275 114.35 275 114.35 275.5 113.60 275.5 113.60 275 112.60 275 112.60 278.5 112.35 278.5 112.35 279 111.60 279 111.60 279.5 110.85 279.5 110.85 279 110.10 279 110.10 278.5 108.85 278.5 108.85 278 108.60 278 108.60 275.5 106.85 275.5 106.85 276 106.60 276 106.60 276.5 106.10 276.5 106.10 277 105.35 277 105.35 276.5 104.60 276.5 104.60 276 104.35 276 104.35 275.5 103.85 275.5 103.85 276 102.85 276 102.85 275.5 102.35 275.5 102.35 275 102.10 275 102.10 274 101.60 274 101.60 275 101.10 275 101.10 275.5 99.35 275.5 99.35 275 99.10 275 99.10 274 98.85 274 98.85 275.5 98.60 275.5 98.60 276 98.10 276 98.10 279.5 97.85 279.5 97.85 280 95.85 280 95.85 279.5 95.60 279.5 95.60 274.5 95.10 274.5 95.10 279.5 94.85 279.5 94.85 280 93.10 280 93.10 279.5 92.60 279.5 92.60 278.5 91.35 278.5 91.35 278 90.85 278 90.85 274.5 89.60 274.5 89.60 274 89.10 274 89.10 275.5 88.60 275.5 88.60 276 87.10 276 87.10 275.5 86.60 275.5 86.60 280.5 86.10 280.5 86.10 281 84.60 281 84.60 280.5 84.10 280.5 84.10 281 83.85 281 83.85 281.5 82.10 281.5 82.10 281 81.60 281 81.60 277.5 81.35 277.5 81.35 278 79.85 278 79.85 277.5 79.35 277.5 79.35 275 78.85 275 78.85 274.5 77.85 274.5 77.85 277 77.60 277 77.60 277.5 75.85 277.5 75.85 277 75.60 277 75.60 276.5 75.35 276.5 75.35 275.5 75.10 275.5 75.10 276 74.85 276 74.85 276.5 74.60 276.5 74.60 277 73.10 277 73.10 276.5 72.60 276.5 72.60 276 72.35 276 72.35 276.5 71.10 276.5 71.10 276 70.60 276 70.60 275 69.85 275 69.85 275.5 69.35 275.5 69.35 277 69.10 277 69.10 277.5 68.85 277.5 68.85 279 68.60 279 68.60 279.5 67.85 279.5 67.85 280 67.35 280 67.35 279.5 66.60 279.5 66.60 279 65.10 279 65.10 278.5 64.85 278.5 64.85 278 64.35 278 64.35 277 64.10 277 64.10 280.5 63.60 280.5 63.60 281 62.35 281 62.35 280.5 61.85 280.5 61.85 280 61.60 280 61.60 275 60.60 275 60.60 278 60.35 278 60.35 278.5 59.85 278.5 59.85 279 58.85 279 58.85 278.5 58.35 278.5 58.35 278 58.10 278 58.10 277 57.85 277 57.85 276.5 57.35 276.5 57.35 277 56.85 277 56.85 277.5 54.35 277.5 54.35 277 53.85 277 53.85 277.5 51.85 277.5 51.85 277 51.60 277 51.60 275 51.10 275 51.10 282.5 50.35 282.5 50.35 283 49.60 283 49.60 282.5 48.85 282.5 48.85 282 48.60 282 48.60 278 48.35 278 48.35 277.5 48.10 277.5 48.10 277 47.85 277 47.85 276 47.60 276 47.60 277.5 47.10 277.5 47.10 278 45.35 278 45.35 277.5 45.10 277.5 45.10 277 44.35 277 44.35 277.5 44.10 277.5 44.10 278 43.60 278 43.60 278.5 42.35 278.5 42.35 278 41.85 278 41.85 277.5 41.60 277.5 41.60 277 41.10 277 41.10 276.5 40.85 276.5 40.85 275 40.60 275 40.60 275.5 38.60 275.5Z"/>
<g fill="#d3d3d3"><circle cx="75.2" cy="50.0" r="1.25"/><circle cx="75.0" cy="47.9" r="1.25"/><circle cx="74.9" cy="45.9" r="1.25"/><circle cx="258.6" cy="50.4" r="1.25"/><circle cx="283.3" cy="47.6" r="1.25"/><circle cx="282.9" cy="45.1" r="1.25"/><circle cx="313.1" cy="49.5" r="1.25"/><circle cx="312.8" cy="46.9" r="1.25"/><circle cx="326.3" cy="46.7" r="1.25"/><circle cx="326.2" cy="44.0" r="1.25"/><circle cx="326.4" cy="41.4" r="1.25"/><circle cx="406.3" cy="49.6" r="1.25"/><circle cx="406.4" cy="46.9" r="1.25"/><circle cx="406.6" cy="44.3" r="1.25"/><circle cx="411.4" cy="49.1" r="1.25"/><circle cx="411.1" cy="46.8" r="1.25"/><circle cx="412.4" cy="46.9" r="1.25"/><circle cx="412.2" cy="44.2" r="1.25"/><circle cx="529.0" cy="46.7" r="1.25"/><circle cx="528.9" cy="44.0" r="1.25"/><circle cx="539.6" cy="48.0" r="1.25"/><circle cx="539.2" cy="45.7" r="1.25"/><circle cx="559.9" cy="51.4" r="1.25"/><circle cx="569.8" cy="50.3" r="1.25"/><circle cx="606.7" cy="47.8" r="1.25"/><circle cx="624.5" cy="48.9" r="1.25"/><circle cx="624.2" cy="46.2" r="1.25"/><circle cx="626.3" cy="48.9" r="1.25"/><circle cx="626.4" cy="46.5" r="1.25"/><circle cx="41.7" cy="147.6" r="1.25"/><circle cx="41.7" cy="145.5" r="1.25"/><circle cx="56.6" cy="147.0" r="1.25"/><circle cx="73.1" cy="151.5" r="1.25"/><circle cx="73.1" cy="149.0" r="1.25"/><circle cx="81.4" cy="152.7" r="1.25"/><circle cx="81.5" cy="149.9" r="1.25"/><circle cx="92.5" cy="152.7" r="1.25"/><circle cx="94.4" cy="152.0" r="1.25"/><circle cx="94.5" cy="149.4" r="1.25"/><circle cx="100.0" cy="151.9" r="1.25"/><circle cx="114.2" cy="156.2" r="1.25"/><circle cx="114.2" cy="153.9" r="1.25"/><circle cx="115.0" cy="156.0" r="1.25"/><circle cx="115.3" cy="153.6" r="1.25"/><circle cx="125.2" cy="151.0" r="1.25"/><circle cx="129.9" cy="146.9" r="1.25"/><circle cx="129.8" cy="144.2" r="1.25"/><circle cx="134.8" cy="143.5" r="1.25"/><circle cx="134.8" cy="141.3" r="1.25"/><circle cx="136.5" cy="150.4" r="1.25"/><circle cx="136.6" cy="148.0" r="1.25"/><circle cx="154.3" cy="148.5" r="1.25"/><circle cx="166.6" cy="156.0" r="1.25"/><circle cx="181.2" cy="155.5" r="1.25"/><circle cx="181.6" cy="152.8" r="1.25"/><circle cx="192.9" cy="151.0" r="1.25"/><circle cx="203.2" cy="152.0" r="1.25"/><circle cx="207.6" cy="150.4" r="1.25"/><circle cx="207.5" cy="147.6" r="1.25"/><circle cx="213.6" cy="153.6" r="1.25"/><circle cx="218.9" cy="149.1" r="1.25"/><circle cx="232.1" cy="154.8" r="1.25"/><circle cx="231.6" cy="152.1" r="1.25"/><circle cx="231.9" cy="149.4" r="1.25"/><circle cx="234.6" cy="149.5" r="1.25"/><circle cx="234.2" cy="147.0" r="1.25"/><circle cx="235.1" cy="149.1" r="1.25"/><circle cx="235.2" cy="146.5" r="1.25"/><circle cx="234.9" cy="144.0" r="1.25"/><circle cx="249.1" cy="151.7" r="1.25"/><circle cx="249.1" cy="148.9" r="1.25"/><circle cx="249.1" cy="146.1" r="1.25"/><circle cx="287.4" cy="151.4" r="1.25"/><circle cx="299.8" cy="152.3" r="1.25"/><circle cx="305.7" cy="150.1" r="1.25"/><circle cx="305.7" cy="147.7" r="1.25"/><circle cx="308.4" cy="151.3" r="1.25"/><circle cx="324.7" cy="151.9" r="1.25"/><circle cx="325.2" cy="149.3" r="1.25"/><circle cx="336.5" cy="156.0" r="1.25"/><circle cx="336.2" cy="153.4" r="1.25"/><circle cx="336.8" cy="150.8" r="1.25"/><circle cx="350.8" cy="152.5" r="1.25"/><circle cx="350.4" cy="150.4" r="1.25"/><circle cx="354.6" cy="153.2" r="1.25"/><circle cx="354.4" cy="150.9" r="1.25"/><circle cx="354.6" cy="148.6" r="1.25"/><circle cx="369.3" cy="150.4" r="1.25"/><circle cx="369.5" cy="148.2" r="1.25"/><circle cx="369.6" cy="146.0" r="1.25"/><circle cx="375.8" cy="152.3" r="1.25"/><circle cx="375.7" cy="149.8" r="1.25"/><circle cx="375.6" cy="147.4" r="1.25"/><circle cx="376.3" cy="151.4" r="1.25"/><circle cx="376.6" cy="148.8" r="1.25"/><circle cx="376.5" cy="146.1" r="1.25"/><circle cx="376.9" cy="153.3" r="1.25"/><circle cx="376.7" cy="150.9" r="1.25"/><circle cx="379.9" cy="153.9" r="1.25"/><circle cx="379.5" cy="151.3" r="1.25"/><circle cx="417.3" cy="154.5" r="1.25"/><circle cx="417.2" cy="151.7" r="1.25"/><circle cx="420.3" cy="154.9" r="1.25"/><circle cx="419.9" cy="152.4" r="1.25"/><circle cx="420.0" cy="149.9" r="1.25"/><circle cx="442.3" cy="152.0" r="1.25"/><circle cx="442.4" cy="149.4" r="1.25"/><circle cx="442.8" cy="146.7" r="1.25"/><circle cx="442.3" cy="155.5" r="1.25"/><circle cx="447.2" cy="153.6" r="1.25"/><circle cx="457.5" cy="145.6" r="1.25"/><circle cx="457.8" cy="143.1" r="1.25"/><circle cx="473.9" cy="150.1" r="1.25"/><circle cx="473.5" cy="147.8" r="1.25"/><circle cx="473.6" cy="145.4" r="1.25"/><circle cx="475.3" cy="155.4" r="1.25"/><circle cx="486.2" cy="149.8" r="1.25"/><circle cx="502.4" cy="150.9" r="1.25"/><circle cx="502.3" cy="148.7" r="1.25"/><circle cx="505.4" cy="148.4" r="1.25"/><circle cx="505.5" cy="145.6" r="1.25"/><circle cx="509.0" cy="153.0" r="1.25"/><circle cx="508.8" cy="150.6" r="1.25"/><circle cx="509.0" cy="148.1" r="1.25"/><circle cx="512.9" cy="154.5" r="1.25"/><circle cx="583.3" cy="146.5" r="1.25"/><circle cx="582.9" cy="143.9" r="1.25"/><circle cx="584.0" cy="152.4" r="1.25"/><circle cx="584.0" cy="149.7" r="1.25"/><circle cx="583.9" cy="147.0" r="1.25"/><circle cx="586.8" cy="156.2" r="1.25"/><circle cx="629.9" cy="155.3" r="1.25"/><circle cx="630.2" cy="152.6" r="1.25"/><circle cx="635.2" cy="157.7" r="1.25"/><circle cx="635.1" cy="155.5" r="1.25"/><circle cx="635.2" cy="153.3" r="1.25"/><circle cx="645.3" cy="150.1" r="1.25"/><circle cx="645.3" cy="151.4" r="1.25"/><circle cx="645.1" cy="149.3" r="1.25"/><circle cx="645.2" cy="147.2" r="1.25"/><circle cx="648.3" cy="156.3" r="1.25"/><circle cx="648.6" cy="154.3" r="1.25"/><circle cx="654.4" cy="153.0" r="1.25"/><circle cx="659.4" cy="151.0" r="1.25"/><circle cx="659.6" cy="148.8" r="1.25"/><circle cx="660.2" cy="153.1" r="1.25"/><circle cx="660.2" cy="151.0" r="1.25"/><circle cx="42.6" cy="249.9" r="1.25"/><circle cx="42.7" cy="247.5" r="1.25"/><circle cx="42.5" cy="245.1" r="1.25"/><circle cx="45.2" cy="243.5" r="1.25"/><circle cx="45.4" cy="240.8" r="1.25"/><circle cx="45.2" cy="249.9" r="1.25"/><circle cx="45.0" cy="247.1" r="1.25"/><circle cx="45.4" cy="244.4" r="1.25"/><circle cx="47.7" cy="248.0" r="1.25"/><circle cx="47.9" cy="245.8" r="1.25"/><circle cx="47.8" cy="243.5" r="1.25"/><circle cx="51.7" cy="252.0" r="1.25"/><circle cx="51.5" cy="249.5" r="1.25"/><circle cx="51.6" cy="247.1" r="1.25"/><circle cx="55.5" cy="246.3" r="1.25"/><circle cx="59.2" cy="247.9" r="1.25"/><circle cx="62.9" cy="234.3" r="1.25"/><circle cx="63.0" cy="232.1" r="1.25"/><circle cx="64.3" cy="250.4" r="1.25"/><circle cx="63.9" cy="248.1" r="1.25"/><circle cx="65.6" cy="248.0" r="1.25"/><circle cx="70.9" cy="250.9" r="1.25"/><circle cx="70.9" cy="248.4" r="1.25"/><circle cx="70.9" cy="246.0" r="1.25"/><circle cx="73.3" cy="245.2" r="1.25"/><circle cx="73.3" cy="242.8" r="1.25"/><circle cx="75.3" cy="238.6" r="1.25"/><circle cx="75.2" cy="236.4" r="1.25"/><circle cx="75.4" cy="234.3" r="1.25"/><circle cx="77.8" cy="250.2" r="1.25"/><circle cx="77.9" cy="248.1" r="1.25"/><circle cx="78.2" cy="248.0" r="1.25"/><circle cx="78.4" cy="246.0" r="1.25"/><circle cx="78.7" cy="244.0" r="1.25"/><circle cx="88.0" cy="252.7" r="1.25"/><circle cx="88.0" cy="250.5" r="1.25"/><circle cx="88.3" cy="248.2" r="1.25"/><circle cx="88.3" cy="251.7" r="1.25"/><circle cx="88.2" cy="249.3" r="1.25"/><circle cx="88.2" cy="246.8" r="1.25"/><circle cx="90.6" cy="248.5" r="1.25"/><circle cx="90.6" cy="246.0" r="1.25"/><circle cx="90.7" cy="243.5" r="1.25"/><circle cx="91.1" cy="245.0" r="1.25"/><circle cx="91.4" cy="242.5" r="1.25"/><circle cx="91.5" cy="243.9" r="1.25"/><circle cx="94.7" cy="250.4" r="1.25"/><circle cx="95.2" cy="247.7" r="1.25"/><circle cx="95.3" cy="245.1" r="1.25"/><circle cx="100.4" cy="250.0" r="1.25"/><circle cx="117.8" cy="251.3" r="1.25"/><circle cx="117.8" cy="248.8" r="1.25"/><circle cx="119.1" cy="247.2" r="1.25"/><circle cx="125.1" cy="242.5" r="1.25"/><circle cx="128.2" cy="241.1" r="1.25"/><circle cx="130.9" cy="245.7" r="1.25"/><circle cx="138.0" cy="248.7" r="1.25"/><circle cx="139.2" cy="250.3" r="1.25"/><circle cx="139.2" cy="248.2" r="1.25"/><circle cx="144.6" cy="248.6" r="1.25"/><circle cx="144.4" cy="246.2" r="1.25"/><circle cx="144.6" cy="243.8" r="1.25"/><circle cx="147.8" cy="248.1" r="1.25"/><circle cx="147.6" cy="245.7" r="1.25"/><circle cx="149.7" cy="249.5" r="1.25"/><circle cx="149.4" cy="246.9" r="1.25"/><circle cx="150.0" cy="244.3" r="1.25"/><circle cx="151.8" cy="250.7" r="1.25"/><circle cx="161.3" cy="249.2" r="1.25"/><circle cx="162.3" cy="249.3" r="1.25"/><circle cx="162.2" cy="246.9" r="1.25"/><circle cx="162.5" cy="247.8" r="1.25"/><circle cx="163.5" cy="251.8" r="1.25"/><circle cx="163.9" cy="249.6" r="1.25"/><circle cx="164.8" cy="250.5" r="1.25"/><circle cx="165.2" cy="247.9" r="1.25"/><circle cx="169.3" cy="247.8" r="1.25"/><circle cx="169.2" cy="245.6" r="1.25"/><circle cx="172.5" cy="239.1" r="1.25"/><circle cx="172.9" cy="236.4" r="1.25"/><circle cx="172.5" cy="233.7" r="1.25"/><circle cx="172.6" cy="250.6" r="1.25"/><circle cx="172.5" cy="248.0" r="1.25"/><circle cx="172.6" cy="245.4" r="1.25"/><circle cx="174.1" cy="245.3" r="1.25"/><circle cx="173.9" cy="242.6" r="1.25"/><circle cx="177.3" cy="249.8" r="1.25"/><circle cx="176.8" cy="247.4" r="1.25"/><circle cx="181.5" cy="249.0" r="1.25"/><circle cx="181.4" cy="246.2" r="1.25"/><circle cx="181.3" cy="243.4" r="1.25"/><circle cx="182.3" cy="251.2" r="1.25"/><circle cx="181.9" cy="248.9" r="1.25"/><circle cx="182.2" cy="246.5" r="1.25"/><circle cx="186.5" cy="252.2" r="1.25"/><circle cx="186.2" cy="249.4" r="1.25"/><circle cx="187.3" cy="252.2" r="1.25"/><circle cx="188.4" cy="248.4" r="1.25"/><circle cx="190.4" cy="250.4" r="1.25"/><circle cx="190.6" cy="248.0" r="1.25"/><circle cx="191.1" cy="251.0" r="1.25"/><circle cx="191.5" cy="248.9" r="1.25"/><circle cx="202.1" cy="240.6" r="1.25"/><circle cx="201.8" cy="250.6" r="1.25"/><circle cx="201.7" cy="248.1" r="1.25"/><circle cx="204.7" cy="245.2" r="1.25"/><circle cx="204.3" cy="243.1" r="1.25"/><circle cx="204.3" cy="241.1" r="1.25"/><circle cx="210.8" cy="250.8" r="1.25"/><circle cx="211.5" cy="250.5" r="1.25"/><circle cx="211.5" cy="248.2" r="1.25"/><circle cx="211.5" cy="246.0" r="1.25"/><circle cx="214.4" cy="250.5" r="1.25"/><circle cx="215.3" cy="252.7" r="1.25"/><circle cx="215.5" cy="249.9" r="1.25"/><circle cx="219.7" cy="251.7" r="1.25"/><circle cx="219.9" cy="249.2" r="1.25"/><circle cx="220.0" cy="246.7" r="1.25"/><circle cx="227.7" cy="247.5" r="1.25"/><circle cx="227.4" cy="245.4" r="1.25"/><circle cx="227.7" cy="243.4" r="1.25"/><circle cx="227.5" cy="253.1" r="1.25"/><circle cx="230.8" cy="250.1" r="1.25"/><circle cx="230.5" cy="247.4" r="1.25"/><circle cx="231.2" cy="246.7" r="1.25"/><circle cx="231.9" cy="249.8" r="1.25"/><circle cx="232.1" cy="247.1" r="1.25"/><circle cx="232.3" cy="244.3" r="1.25"/><circle cx="234.0" cy="250.3" r="1.25"/><circle cx="233.7" cy="248.0" r="1.25"/><circle cx="233.8" cy="245.6" r="1.25"/><circle cx="233.8" cy="249.5" r="1.25"/><circle cx="243.9" cy="249.0" r="1.25"/><circle cx="244.4" cy="246.4" r="1.25"/><circle cx="250.9" cy="252.2" r="1.25"/><circle cx="251.4" cy="249.8" r="1.25"/><circle cx="255.0" cy="249.6" r="1.25"/><circle cx="256.9" cy="248.9" r="1.25"/><circle cx="262.0" cy="248.2" r="1.25"/><circle cx="281.6" cy="251.7" r="1.25"/><circle cx="281.7" cy="246.7" r="1.25"/><circle cx="281.8" cy="247.7" r="1.25"/><circle cx="281.8" cy="245.2" r="1.25"/><circle cx="282.1" cy="242.8" r="1.25"/><circle cx="282.8" cy="239.3" r="1.25"/><circle cx="282.7" cy="236.8" r="1.25"/><circle cx="284.5" cy="247.3" r="1.25"/><circle cx="284.8" cy="244.8" r="1.25"/><circle cx="284.5" cy="242.3" r="1.25"/><circle cx="285.0" cy="242.6" r="1.25"/><circle cx="285.2" cy="240.4" r="1.25"/><circle cx="285.0" cy="238.1" r="1.25"/><circle cx="286.9" cy="250.7" r="1.25"/><circle cx="286.8" cy="248.2" r="1.25"/><circle cx="288.2" cy="246.4" r="1.25"/><circle cx="288.3" cy="244.4" r="1.25"/><circle cx="291.9" cy="245.6" r="1.25"/><circle cx="299.9" cy="251.8" r="1.25"/><circle cx="299.8" cy="249.1" r="1.25"/><circle cx="302.5" cy="244.4" r="1.25"/><circle cx="303.0" cy="242.2" r="1.25"/><circle cx="308.8" cy="250.4" r="1.25"/><circle cx="310.2" cy="248.2" r="1.25"/><circle cx="310.0" cy="245.5" r="1.25"/><circle cx="311.5" cy="247.3" r="1.25"/><circle cx="311.1" cy="244.6" r="1.25"/><circle cx="311.2" cy="244.4" r="1.25"/><circle cx="311.5" cy="241.9" r="1.25"/><circle cx="311.4" cy="239.4" r="1.25"/><circle cx="312.5" cy="245.1" r="1.25"/><circle cx="312.4" cy="248.9" r="1.25"/><circle cx="312.3" cy="246.9" r="1.25"/><circle cx="319.4" cy="251.3" r="1.25"/><circle cx="319.1" cy="248.9" r="1.25"/><circle cx="319.4" cy="248.3" r="1.25"/><circle cx="319.1" cy="245.7" r="1.25"/><circle cx="319.0" cy="243.0" r="1.25"/><circle cx="326.9" cy="251.8" r="1.25"/><circle cx="332.9" cy="250.4" r="1.25"/><circle cx="332.9" cy="247.8" r="1.25"/><circle cx="332.9" cy="245.2" r="1.25"/><circle cx="333.5" cy="247.9" r="1.25"/><circle cx="333.5" cy="245.8" r="1.25"/><circle cx="333.4" cy="243.6" r="1.25"/><circle cx="335.4" cy="243.7" r="1.25"/><circle cx="335.0" cy="241.7" r="1.25"/><circle cx="335.1" cy="239.7" r="1.25"/><circle cx="336.2" cy="251.4" r="1.25"/><circle cx="336.7" cy="251.1" r="1.25"/><circle cx="350.2" cy="238.5" r="1.25"/><circle cx="350.1" cy="236.4" r="1.25"/><circle cx="363.0" cy="252.0" r="1.25"/><circle cx="363.3" cy="249.9" r="1.25"/><circle cx="363.9" cy="249.0" r="1.25"/><circle cx="364.1" cy="246.4" r="1.25"/><circle cx="368.0" cy="247.6" r="1.25"/><circle cx="367.9" cy="245.3" r="1.25"/><circle cx="367.6" cy="243.1" r="1.25"/><circle cx="378.5" cy="250.2" r="1.25"/><circle cx="378.4" cy="247.5" r="1.25"/><circle cx="379.0" cy="245.9" r="1.25"/><circle cx="379.0" cy="243.3" r="1.25"/><circle cx="380.1" cy="248.5" r="1.25"/><circle cx="380.8" cy="243.5" r="1.25"/><circle cx="380.5" cy="241.0" r="1.25"/><circle cx="380.4" cy="238.5" r="1.25"/><circle cx="380.8" cy="247.9" r="1.25"/><circle cx="382.6" cy="252.6" r="1.25"/><circle cx="382.8" cy="250.2" r="1.25"/><circle cx="385.9" cy="237.5" r="1.25"/><circle cx="386.0" cy="234.7" r="1.25"/><circle cx="388.3" cy="244.2" r="1.25"/><circle cx="388.5" cy="241.7" r="1.25"/><circle cx="388.3" cy="239.1" r="1.25"/><circle cx="395.3" cy="248.8" r="1.25"/><circle cx="400.1" cy="248.4" r="1.25"/><circle cx="405.0" cy="249.0" r="1.25"/><circle cx="405.3" cy="246.4" r="1.25"/><circle cx="405.2" cy="248.2" r="1.25"/><circle cx="409.2" cy="251.7" r="1.25"/><circle cx="408.8" cy="249.4" r="1.25"/><circle cx="408.7" cy="247.1" r="1.25"/><circle cx="415.7" cy="246.9" r="1.25"/><circle cx="416.2" cy="244.9" r="1.25"/><circle cx="415.7" cy="242.8" r="1.25"/><circle cx="418.9" cy="249.7" r="1.25"/><circle cx="425.1" cy="247.5" r="1.25"/><circle cx="424.8" cy="245.5" r="1.25"/><circle cx="425.7" cy="247.5" r="1.25"/><circle cx="426.1" cy="244.7" r="1.25"/><circle cx="430.2" cy="247.3" r="1.25"/><circle cx="431.0" cy="251.8" r="1.25"/><circle cx="431.2" cy="251.8" r="1.25"/><circle cx="431.0" cy="249.1" r="1.25"/><circle cx="433.5" cy="245.2" r="1.25"/><circle cx="437.6" cy="247.4" r="1.25"/><circle cx="442.5" cy="251.0" r="1.25"/><circle cx="445.0" cy="250.6" r="1.25"/><circle cx="445.1" cy="248.0" r="1.25"/><circle cx="449.2" cy="250.3" r="1.25"/><circle cx="449.2" cy="247.7" r="1.25"/><circle cx="450.6" cy="251.3" r="1.25"/><circle cx="450.7" cy="249.3" r="1.25"/><circle cx="450.9" cy="247.2" r="1.25"/><circle cx="453.2" cy="249.6" r="1.25"/><circle cx="465.1" cy="251.9" r="1.25"/><circle cx="464.9" cy="249.2" r="1.25"/><circle cx="465.8" cy="252.9" r="1.25"/><circle cx="468.2" cy="248.2" r="1.25"/><circle cx="468.3" cy="245.7" r="1.25"/><circle cx="477.4" cy="245.0" r="1.25"/><circle cx="487.6" cy="254.3" r="1.25"/><circle cx="487.5" cy="252.3" r="1.25"/><circle cx="487.8" cy="245.8" r="1.25"/><circle cx="487.6" cy="243.4" r="1.25"/><circle cx="488.4" cy="253.9" r="1.25"/><circle cx="493.8" cy="251.8" r="1.25"/><circle cx="500.8" cy="250.9" r="1.25"/><circle cx="505.0" cy="251.3" r="1.25"/><circle cx="505.4" cy="248.7" r="1.25"/><circle cx="553.6" cy="253.1" r="1.25"/><circle cx="553.2" cy="250.6" r="1.25"/><circle cx="578.3" cy="250.9" r="1.25"/><circle cx="578.3" cy="248.8" r="1.25"/><circle cx="582.0" cy="248.1" r="1.25"/><circle cx="582.1" cy="246.1" r="1.25"/><circle cx="592.9" cy="243.9" r="1.25"/><circle cx="598.3" cy="246.0" r="1.25"/><circle cx="598.8" cy="243.4" r="1.25"/><circle cx="600.2" cy="246.1" r="1.25"/><circle cx="600.0" cy="243.8" r="1.25"/><circle cx="600.1" cy="241.4" r="1.25"/><circle cx="601.1" cy="248.0" r="1.25"/><circle cx="601.5" cy="245.6" r="1.25"/><circle cx="605.5" cy="246.7" r="1.25"/><circle cx="605.7" cy="244.4" r="1.25"/><circle cx="612.0" cy="249.6" r="1.25"/><circle cx="613.1" cy="247.7" r="1.25"/><circle cx="617.5" cy="249.1" r="1.25"/><circle cx="621.1" cy="242.8" r="1.25"/><circle cx="623.2" cy="249.0" r="1.25"/><circle cx="623.5" cy="246.5" r="1.25"/><circle cx="625.7" cy="249.1" r="1.25"/><circle cx="625.6" cy="247.1" r="1.25"/><circle cx="625.7" cy="245.0" r="1.25"/><circle cx="629.5" cy="239.9" r="1.25"/><circle cx="629.7" cy="237.3" r="1.25"/><circle cx="636.3" cy="247.5" r="1.25"/><circle cx="636.2" cy="250.6" r="1.25"/><circle cx="636.1" cy="248.6" r="1.25"/><circle cx="636.4" cy="246.5" r="1.25"/><circle cx="647.9" cy="252.9" r="1.25"/><circle cx="652.8" cy="245.4" r="1.25"/><circle cx="652.6" cy="243.4" r="1.25"/><circle cx="652.4" cy="241.4" r="1.25"/><circle cx="654.9" cy="247.9" r="1.25"/><circle cx="655.1" cy="245.2" r="1.25"/><circle cx="655.0" cy="242.5" r="1.25"/><circle cx="657.3" cy="249.8" r="1.25"/><circle cx="658.5" cy="246.3" r="1.25"/><circle cx="658.5" cy="243.5" r="1.25"/><circle cx="658.3" cy="240.8" r="1.25"/></g>
<path fill="#d3d3d3" d="M447 259 L449 252 L451 249 L452.5 244 L454 241 L455.5 237 L456.5 234 L457.6 233 L458 233.5 L458 260 Z"/>
<g fill="#d3d3d3"><circle cx="69.8" cy="47.5" r="1.15"/><circle cx="69.8" cy="49.4" r="1.15"/><circle cx="69.8" cy="51.2" r="1.15"/><circle cx="69.8" cy="53.1" r="1.15"/><circle cx="69.8" cy="55.0" r="1.15"/><circle cx="130.1" cy="47.5" r="1.15"/><circle cx="130.1" cy="49.7" r="1.15"/><circle cx="130.1" cy="51.8" r="1.15"/><circle cx="130.1" cy="54.0" r="1.15"/><circle cx="155.1" cy="47.5" r="1.15"/><circle cx="155.1" cy="49.7" r="1.15"/><circle cx="155.1" cy="51.8" r="1.15"/><circle cx="155.1" cy="54.0" r="1.15"/><circle cx="224.8" cy="47.0" r="1.15"/><circle cx="224.8" cy="49.0" r="1.15"/><circle cx="224.8" cy="51.0" r="1.15"/><circle cx="224.8" cy="53.0" r="1.15"/><circle cx="233.9" cy="48.0" r="1.15"/><circle cx="233.9" cy="50.0" r="1.15"/><circle cx="233.9" cy="52.0" r="1.15"/><circle cx="233.9" cy="54.0" r="1.15"/><circle cx="356.6" cy="48.0" r="1.15"/><circle cx="356.6" cy="50.0" r="1.15"/><circle cx="356.6" cy="52.0" r="1.15"/><circle cx="356.6" cy="54.0" r="1.15"/><circle cx="413.5" cy="46.8" r="1.15"/><circle cx="413.5" cy="48.5" r="1.15"/><circle cx="413.5" cy="50.3" r="1.15"/><circle cx="413.5" cy="52.0" r="1.15"/><circle cx="581.9" cy="46.3" r="1.15"/><circle cx="581.9" cy="48.0" r="1.15"/><circle cx="581.9" cy="49.6" r="1.15"/><circle cx="581.9" cy="51.3" r="1.15"/><circle cx="581.9" cy="53.0" r="1.15"/><circle cx="594.4" cy="47.0" r="1.15"/><circle cx="594.4" cy="49.0" r="1.15"/><circle cx="594.4" cy="51.0" r="1.15"/><circle cx="594.4" cy="53.0" r="1.15"/><circle cx="640.3" cy="46.5" r="1.15"/><circle cx="640.3" cy="48.7" r="1.15"/><circle cx="640.3" cy="50.8" r="1.15"/><circle cx="640.3" cy="53.0" r="1.15"/><circle cx="652.8" cy="47.5" r="1.15"/><circle cx="652.8" cy="49.7" r="1.15"/><circle cx="652.8" cy="51.8" r="1.15"/><circle cx="652.8" cy="54.0" r="1.15"/><circle cx="122.6" cy="47.0" r="1.15"/><circle cx="122.6" cy="48.7" r="1.15"/><circle cx="122.6" cy="50.3" r="1.15"/><circle cx="122.6" cy="52.0" r="1.15"/><circle cx="52.1" cy="150.5" r="1.15"/><circle cx="52.1" cy="152.4" r="1.15"/><circle cx="52.1" cy="154.2" r="1.15"/><circle cx="52.1" cy="156.1" r="1.15"/><circle cx="52.1" cy="158.0" r="1.15"/><circle cx="61.3" cy="148.0" r="1.15"/><circle cx="61.3" cy="150.0" r="1.15"/><circle cx="61.3" cy="152.0" r="1.15"/><circle cx="61.3" cy="154.0" r="1.15"/><circle cx="61.3" cy="156.0" r="1.15"/><circle cx="69.0" cy="147.5" r="1.15"/><circle cx="69.0" cy="149.6" r="1.15"/><circle cx="69.0" cy="151.8" r="1.15"/><circle cx="69.0" cy="153.9" r="1.15"/><circle cx="69.0" cy="156.0" r="1.15"/><circle cx="82.2" cy="147.0" r="1.15"/><circle cx="82.2" cy="148.8" r="1.15"/><circle cx="82.2" cy="150.6" r="1.15"/><circle cx="82.2" cy="152.4" r="1.15"/><circle cx="82.2" cy="154.2" r="1.15"/><circle cx="82.2" cy="156.0" r="1.15"/><circle cx="91.2" cy="145.5" r="1.15"/><circle cx="91.2" cy="147.2" r="1.15"/><circle cx="91.2" cy="149.0" r="1.15"/><circle cx="91.2" cy="150.8" r="1.15"/><circle cx="91.2" cy="152.5" r="1.15"/><circle cx="91.2" cy="154.2" r="1.15"/><circle cx="91.2" cy="156.0" r="1.15"/><circle cx="102.9" cy="148.0" r="1.15"/><circle cx="102.9" cy="150.0" r="1.15"/><circle cx="102.9" cy="152.0" r="1.15"/><circle cx="102.9" cy="154.0" r="1.15"/><circle cx="102.9" cy="156.0" r="1.15"/><circle cx="119.5" cy="147.0" r="1.15"/><circle cx="119.5" cy="148.8" r="1.15"/><circle cx="119.5" cy="150.5" r="1.15"/><circle cx="119.5" cy="152.2" r="1.15"/><circle cx="119.5" cy="154.0" r="1.15"/><circle cx="175.8" cy="148.5" r="1.15"/><circle cx="175.8" cy="150.6" r="1.15"/><circle cx="175.8" cy="152.8" r="1.15"/><circle cx="175.8" cy="154.9" r="1.15"/><circle cx="175.8" cy="157.0" r="1.15"/><circle cx="190.9" cy="146.8" r="1.15"/><circle cx="190.9" cy="148.6" r="1.15"/><circle cx="190.9" cy="150.5" r="1.15"/><circle cx="190.9" cy="152.3" r="1.15"/><circle cx="190.9" cy="154.2" r="1.15"/><circle cx="190.9" cy="156.0" r="1.15"/><circle cx="213.4" cy="147.3" r="1.15"/><circle cx="213.4" cy="149.1" r="1.15"/><circle cx="213.4" cy="150.9" r="1.15"/><circle cx="213.4" cy="152.7" r="1.15"/><circle cx="213.4" cy="154.4" r="1.15"/><circle cx="213.4" cy="156.2" r="1.15"/><circle cx="213.4" cy="158.0" r="1.15"/><circle cx="299.4" cy="147.5" r="1.15"/><circle cx="299.4" cy="149.4" r="1.15"/><circle cx="299.4" cy="151.3" r="1.15"/><circle cx="299.4" cy="153.2" r="1.15"/><circle cx="299.4" cy="155.1" r="1.15"/><circle cx="299.4" cy="157.0" r="1.15"/><circle cx="310.3" cy="147.5" r="1.15"/><circle cx="310.3" cy="149.4" r="1.15"/><circle cx="310.3" cy="151.3" r="1.15"/><circle cx="310.3" cy="153.2" r="1.15"/><circle cx="310.3" cy="155.1" r="1.15"/><circle cx="310.3" cy="157.0" r="1.15"/><circle cx="318.1" cy="143.5" r="1.15"/><circle cx="318.1" cy="145.4" r="1.15"/><circle cx="318.1" cy="147.4" r="1.15"/><circle cx="318.1" cy="149.3" r="1.15"/><circle cx="318.1" cy="151.2" r="1.15"/><circle cx="318.1" cy="153.1" r="1.15"/><circle cx="318.1" cy="155.1" r="1.15"/><circle cx="318.1" cy="157.0" r="1.15"/><circle cx="356.3" cy="148.5" r="1.15"/><circle cx="356.3" cy="150.4" r="1.15"/><circle cx="356.3" cy="152.2" r="1.15"/><circle cx="356.3" cy="154.1" r="1.15"/><circle cx="356.3" cy="156.0" r="1.15"/><circle cx="371.6" cy="150.5" r="1.15"/><circle cx="371.6" cy="152.7" r="1.15"/><circle cx="371.6" cy="154.8" r="1.15"/><circle cx="371.6" cy="157.0" r="1.15"/><circle cx="425.5" cy="148.5" r="1.15"/><circle cx="425.5" cy="150.6" r="1.15"/><circle cx="425.5" cy="152.8" r="1.15"/><circle cx="425.5" cy="154.9" r="1.15"/><circle cx="425.5" cy="157.0" r="1.15"/><circle cx="492.7" cy="148.7" r="1.15"/><circle cx="492.7" cy="150.8" r="1.15"/><circle cx="492.7" cy="152.8" r="1.15"/><circle cx="492.7" cy="154.9" r="1.15"/><circle cx="492.7" cy="157.0" r="1.15"/><circle cx="590.5" cy="146.0" r="1.15"/><circle cx="590.5" cy="148.0" r="1.15"/><circle cx="590.5" cy="150.0" r="1.15"/><circle cx="590.5" cy="152.0" r="1.15"/><circle cx="590.5" cy="154.0" r="1.15"/><circle cx="590.5" cy="156.0" r="1.15"/><circle cx="594.8" cy="150.5" r="1.15"/><circle cx="594.8" cy="152.7" r="1.15"/><circle cx="594.8" cy="154.8" r="1.15"/><circle cx="594.8" cy="157.0" r="1.15"/><circle cx="616.2" cy="149.0" r="1.15"/><circle cx="616.2" cy="151.0" r="1.15"/><circle cx="616.2" cy="153.0" r="1.15"/><circle cx="616.2" cy="155.0" r="1.15"/><circle cx="616.2" cy="157.0" r="1.15"/><circle cx="646.6" cy="146.0" r="1.15"/><circle cx="646.6" cy="148.0" r="1.15"/><circle cx="646.6" cy="150.0" r="1.15"/><circle cx="646.6" cy="152.0" r="1.15"/><circle cx="646.6" cy="154.0" r="1.15"/><circle cx="646.6" cy="156.0" r="1.15"/><circle cx="649.5" cy="149.0" r="1.15"/><circle cx="649.5" cy="151.0" r="1.15"/><circle cx="649.5" cy="153.0" r="1.15"/><circle cx="649.5" cy="155.0" r="1.15"/><circle cx="649.5" cy="157.0" r="1.15"/><circle cx="404.4" cy="230.5" r="1.15"/><circle cx="404.4" cy="232.3" r="1.15"/><circle cx="404.4" cy="234.2" r="1.15"/><circle cx="404.4" cy="236.0" r="1.15"/><circle cx="404.4" cy="237.8" r="1.15"/><circle cx="404.4" cy="239.7" r="1.15"/><circle cx="404.4" cy="241.5" r="1.15"/><circle cx="404.4" cy="243.3" r="1.15"/><circle cx="404.4" cy="245.2" r="1.15"/><circle cx="404.4" cy="247.0" r="1.15"/><circle cx="412.9" cy="230.5" r="1.15"/><circle cx="412.9" cy="232.4" r="1.15"/><circle cx="412.9" cy="234.4" r="1.15"/><circle cx="412.9" cy="236.3" r="1.15"/><circle cx="412.9" cy="238.3" r="1.15"/><circle cx="412.9" cy="240.2" r="1.15"/><circle cx="412.9" cy="242.2" r="1.15"/><circle cx="412.9" cy="244.2" r="1.15"/><circle cx="412.9" cy="246.1" r="1.15"/><circle cx="412.9" cy="248.1" r="1.15"/><circle cx="412.9" cy="250.0" r="1.15"/><circle cx="61.3" cy="229.7" r="1.15"/><circle cx="61.3" cy="231.5" r="1.15"/><circle cx="61.3" cy="233.3" r="1.15"/><circle cx="61.3" cy="235.1" r="1.15"/><circle cx="61.3" cy="236.8" r="1.15"/><circle cx="61.3" cy="238.6" r="1.15"/><circle cx="61.3" cy="240.4" r="1.15"/><circle cx="61.3" cy="242.2" r="1.15"/><circle cx="61.3" cy="244.0" r="1.15"/><circle cx="52.2" cy="231.7" r="1.15"/><circle cx="52.2" cy="234.3" r="1.15"/><circle cx="52.2" cy="236.9" r="1.15"/><circle cx="52.2" cy="239.5" r="1.15"/><circle cx="52.2" cy="242.1" r="1.15"/><circle cx="52.2" cy="244.7" r="1.15"/><circle cx="52.2" cy="247.3" r="1.15"/><circle cx="52.2" cy="249.9" r="1.15"/><circle cx="82.0" cy="228.5" r="1.15"/><circle cx="82.0" cy="231.1" r="1.15"/><circle cx="82.0" cy="233.7" r="1.15"/><circle cx="82.0" cy="236.3" r="1.15"/><circle cx="82.0" cy="238.9" r="1.15"/><circle cx="82.0" cy="241.5" r="1.15"/><circle cx="82.0" cy="244.1" r="1.15"/><circle cx="61.3" cy="235.6" r="1.15"/><circle cx="61.3" cy="237.6" r="1.15"/><circle cx="61.3" cy="239.6" r="1.15"/><circle cx="72.6" cy="239.5" r="1.15"/><circle cx="72.6" cy="242.1" r="1.15"/><circle cx="72.6" cy="244.7" r="1.15"/><circle cx="72.6" cy="247.3" r="1.15"/><circle cx="590.4" cy="228.6" r="1.15"/><circle cx="590.4" cy="231.0" r="1.15"/><circle cx="590.4" cy="233.4" r="1.15"/><circle cx="590.4" cy="235.8" r="1.15"/><circle cx="590.4" cy="238.2" r="1.15"/><circle cx="590.4" cy="240.6" r="1.15"/><circle cx="590.4" cy="243.0" r="1.15"/><circle cx="590.4" cy="245.4" r="1.15"/><circle cx="590.4" cy="247.8" r="1.15"/><circle cx="594.6" cy="230.5" r="1.15"/><circle cx="594.6" cy="232.9" r="1.15"/><circle cx="594.6" cy="235.3" r="1.15"/><circle cx="594.6" cy="237.7" r="1.15"/><circle cx="594.6" cy="240.1" r="1.15"/><circle cx="594.6" cy="242.5" r="1.15"/><circle cx="594.6" cy="244.9" r="1.15"/><circle cx="594.6" cy="247.3" r="1.15"/><circle cx="594.6" cy="249.7" r="1.15"/><circle cx="616.3" cy="232.5" r="1.15"/><circle cx="616.3" cy="237.1" r="1.15"/><circle cx="616.3" cy="241.7" r="1.15"/><circle cx="620.4" cy="232.5" r="1.15"/><circle cx="620.4" cy="238.3" r="1.15"/><circle cx="371.5" cy="231.0" r="1.15"/><circle cx="371.5" cy="233.0" r="1.15"/><circle cx="371.5" cy="235.0" r="1.15"/><circle cx="371.5" cy="237.0" r="1.15"/><circle cx="371.5" cy="239.0" r="1.15"/><circle cx="371.5" cy="241.0" r="1.15"/><circle cx="635.0" cy="243.6" r="1.15"/><circle cx="635.0" cy="246.0" r="1.15"/><circle cx="635.0" cy="248.4" r="1.15"/><circle cx="635.0" cy="250.8" r="1.15"/><circle cx="635.0" cy="253.2" r="1.15"/><circle cx="635.0" cy="255.6" r="1.15"/><circle cx="646.7" cy="231.5" r="1.15"/><circle cx="646.7" cy="233.9" r="1.15"/><circle cx="646.7" cy="236.3" r="1.15"/><circle cx="646.7" cy="238.7" r="1.15"/><circle cx="646.7" cy="241.1" r="1.15"/><circle cx="646.7" cy="243.5" r="1.15"/><circle cx="646.7" cy="245.9" r="1.15"/><circle cx="646.7" cy="248.3" r="1.15"/><circle cx="646.7" cy="250.7" r="1.15"/><circle cx="654.0" cy="233.7" r="1.15"/><circle cx="654.0" cy="236.1" r="1.15"/><circle cx="654.0" cy="238.5" r="1.15"/><circle cx="654.0" cy="240.9" r="1.15"/><circle cx="654.0" cy="243.3" r="1.15"/><circle cx="654.0" cy="245.7" r="1.15"/><circle cx="654.0" cy="248.1" r="1.15"/><circle cx="654.0" cy="250.5" r="1.15"/><circle cx="599.4" cy="242.5" r="1.15"/><circle cx="599.4" cy="244.7" r="1.15"/><circle cx="599.4" cy="246.9" r="1.15"/><circle cx="599.4" cy="249.1" r="1.15"/><circle cx="599.4" cy="251.3" r="1.15"/><circle cx="607.0" cy="242.5" r="1.15"/><circle cx="607.0" cy="244.7" r="1.15"/><circle cx="607.0" cy="246.9" r="1.15"/><circle cx="607.0" cy="249.1" r="1.15"/><circle cx="607.0" cy="251.3" r="1.15"/></g>
<path fill="#000" d="M261.3 147.4 L261.3 112 Q261.6 111 262.6 111.2 L263.4 110.8 L263.8 108.2 Q264.6 107 266 107.3 L267.4 106.8 Q268.6 105.7 269.8 106 L271.2 105.9 L272.6 106.7 L273.3 105.4 Q273.9 103.7 274.9 103.9 Q275.9 104.3 276 105.6 L276 147.4 Q272 148.2 268 147.4 Q264 148.3 261.3 147.4 Z"/>
<g fill="#555"><circle cx="268.4" cy="140.7" r="0.6"/><circle cx="268.9" cy="145" r="0.7"/></g>
<rect x="369.2" y="134.7" width="5.0" height="14.9" rx="2.4" fill="#3e68db"/>
<rect x="369.1" y="206.0" width="5.2" height="24.8" rx="2.5" fill="#3e68db"/>
<g fill="#000"><circle cx="69.8" cy="35.7" r="1.3"/><circle cx="69.8" cy="37.5" r="1.3"/><circle cx="69.8" cy="42.9" r="1.3"/><circle cx="69.8" cy="44.2" r="1.3"/><circle cx="69.8" cy="45.4" r="1.3"/><circle cx="122.6" cy="45.2" r="1.3"/><circle cx="130.1" cy="42.5" r="1.3"/><circle cx="130.1" cy="44.0" r="1.3"/><circle cx="130.1" cy="45.5" r="1.3"/><circle cx="155.1" cy="43.5" r="1.3"/><circle cx="155.1" cy="45.5" r="1.3"/><circle cx="224.8" cy="45.1" r="1.3"/><circle cx="233.9" cy="46.0" r="1.3"/><circle cx="356.6" cy="3.3" r="1.3"/><circle cx="356.6" cy="4.6" r="1.3"/><circle cx="356.6" cy="8.4" r="1.3"/><circle cx="356.6" cy="9.8" r="1.3"/><circle cx="356.6" cy="11.3" r="1.3"/><circle cx="356.6" cy="15.4" r="1.3"/><circle cx="356.6" cy="16.8" r="1.3"/><circle cx="356.6" cy="18.2" r="1.3"/><circle cx="356.6" cy="19.7" r="1.3"/><circle cx="356.6" cy="21.1" r="1.3"/><circle cx="356.6" cy="26.4" r="1.3"/><circle cx="356.6" cy="28.0" r="1.3"/><circle cx="356.6" cy="29.5" r="1.3"/><circle cx="356.6" cy="31.1" r="1.3"/><circle cx="356.6" cy="32.7" r="1.3"/><circle cx="356.6" cy="34.2" r="1.3"/><circle cx="356.6" cy="35.8" r="1.3"/><circle cx="356.6" cy="37.4" r="1.3"/><circle cx="356.6" cy="38.9" r="1.3"/><circle cx="356.6" cy="40.5" r="1.3"/><circle cx="356.6" cy="45.1" r="1.3"/><circle cx="413.5" cy="24.6" r="1.3"/><circle cx="413.5" cy="26.3" r="1.3"/><circle cx="413.5" cy="28.0" r="1.3"/><circle cx="413.5" cy="32.6" r="1.3"/><circle cx="413.5" cy="37.8" r="1.3"/><circle cx="413.5" cy="41.6" r="1.3"/><circle cx="413.5" cy="42.8" r="1.3"/><circle cx="413.5" cy="44.0" r="1.3"/><circle cx="581.9" cy="35.2" r="1.3"/><circle cx="581.9" cy="38.9" r="1.3"/><circle cx="581.9" cy="41.9" r="1.3"/><circle cx="581.9" cy="44.6" r="1.3"/><circle cx="594.4" cy="37.2" r="1.3"/><circle cx="594.4" cy="39.0" r="1.3"/><circle cx="594.4" cy="40.8" r="1.3"/><circle cx="594.4" cy="42.6" r="1.3"/><circle cx="594.4" cy="44.4" r="1.3"/><circle cx="640.3" cy="40.5" r="1.3"/><circle cx="640.3" cy="44.9" r="1.3"/><circle cx="652.8" cy="45.8" r="1.3"/><circle cx="52.1" cy="141.3" r="1.3"/><circle cx="52.1" cy="143.0" r="1.3"/><circle cx="61.3" cy="145.7" r="1.3"/><circle cx="69.0" cy="139.5" r="1.3"/><circle cx="69.0" cy="141.0" r="1.3"/><circle cx="69.0" cy="142.5" r="1.3"/><circle cx="69.0" cy="144.0" r="1.3"/><circle cx="69.0" cy="145.5" r="1.3"/><circle cx="82.2" cy="134.7" r="1.3"/><circle cx="82.2" cy="138.6" r="1.3"/><circle cx="82.2" cy="140.2" r="1.3"/><circle cx="82.2" cy="145.1" r="1.3"/><circle cx="91.2" cy="143.6" r="1.3"/><circle cx="102.9" cy="141.8" r="1.3"/><circle cx="102.9" cy="144.0" r="1.3"/><circle cx="102.9" cy="146.1" r="1.3"/><circle cx="119.5" cy="143.7" r="1.3"/><circle cx="119.5" cy="145.0" r="1.3"/><circle cx="135.1" cy="145.9" r="1.3"/><circle cx="137.1" cy="147.0" r="1.3"/><circle cx="175.8" cy="142.3" r="1.3"/><circle cx="175.8" cy="144.1" r="1.3"/><circle cx="175.8" cy="145.9" r="1.3"/><circle cx="190.9" cy="139.7" r="1.3"/><circle cx="190.9" cy="141.8" r="1.3"/><circle cx="190.9" cy="144.8" r="1.3"/><circle cx="213.4" cy="133.0" r="1.3"/><circle cx="213.4" cy="139.9" r="1.3"/><circle cx="213.4" cy="145.3" r="1.3"/><circle cx="299.4" cy="135.3" r="1.3"/><circle cx="299.4" cy="136.9" r="1.3"/><circle cx="299.4" cy="138.5" r="1.3"/><circle cx="299.4" cy="140.1" r="1.3"/><circle cx="299.4" cy="141.7" r="1.3"/><circle cx="299.4" cy="143.3" r="1.3"/><circle cx="299.4" cy="144.9" r="1.3"/><circle cx="310.3" cy="140.0" r="1.3"/><circle cx="310.3" cy="141.4" r="1.3"/><circle cx="310.3" cy="145.3" r="1.3"/><circle cx="318.1" cy="138.1" r="1.3"/><circle cx="318.1" cy="140.2" r="1.3"/><circle cx="356.3" cy="111.9" r="1.3"/><circle cx="356.3" cy="114.0" r="1.3"/><circle cx="356.3" cy="118.5" r="1.3"/><circle cx="356.3" cy="129.6" r="1.3"/><circle cx="356.3" cy="131.3" r="1.3"/><circle cx="356.3" cy="133.0" r="1.3"/><circle cx="356.3" cy="136.7" r="1.3"/><circle cx="350.5" cy="144.2" r="1.3"/><circle cx="350.5" cy="146.3" r="1.3"/><circle cx="352.1" cy="142.4" r="1.3"/><circle cx="352.1" cy="144.4" r="1.3"/><circle cx="352.1" cy="146.3" r="1.3"/><circle cx="353.7" cy="140.3" r="1.3"/><circle cx="353.7" cy="142.2" r="1.3"/><circle cx="353.7" cy="144.1" r="1.3"/><circle cx="353.7" cy="146.0" r="1.3"/><circle cx="355.0" cy="143.5" r="1.3"/><circle cx="355.0" cy="146.2" r="1.3"/><circle cx="371.0" cy="109.9" r="1.3"/><circle cx="371.0" cy="111.6" r="1.3"/><circle cx="371.0" cy="113.2" r="1.3"/><circle cx="371.0" cy="114.9" r="1.3"/><circle cx="371.0" cy="116.6" r="1.3"/><circle cx="371.0" cy="118.2" r="1.3"/><circle cx="371.0" cy="119.9" r="1.3"/><circle cx="371.0" cy="121.5" r="1.3"/><circle cx="371.0" cy="123.2" r="1.3"/><circle cx="371.0" cy="124.9" r="1.3"/><circle cx="371.0" cy="126.5" r="1.3"/><circle cx="371.0" cy="128.2" r="1.3"/><circle cx="371.0" cy="129.9" r="1.3"/><circle cx="371.0" cy="131.5" r="1.3"/><circle cx="371.0" cy="133.2" r="1.3"/><circle cx="372.2" cy="109.5" r="1.3"/><circle cx="372.2" cy="111.2" r="1.3"/><circle cx="372.2" cy="112.9" r="1.3"/><circle cx="372.2" cy="114.6" r="1.3"/><circle cx="372.2" cy="116.3" r="1.3"/><circle cx="372.2" cy="118.0" r="1.3"/><circle cx="372.2" cy="119.7" r="1.3"/><circle cx="372.2" cy="121.3" r="1.3"/><circle cx="372.2" cy="123.0" r="1.3"/><circle cx="372.2" cy="124.7" r="1.3"/><circle cx="372.2" cy="126.4" r="1.3"/><circle cx="372.2" cy="128.1" r="1.3"/><circle cx="372.2" cy="129.8" r="1.3"/><circle cx="372.2" cy="131.5" r="1.3"/><circle cx="372.2" cy="133.2" r="1.3"/><circle cx="425.1" cy="146.6" r="1.3"/><circle cx="427.0" cy="145.1" r="1.3"/><circle cx="492.7" cy="131.2" r="1.3"/><circle cx="492.7" cy="132.9" r="1.3"/><circle cx="492.7" cy="134.6" r="1.3"/><circle cx="492.7" cy="136.2" r="1.3"/><circle cx="492.7" cy="137.9" r="1.3"/><circle cx="492.7" cy="139.6" r="1.3"/><circle cx="492.7" cy="146.8" r="1.3"/><circle cx="590.5" cy="128.6" r="1.3"/><circle cx="590.5" cy="129.9" r="1.3"/><circle cx="590.5" cy="131.3" r="1.3"/><circle cx="590.5" cy="136.0" r="1.3"/><circle cx="590.5" cy="138.2" r="1.3"/><circle cx="590.5" cy="142.0" r="1.3"/><circle cx="590.5" cy="144.2" r="1.3"/><circle cx="594.8" cy="139.4" r="1.3"/><circle cx="594.8" cy="140.8" r="1.3"/><circle cx="594.8" cy="142.1" r="1.3"/><circle cx="616.2" cy="130.5" r="1.3"/><circle cx="616.2" cy="138.5" r="1.3"/><circle cx="616.2" cy="143.1" r="1.3"/><circle cx="616.2" cy="147.1" r="1.3"/><circle cx="646.6" cy="138.3" r="1.3"/><circle cx="646.6" cy="140.6" r="1.3"/><circle cx="646.6" cy="143.9" r="1.3"/><circle cx="649.5" cy="142.9" r="1.3"/><circle cx="649.5" cy="144.3" r="1.3"/><circle cx="649.5" cy="145.8" r="1.3"/><circle cx="61.3" cy="222.7" r="1.3"/><circle cx="61.3" cy="227.7" r="1.3"/><circle cx="404.4" cy="215.6" r="1.3"/><circle cx="404.4" cy="217.4" r="1.3"/><circle cx="404.4" cy="219.1" r="1.3"/><circle cx="404.4" cy="220.9" r="1.3"/><circle cx="404.4" cy="222.6" r="1.3"/><circle cx="404.4" cy="224.4" r="1.3"/><circle cx="404.4" cy="228.5" r="1.3"/><circle cx="412.9" cy="228.5" r="1.3"/><circle cx="620.4" cy="225.3" r="1.3"/></g>
<g fill="#3e68db"><circle cx="52.1" cy="147.7" r="2.1"/><circle cx="61.3" cy="142.5" r="2.1"/><circle cx="594.8" cy="147.8" r="2.1"/><circle cx="52.2" cy="228.0" r="2.1"/><circle cx="61.3" cy="218.6" r="2.1"/><circle cx="594.6" cy="228.0" r="2.1"/></g>
<line x1="38.9" y1="64.4" x2="685" y2="64.4" stroke="#2a2a2a" stroke-width="1.2" stroke-dasharray="3.1 2.91"/>
<line x1="39.1" y1="169.5" x2="662" y2="169.5" stroke="#2a2a2a" stroke-width="1.2" stroke-dasharray="3.1 2.91"/>
<line x1="39.9" y1="267.25" x2="662" y2="267.25" stroke="#2a2a2a" stroke-width="1.2" stroke-dasharray="3.1 2.91"/>
<line x1="118.1" y1="1" x2="118.1" y2="286.2" stroke="#333" stroke-width="1.3"/>
<line x1="194.0" y1="1" x2="194.0" y2="286.2" stroke="#333" stroke-width="1.3"/>
<line x1="262.4" y1="1" x2="262.4" y2="286.2" stroke="#333" stroke-width="1.3"/>
<line x1="327.8" y1="1" x2="327.8" y2="286.2" stroke="#333" stroke-width="1.3"/>
<line x1="393.6" y1="1" x2="393.6" y2="286.2" stroke="#333" stroke-width="1.3"/>
<line x1="458.4" y1="1" x2="458.4" y2="286.2" stroke="#333" stroke-width="1.3"/>
<line x1="519.9" y1="1" x2="519.9" y2="286.2" stroke="#333" stroke-width="1.3"/>
<line x1="573.4" y1="1" x2="573.4" y2="286.2" stroke="#333" stroke-width="1.3"/>
<line x1="625.4" y1="1" x2="625.4" y2="286.2" stroke="#333" stroke-width="1.3"/>
<g font-family="Liberation Sans, sans-serif" fill="#000">
<line x1="35.4" y1="11.0" x2="35.4" y2="74.4" stroke="#000" stroke-width="1.1"/>
<line x1="30.099999999999998" y1="11.0" x2="35.4" y2="11.0" stroke="#000" stroke-width="1.1"/>
<line x1="30.099999999999998" y1="23.7" x2="35.4" y2="23.7" stroke="#000" stroke-width="1.1"/>
<text font-size="8.3" text-anchor="middle" transform="translate(26.1 23.7) rotate(-90)">0.12</text>
<line x1="30.099999999999998" y1="36.4" x2="35.4" y2="36.4" stroke="#000" stroke-width="1.1"/>
<line x1="30.099999999999998" y1="49.0" x2="35.4" y2="49.0" stroke="#000" stroke-width="1.1"/>
<text font-size="8.3" text-anchor="middle" transform="translate(26.1 49.0) rotate(-90)">0.08</text>
<line x1="30.099999999999998" y1="61.7" x2="35.4" y2="61.7" stroke="#000" stroke-width="1.1"/>
<line x1="30.099999999999998" y1="74.4" x2="35.4" y2="74.4" stroke="#000" stroke-width="1.1"/>
<text font-size="8.3" text-anchor="middle" transform="translate(26.1 74.4) rotate(-90)">0.04</text>
<text font-size="8.2" text-anchor="middle" transform="translate(7.2 44.5) rotate(-90)">Fst FR-GB</text>
<line x1="36.4" y1="113.0" x2="36.4" y2="171.0" stroke="#000" stroke-width="1.1"/>
<line x1="31.099999999999998" y1="113.0" x2="36.4" y2="113.0" stroke="#000" stroke-width="1.1"/>
<text font-size="8.3" text-anchor="middle" transform="translate(28.3 113.0) rotate(-90)">0.4</text>
<line x1="31.099999999999998" y1="132.3" x2="36.4" y2="132.3" stroke="#000" stroke-width="1.1"/>
<text font-size="8.3" text-anchor="middle" transform="translate(28.3 132.3) rotate(-90)">0.3</text>
<line x1="31.099999999999998" y1="151.6" x2="36.4" y2="151.6" stroke="#000" stroke-width="1.1"/>
<text font-size="8.3" text-anchor="middle" transform="translate(28.3 151.6) rotate(-90)">0.2</text>
<line x1="31.099999999999998" y1="171.0" x2="36.4" y2="171.0" stroke="#000" stroke-width="1.1"/>
<text font-size="8.3" text-anchor="middle" transform="translate(28.3 171.0) rotate(-90)">0.1</text>
<text font-size="8.2" text-anchor="middle" transform="translate(8.3 144.7) rotate(-90)">Fst GB-WS</text>
<line x1="35.4" y1="217.6" x2="35.4" y2="271.2" stroke="#000" stroke-width="1.1"/>
<line x1="30.099999999999998" y1="217.6" x2="35.4" y2="217.6" stroke="#000" stroke-width="1.1"/>
<line x1="30.099999999999998" y1="235.4" x2="35.4" y2="235.4" stroke="#000" stroke-width="1.1"/>
<text font-size="8.3" text-anchor="middle" transform="translate(26.1 235.4) rotate(-90)">0.2</text>
<line x1="30.099999999999998" y1="253.3" x2="35.4" y2="253.3" stroke="#000" stroke-width="1.1"/>
<line x1="30.099999999999998" y1="271.2" x2="35.4" y2="271.2" stroke="#000" stroke-width="1.1"/>
<text font-size="8.3" text-anchor="middle" transform="translate(26.1 271.2) rotate(-90)">0.1</text>
<text font-size="8.2" text-anchor="middle" transform="translate(7.2 245.8) rotate(-90)">Fst FR-WS</text>
<text font-size="12" x="1.0" y="8.7">A</text>
<text font-size="12" x="2.1" y="110.5">B</text>
<text font-size="12" x="-0.9" y="214.6">C</text>
<text font-size="8.3" text-anchor="middle" x="76.2" y="294.2">Chr1</text>
<text font-size="8.3" text-anchor="middle" x="153.5" y="294.2">Chr2</text>
<text font-size="8.3" text-anchor="middle" x="227.3" y="294.2">Chr3</text>
<text font-size="8.3" text-anchor="middle" x="292.8" y="294.2">Chr4</text>
<text font-size="8.3" text-anchor="middle" x="358.2" y="294.2">Chr5</text>
<text font-size="8.3" text-anchor="middle" x="424.6" y="294.2">Chr6</text>
<text font-size="8.3" text-anchor="middle" x="486.9" y="294.2">Chr7</text>
<text font-size="8.3" text-anchor="middle" x="544.5" y="294.2">Chr8</text>
<text font-size="8.3" text-anchor="middle" x="595.1" y="294.2">Chr9</text>
<text font-size="8.3" text-anchor="middle" x="645.2" y="294.2">Chr10</text>
<text font-size="8.15" text-anchor="middle" x="358.0" y="316.3">Sliding windows across the genome</text>
</g>
</svg>
</body></html>
